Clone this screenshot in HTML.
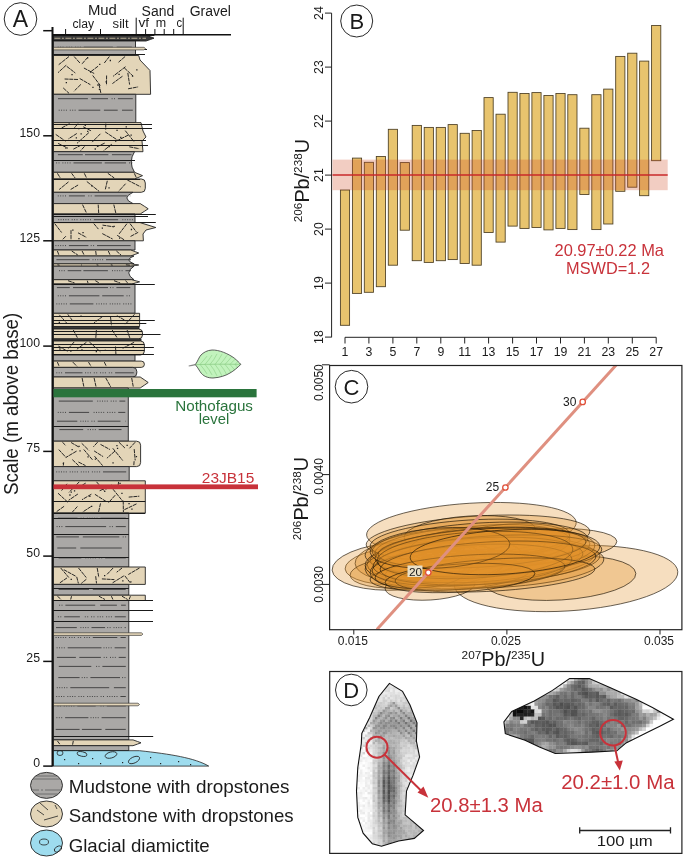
<!DOCTYPE html>
<html><head><meta charset="utf-8"><style>
html,body{margin:0;padding:0;background:#fff;}
svg{display:block;will-change:transform;}
text{font-family:"Liberation Sans",sans-serif;}
</style></head><body>
<svg width="685" height="859" viewBox="0 0 685 859">
<rect width="685" height="859" fill="#fff"/>
<g id="column">
<path d="M53.4,35 L135.5,35 L135.5,55.5 L53.4,55.5 Z" fill="#aaa8a6" stroke="#222" stroke-width="0.9"/>
<path d="M56.0,39.0h14.2 M73.8,39.0h1 M76.2,39.0h1 M80.1,39.0h18.4 M100.8,39.0h1 M103.2,39.0h1 M105.6,39.0h1 M109.5,39.0h1 M111.9,39.0h1 M114.3,39.0h1 M116.7,39.0h1 M119.1,39.0h1 M123.0,39.0h1 M125.4,39.0h1 M129.3,39.0h3.2" stroke="#3a3a3a" stroke-width="1" opacity="0.9"/>
<path d="M57.7,47.2h1 M60.1,47.2h1 M62.5,47.2h1 M66.4,47.2h1 M68.8,47.2h1 M71.2,47.2h1 M75.1,47.2h1 M77.5,47.2h1 M79.9,47.2h1 M83.8,47.2h29.1 M116.7,47.2h15.1" stroke="#3a3a3a" stroke-width="1" opacity="0.9"/>
<path d="M53.4,35.3 L146,35.3 Q151,37.01 154,38.15 Q151,39.29 146,41 L53.4,41 Z" fill="#3a3a3a" stroke="#222" stroke-width="0.9"/>
<path d="M53.4,55.5 L138.7,55.5 L140,60 L150,70.5 L150.6,94.3 L53.4,94.3 Z" fill="#e3d5b8" stroke="#222" stroke-width="0.9"/>
<path d="M69.0,56.5L58.7,64.7 M74.1,56.5L80.0,63.1 M87.8,57.2L81.6,64.4 M109.4,56.5L104.3,63.0 M125.1,56.5L118.0,62.7 M66.2,65.2L58.0,72.7 M66.7,66.3L75.3,73.0 M83.9,68.0L94.2,73.5 M98.1,66.2L90.1,72.2 M125.5,66.7L113.1,76.3 M124.2,67.8L133.1,76.1 M64.6,79.0L78.0,79.5 M79.7,78.5L90.4,84.7 M92.7,75.5L100.3,85.5 M106.6,75.5L106.5,85.1 M122.5,76.2L112.4,83.6 M127.8,72.9L129.6,84.6 M63.2,87.9L69.0,93.3 M80.9,84.4L74.0,91.2 M99.0,84.4L100.9,93.3 M128.1,88.8L138.1,86.9" stroke="#1e1e1e" stroke-width="0.95" stroke-dasharray="4 0.7" fill="none"/>
<path d="M71.4,74.7h1.3 M90.1,72.2h1.3 M97.3,85.0h1.3 M105.5,81.8h1.3 M136.2,69.9h1.3 M87.0,57.9h1.3 M92.3,87.4h1.3 M118.4,74.3h1.3 M131.9,76.2h1.3 M98.8,89.3h1.3 M65.7,82.7h1.3 M99.1,64.4h1.3 M109.7,60.5h1.3" stroke="#222" stroke-width="1.3"/>
<path d="M53.4,94.3 L135.8,94.3 L135.8,122.6 L53.4,122.6 Z" fill="#aaa8a6" stroke="#222" stroke-width="0.9"/>
<path d="M58.0,98.7h29.9 M91.3,98.7h16.7 M111.6,98.7h1 M114.0,98.7h1 M117.9,98.7h14.9" stroke="#3a3a3a" stroke-width="1" opacity="0.9"/>
<path d="M58.7,110.2h1 M61.1,110.2h1 M63.5,110.2h1 M65.9,110.2h1 M69.8,110.2h1 M72.2,110.2h1 M74.6,110.2h1 M78.5,110.2h21.8 M103.9,110.2h13.8 M122.0,110.2h10.8" stroke="#3a3a3a" stroke-width="1" opacity="0.9"/>
<path d="M53.4,122.6 L141,122.6 L143,131 L146,137 L142,141 L143,151.7 L53.4,151.7 Z" fill="#e3d5b8" stroke="#222" stroke-width="0.9"/>
<path d="M69.6,123.6L60.8,128.4 M77.9,123.6L73.8,128.6 M83.2,126.8L91.6,131.1 M105.8,123.6L105.7,129.6 M55.7,134.4L65.6,141.2 M76.8,133.5L68.4,138.9 M88.9,132.6L77.0,143.3 M100.4,133.8L92.2,142.1 M105.2,131.9L117.8,140.3 M128.4,135.0L115.0,141.8 M125.2,130.6L134.3,142.0 M58.1,143.4L67.9,148.2 M81.1,145.2L72.9,149.4 M84.5,146.4L80.6,150.7 M104.7,143.1L96.5,147.0 M111.8,144.2L103.6,150.7 M129.3,146.8L139.1,148.7" stroke="#1e1e1e" stroke-width="0.95" stroke-dasharray="4 0.7" fill="none"/>
<path d="M75.7,137.9h1.3 M84.6,125.3h1.3 M94.6,149.0h1.3 M108.4,146.6h1.3 M130.5,135.1h1.3 M65.3,148.2h1.3 M78.1,128.7h1.3 M80.5,133.8h1.3 M120.1,137.5h1.3 M125.6,126.8h1.3 M87.1,131.4h1.3 M116.4,130.4h1.3" stroke="#222" stroke-width="1.3"/>
<path d="M53.4,151.7 L134.5,151.7 Q128,162.0 134.5,172.3 L53.4,172.3 Z" fill="#aaa8a6" stroke="#222" stroke-width="0.9"/>
<path d="M57.9,154.7h24.9 M85.0,154.7h23.4 M111.9,154.7h19.6" stroke="#3a3a3a" stroke-width="1" opacity="0.9"/>
<path d="M56.1,162.9h1 M58.5,162.9h1 M62.4,162.9h1 M64.8,162.9h1 M67.2,162.9h1 M69.6,162.9h1 M73.5,162.9h28.4 M104.7,162.9h21.3 M129.0,162.9h1 M131.4,162.9h1" stroke="#3a3a3a" stroke-width="1" opacity="0.9"/>
<path d="M53.4,172.3 L134.5,172.3 Q139.5,174.31 142.5,175.65 Q139.5,176.99 134.5,179 L53.4,179 Z" fill="#e3d5b8" stroke="#222" stroke-width="0.9"/>
<path d="M57.4,173.3L60.3,178.0 M71.6,173.3L75.1,178.0 M84.3,173.3L86.6,178.0 M107.8,173.3L114.3,178.0 M134.3,173.3L136.5,178.0" stroke="#1e1e1e" stroke-width="0.95" stroke-dasharray="4 0.7" fill="none"/>
<path d="M53.4,179 L141.3,179 Q145.3,179 145.3,183 L145.3,188.3 Q145.3,192.3 141.3,192.3 L53.4,192.3 Z" fill="#e3d5b8" stroke="#222" stroke-width="0.9"/>
<path d="M68.5,181.9L59.2,189.5 M78.1,185.0L70.3,189.7 M86.8,181.5L99.1,191.3 M107.3,180.8L105.2,190.0 M125.6,183.7L118.6,191.3 M127.3,180.0L140.6,186.8" stroke="#1e1e1e" stroke-width="0.95" stroke-dasharray="4 0.7" fill="none"/>
<path d="M91.1,185.9h1.3 M108.4,187.9h1.3" stroke="#222" stroke-width="1.3"/>
<path d="M53.4,192.3 L133,192.3 Q120.7,197.95 133,203.6 L53.4,203.6 Z" fill="#aaa8a6" stroke="#222" stroke-width="0.9"/>
<path d="M57.8,195.9h1 M60.2,195.9h1 M62.6,195.9h1 M65.0,195.9h1 M68.9,195.9h16.0 M88.3,195.9h1 M90.7,195.9h1 M94.6,195.9h32.3 M129.8,195.9h0.5" stroke="#3a3a3a" stroke-width="1" opacity="0.9"/>
<path d="M53.4,203.6 L140.2,203.6 Q145.2,206.72 148.2,208.8 Q145.2,210.88 140.2,214 L53.4,214 Z" fill="#e3d5b8" stroke="#222" stroke-width="0.9"/>
<path d="M82.5,204.6L86.5,213.0 M98.2,204.6L98.7,213.0 M113.8,204.6L115.8,213.0" stroke="#1e1e1e" stroke-width="0.95" stroke-dasharray="4 0.7" fill="none"/>
<path d="M53.4,214 L135,214 L135,222.6 L53.4,222.6 Z" fill="#aaa8a6" stroke="#222" stroke-width="0.9"/>
<path d="M58.2,219.7h1 M60.6,219.7h1 M63.0,219.7h1 M65.4,219.7h1 M67.8,219.7h1 M71.7,219.7h1 M74.1,219.7h1 M76.5,219.7h1 M80.4,219.7h1 M82.8,219.7h1 M85.2,219.7h1 M87.6,219.7h1 M90.0,219.7h1 M93.9,219.7h24.2 M122.3,219.7h1 M124.7,219.7h1 M127.1,219.7h1 M129.5,219.7h1 M131.9,219.7h1" stroke="#3a3a3a" stroke-width="1" opacity="0.9"/>
<path d="M53.4,222.6 L140,222.6 L155.8,227.5 L146,230 L143,234 L143.4,240.8 L53.4,240.8 Z" fill="#e3d5b8" stroke="#222" stroke-width="0.9"/>
<path d="M54.7,223.6L61.6,232.5 M93.8,223.6L98.4,229.1 M102.5,225.1L114.0,226.9 M126.9,223.7L119.1,233.9 M130.0,223.6L136.3,231.8 M65.9,236.2L62.3,239.8 M71.0,230.2L71.0,239.8 M78.0,232.8L86.5,237.4 M102.3,233.6L112.6,239.0 M117.2,235.3L124.1,239.8 M138.2,232.3L130.1,236.7" stroke="#1e1e1e" stroke-width="0.95" stroke-dasharray="4 0.7" fill="none"/>
<path d="M72.2,230.2h1.3 M101.7,228.1h1.3 M130.8,229.5h1.3 M78.3,238.7h1.3 M82.4,232.7h1.3 M113.5,226.4h1.3 M119.0,238.1h1.3" stroke="#222" stroke-width="1.3"/>
<path d="M53.4,240.8 L135,240.8 L135,250 L53.4,250 Z" fill="#aaa8a6" stroke="#222" stroke-width="0.9"/>
<path d="M55.4,245.6h1 M57.8,245.6h1 M60.2,245.6h1 M62.6,245.6h1 M65.0,245.6h1 M68.9,245.6h19.5 M90.7,245.6h1 M93.1,245.6h1 M97.0,245.6h33.7" stroke="#3a3a3a" stroke-width="1" opacity="0.9"/>
<path d="M53.4,250 L130.7,250 Q135.7,251.8 138.7,253.0 Q135.7,254.2 130.7,256 L53.4,256 Z" fill="#e3d5b8" stroke="#222" stroke-width="0.9"/>
<path d="M57.4,251.0L58.9,255.0 M71.7,251.0L77.8,255.0 M82.1,251.0L84.1,255.0 M95.7,251.0L96.2,255.0 M108.3,251.0L110.1,255.0 M116.4,251.0L121.0,255.0" stroke="#1e1e1e" stroke-width="0.95" stroke-dasharray="4 0.7" fill="none"/>
<path d="M53.4,256 L134,256 Q123.5,259.9 134,263.8 L53.4,263.8 Z" fill="#aaa8a6" stroke="#222" stroke-width="0.9"/>
<path d="M56.4,259.7h33.1 M92.5,259.7h1 M94.9,259.7h1 M97.3,259.7h1 M99.7,259.7h1 M102.1,259.7h1 M106.0,259.7h25.0" stroke="#3a3a3a" stroke-width="1" opacity="0.9"/>
<path d="M53.4,263.8 L130.7,263.8 Q135.7,264.52 138.7,265.0 Q135.7,265.48 130.7,266.2 L53.4,266.2 Z" fill="#e3d5b8" stroke="#222" stroke-width="0.9"/>
<path d="M57.4,264.8L59.6,265.2 M81.9,264.8L81.1,265.2 M96.6,264.8L98.4,265.2 M110.8,264.8L112.6,265.2 M125.9,264.8L130.0,265.2" stroke="#1e1e1e" stroke-width="0.95" stroke-dasharray="4 0.7" fill="none"/>
<path d="M53.4,266.2 L134,266.2 Q123.5,272.95 134,279.7 L53.4,279.7 Z" fill="#aaa8a6" stroke="#222" stroke-width="0.9"/>
<path d="M59.0,270.7h1 M61.4,270.7h1 M63.8,270.7h1 M67.7,270.7h13.6 M83.4,270.7h24.5 M112.0,270.7h1 M114.4,270.7h1 M116.8,270.7h1 M119.2,270.7h1 M121.6,270.7h1 M125.5,270.7h5.5" stroke="#3a3a3a" stroke-width="1" opacity="0.9"/>
<path d="M53.4,279.7 L131.6,279.7 Q136.6,280.99 139.6,281.85 Q136.6,282.71 131.6,284 L53.4,284 Z" fill="#e3d5b8" stroke="#222" stroke-width="0.9"/>
<path d="M68.0,280.7L74.6,283.0 M87.3,280.7L88.0,283.0 M95.3,280.7L99.3,283.0 M114.0,280.7L120.2,283.0 M125.4,280.7L127.8,283.0" stroke="#1e1e1e" stroke-width="0.95" stroke-dasharray="4 0.7" fill="none"/>
<path d="M53.4,284 L135,284 L135,313.3 L53.4,313.3 Z" fill="#aaa8a6" stroke="#222" stroke-width="0.9"/>
<path d="M56.9,287.6h12.9 M73.0,287.6h35.0 M110.1,287.6h1 M112.5,287.6h1 M116.4,287.6h13.9" stroke="#3a3a3a" stroke-width="1" opacity="0.9"/>
<path d="M57.8,295.8h1 M60.2,295.8h1 M62.6,295.8h1 M65.0,295.8h1 M68.9,295.8h30.5 M102.2,295.8h21.5 M126.5,295.8h1 M128.9,295.8h1" stroke="#3a3a3a" stroke-width="1" opacity="0.9"/>
<path d="M56.3,303.9h1 M58.7,303.9h1 M61.1,303.9h1 M63.5,303.9h1 M65.9,303.9h1 M69.8,303.9h23.6 M96.2,303.9h1 M98.6,303.9h1 M101.0,303.9h1 M103.4,303.9h1 M105.8,303.9h1 M109.7,303.9h1 M112.1,303.9h1 M114.5,303.9h1 M116.9,303.9h1 M119.3,303.9h1 M123.2,303.9h1 M125.6,303.9h1 M128.0,303.9h1 M130.4,303.9h1" stroke="#3a3a3a" stroke-width="1" opacity="0.9"/>
<path d="M53.4,313.3 L139.6,313.3 L139.6,326.6 L53.4,326.6 Z" fill="#e3d5b8" stroke="#222" stroke-width="0.9"/>
<path d="M59.3,314.8L66.8,323.2 M67.8,314.3L72.5,320.6 M102.6,316.5L94.0,322.8 M110.4,316.0L111.5,325.6 M116.9,315.7L126.2,321.0 M134.5,314.3L125.1,324.5" stroke="#1e1e1e" stroke-width="0.95" stroke-dasharray="4 0.7" fill="none"/>
<path d="M58.7,322.3h1.3 M80.4,316.2h1.3" stroke="#222" stroke-width="1.3"/>
<path d="M53.4,326.6 L139,326.6 L139,329 L53.4,329 Z" fill="#3a3a3a" stroke="#222" stroke-width="0.9"/>
<path d="M53.4,329 L138.5,329 Q142.5,329 142.5,333 L142.5,334.9 Q142.5,338.9 138.5,338.9 L53.4,338.9 Z" fill="#e3d5b8" stroke="#222" stroke-width="0.9"/>
<path d="M73.3,330.0L77.5,337.9 M96.4,330.0L95.8,337.9 M112.2,330.0L117.2,337.9 M127.1,330.0L129.8,337.9" stroke="#1e1e1e" stroke-width="0.95" stroke-dasharray="4 0.7" fill="none"/>
<path d="M53.4,338.9 L141,338.9 L141,341 L53.4,341 Z" fill="#3a3a3a" stroke="#222" stroke-width="0.9"/>
<path d="M53.4,341 L140.4,341 Q144.4,341 144.4,345 L144.4,351 Q144.4,355 140.4,355 L53.4,355 Z" fill="#e3d5b8" stroke="#222" stroke-width="0.9"/>
<path d="M58.4,346.1L67.5,351.3 M74.1,342.0L68.4,348.5 M86.4,342.3L76.9,349.2 M89.4,342.0L100.4,351.8 M115.5,346.5L115.9,354.0 M134.1,342.3L122.7,348.3" stroke="#1e1e1e" stroke-width="0.95" stroke-dasharray="4 0.7" fill="none"/>
<path d="M59.3,349.0h1.3 M70.2,351.0h1.3 M81.3,350.0h1.3 M95.7,351.6h1.3 M104.7,350.3h1.3 M132.6,346.7h1.3" stroke="#222" stroke-width="1.3"/>
<path d="M53.4,355 L135,355 L135,361.1 L53.4,361.1 Z" fill="#aaa8a6" stroke="#222" stroke-width="0.9"/>
<path d="M53.4,361.1 L141.25000000000003,361.1 Q144.4,361.1 144.4,364.25 L144.4,364.25 Q144.4,367.4 141.25000000000003,367.4 L53.4,367.4 Z" fill="#e3d5b8" stroke="#222" stroke-width="0.9"/>
<path d="M57.4,362.1L59.2,366.4 M72.8,362.1L77.0,366.4 M88.5,362.1L91.1,366.4 M104.3,362.1L106.4,366.4" stroke="#1e1e1e" stroke-width="0.95" stroke-dasharray="4 0.7" fill="none"/>
<path d="M53.4,367.4 L132.8,367.4 Q136.8,367.4 136.8,371.4 L136.8,373 Q136.8,377 132.8,377 L53.4,377 Z" fill="#aaa8a6" stroke="#222" stroke-width="0.9"/>
<path d="M56.3,372.8h1 M58.7,372.8h1 M61.1,372.8h1 M65.0,372.8h17.5 M85.1,372.8h1 M87.5,372.8h1 M89.9,372.8h1 M93.8,372.8h1 M96.2,372.8h1 M100.1,372.8h1 M102.5,372.8h1 M104.9,372.8h1 M108.8,372.8h1 M111.2,372.8h1 M115.1,372.8h18.7" stroke="#3a3a3a" stroke-width="1" opacity="0.9"/>
<path d="M53.4,377 L140.2,377 Q145.2,380.3 148.2,382.5 Q145.2,384.7 140.2,388 L53.4,388 Z" fill="#e3d5b8" stroke="#222" stroke-width="0.9"/>
<path d="M82.1,378.0L83.9,387.0 M94.1,378.0L96.1,387.0 M105.8,378.0L110.8,387.0 M131.7,378.0L133.3,387.0" stroke="#1e1e1e" stroke-width="0.95" stroke-dasharray="4 0.7" fill="none"/>
<path d="M53.4,388 L128.3,388 L128.3,441.2 L53.4,441.2 Z" fill="#aaa8a6" stroke="#222" stroke-width="0.9"/>
<path d="M58.0,392.5h1 M60.4,392.5h1 M62.8,392.5h1 M66.7,392.5h1 M69.1,392.5h1 M71.5,392.5h1 M73.9,392.5h1 M77.8,392.5h27.3 M107.3,392.5h18.0" stroke="#3a3a3a" stroke-width="1" opacity="0.9"/>
<path d="M58.8,401.1h34.0 M97.2,401.1h1 M99.6,401.1h1 M102.0,401.1h1 M104.4,401.1h1 M106.8,401.1h1 M110.7,401.1h1 M113.1,401.1h1 M115.5,401.1h1 M119.4,401.1h5.9" stroke="#3a3a3a" stroke-width="1" opacity="0.9"/>
<path d="M57.8,412.4h1 M60.2,412.4h1 M62.6,412.4h1 M65.0,412.4h1 M68.9,412.4h20.2 M93.6,412.4h1 M96.0,412.4h1 M98.4,412.4h1 M100.8,412.4h1 M103.2,412.4h1 M107.1,412.4h1 M109.5,412.4h1 M111.9,412.4h1 M114.3,412.4h1 M118.2,412.4h7.1" stroke="#3a3a3a" stroke-width="1" opacity="0.9"/>
<path d="M57.0,421.2h20.3 M80.3,421.2h1 M82.7,421.2h1 M85.1,421.2h1 M87.5,421.2h1 M91.4,421.2h1 M93.8,421.2h1 M97.7,421.2h22.8 M125.2,421.2h0.5" stroke="#3a3a3a" stroke-width="1" opacity="0.9"/>
<path d="M59.4,429.6h23.8 M87.6,429.6h1 M90.0,429.6h1 M92.4,429.6h1 M94.8,429.6h1 M98.7,429.6h22.8" stroke="#3a3a3a" stroke-width="1" opacity="0.9"/>
<path d="M53.4,441.2 L136.6,441.2 Q140.6,441.2 140.6,445.2 L140.6,462.6 Q140.6,466.6 136.6,466.6 L53.4,466.6 Z" fill="#e3d5b8" stroke="#222" stroke-width="0.9"/>
<path d="M62.4,442.2L65.9,445.6 M71.1,442.5L78.9,447.1 M81.7,443.3L88.8,450.3 M97.6,442.2L93.4,446.8 M100.5,444.4L109.9,449.5 M118.9,442.2L124.9,448.0 M135.2,442.2L129.5,448.3 M58.8,449.6L66.0,457.5 M76.6,451.1L65.8,457.5 M83.8,449.5L92.8,460.2 M94.1,450.9L103.1,456.6 M115.0,451.0L106.9,458.2 M112.8,448.3L122.7,460.5 M134.2,449.1L135.2,460.4 M63.7,462.4L63.3,465.6 M72.3,459.6L78.6,465.6 M78.4,462.0L85.5,465.6 M94.5,456.2L102.6,465.6 M134.1,461.2L133.8,465.6" stroke="#1e1e1e" stroke-width="0.95" stroke-dasharray="4 0.7" fill="none"/>
<path d="M79.4,450.8h1.3 M62.7,463.3h1.3 M71.5,449.6h1.3 M94.8,459.2h1.3 M116.9,448.3h1.3 M135.8,456.7h1.3 M78.4,446.3h1.3 M87.4,456.8h1.3 M112.4,462.8h1.3 M116.3,445.6h1.3 M126.5,445.3h1.3" stroke="#222" stroke-width="1.3"/>
<path d="M53.4,466.6 L129.2,466.6 L129.2,480.8 L53.4,480.8 Z" fill="#aaa8a6" stroke="#222" stroke-width="0.9"/>
<path d="M56.2,471.9h1 M58.6,471.9h1 M61.0,471.9h1 M63.4,471.9h1 M65.8,471.9h1 M69.7,471.9h1 M72.1,471.9h1 M74.5,471.9h1 M76.9,471.9h1 M80.8,471.9h1 M83.2,471.9h1 M85.6,471.9h1 M88.0,471.9h1 M91.9,471.9h1 M94.3,471.9h1 M96.7,471.9h1 M99.1,471.9h1 M103.0,471.9h23.2" stroke="#3a3a3a" stroke-width="1" opacity="0.9"/>
<path d="M53.4,480.8 L145.3,480.8 L145.3,513 L53.4,513 Z" fill="#e3d5b8" stroke="#222" stroke-width="0.9"/>
<path d="M67.0,483.8L61.2,491.0 M79.3,481.8L69.0,492.4 M85.7,483.1L77.4,488.0 M96.5,481.8L104.2,490.7 M111.9,485.0L99.0,491.1 M118.6,481.8L117.9,487.1 M125.5,486.1L135.7,486.6 M58.0,493.2L67.8,502.2 M77.9,494.0L68.6,500.3 M91.4,494.2L82.0,499.7 M94.9,494.3L106.0,501.4 M115.2,495.2L108.4,502.8 M113.0,489.2L122.7,501.2 M128.7,497.1L139.3,496.2 M64.1,506.3L56.1,512.0 M77.4,506.5L72.4,512.0 M90.8,506.7L82.7,512.0 M100.5,503.4L98.6,512.0 M123.2,500.7L123.4,512.0 M136.5,503.9L123.7,510.0" stroke="#1e1e1e" stroke-width="0.95" stroke-dasharray="4 0.7" fill="none"/>
<path d="M73.9,490.9h1.3 M121.3,493.3h1.3 M70.6,492.2h1.3 M104.1,491.3h1.3 M128.4,503.6h1.3 M69.3,495.0h1.3 M89.2,496.4h1.3 M91.0,506.3h1.3 M105.3,488.9h1.3 M119.4,483.3h1.3 M131.3,509.1h1.3" stroke="#222" stroke-width="1.3"/>
<path d="M53.4,513 L128.8,513 L128.8,567 L53.4,567 Z" fill="#aaa8a6" stroke="#222" stroke-width="0.9"/>
<path d="M57.9,518.2h19.6 M80.6,518.2h1 M83.0,518.2h1 M86.9,518.2h1 M89.3,518.2h1 M91.7,518.2h1 M94.1,518.2h1 M96.5,518.2h1 M100.4,518.2h25.4" stroke="#3a3a3a" stroke-width="1" opacity="0.9"/>
<path d="M56.6,526.6h1 M59.0,526.6h1 M61.4,526.6h1 M65.3,526.6h40.8 M109.5,526.6h1 M111.9,526.6h1 M115.8,526.6h10.0" stroke="#3a3a3a" stroke-width="1" opacity="0.9"/>
<path d="M56.3,536.9h22.6 M82.8,536.9h36.5 M122.7,536.9h1 M125.1,536.9h1" stroke="#3a3a3a" stroke-width="1" opacity="0.9"/>
<path d="M57.3,548.0h18.9 M80.3,548.0h41.5" stroke="#3a3a3a" stroke-width="1" opacity="0.9"/>
<path d="M58.6,557.9h22.7 M85.3,557.9h1 M87.7,557.9h1 M90.1,557.9h1 M92.5,557.9h1 M94.9,557.9h1 M98.8,557.9h1 M101.2,557.9h1 M105.1,557.9h20.7" stroke="#3a3a3a" stroke-width="1" opacity="0.9"/>
<path d="M53.4,567 L145.3,567 L145.3,584.4 L53.4,584.4 Z" fill="#e3d5b8" stroke="#222" stroke-width="0.9"/>
<path d="M60.7,568.0L68.8,577.5 M63.8,569.7L75.7,576.2 M78.5,568.0L86.2,577.5 M97.2,568.0L98.8,577.4 M113.1,568.0L107.1,574.3 M122.0,568.0L116.7,572.2 M139.5,568.0L128.3,574.5 M67.0,577.9L59.5,583.1 M76.7,576.8L78.4,583.4 M86.4,579.2L81.3,583.4 M95.7,576.2L96.5,583.4 M101.9,578.9L114.4,579.6 M123.8,575.9L112.6,582.8 M124.8,575.8L130.3,582.9" stroke="#1e1e1e" stroke-width="0.95" stroke-dasharray="4 0.7" fill="none"/>
<path d="M70.6,579.4h1.3 M104.0,575.6h1.3 M130.2,581.9h1.3 M122.2,580.9h1.3" stroke="#222" stroke-width="1.3"/>
<path d="M53.4,584.4 L128.8,584.4 L128.8,595.2 L53.4,595.2 Z" fill="#aaa8a6" stroke="#222" stroke-width="0.9"/>
<path d="M58.6,589.4h30.4 M92.8,589.4h32.9" stroke="#3a3a3a" stroke-width="1" opacity="0.9"/>
<path d="M53.4,595.2 L145.3,595.2 L145.3,600.5 L53.4,600.5 Z" fill="#e3d5b8" stroke="#222" stroke-width="0.9"/>
<path d="M57.4,596.2L61.2,599.5 M71.5,596.2L70.7,599.5 M98.9,596.2L105.0,599.5 M111.4,596.2L112.9,599.5 M122.0,596.2L127.6,599.5 M130.4,596.2L129.1,599.5" stroke="#1e1e1e" stroke-width="0.95" stroke-dasharray="4 0.7" fill="none"/>
<path d="M53.4,600.5 L128.8,600.5 L128.8,739.9 L53.4,739.9 Z" fill="#aaa8a6" stroke="#222" stroke-width="0.9"/>
<path d="M59.1,605.2h1 M61.5,605.2h1 M65.4,605.2h29.8 M100.2,605.2h16.7 M121.1,605.2h4.7" stroke="#3a3a3a" stroke-width="1" opacity="0.9"/>
<path d="M57.9,616.8h1 M60.3,616.8h1 M64.2,616.8h15.7 M84.8,616.8h1 M87.2,616.8h1 M91.1,616.8h1 M93.5,616.8h1 M97.4,616.8h1 M99.8,616.8h1 M102.2,616.8h1 M106.1,616.8h1 M108.5,616.8h1 M110.9,616.8h1 M114.8,616.8h11.0" stroke="#3a3a3a" stroke-width="1" opacity="0.9"/>
<path d="M56.0,627.6h20.8 M80.4,627.6h1 M82.8,627.6h1 M85.2,627.6h1 M87.6,627.6h1 M91.5,627.6h13.6 M107.2,627.6h1 M109.6,627.6h1 M113.5,627.6h1 M115.9,627.6h1 M118.3,627.6h1 M120.7,627.6h1 M124.6,627.6h1.2" stroke="#3a3a3a" stroke-width="1" opacity="0.9"/>
<path d="M55.6,637.5h1 M58.0,637.5h1 M60.4,637.5h1 M62.8,637.5h1 M65.2,637.5h1 M69.1,637.5h1 M71.5,637.5h1 M73.9,637.5h1 M77.8,637.5h1 M80.2,637.5h1 M84.1,637.5h1 M86.5,637.5h1 M88.9,637.5h1 M92.8,637.5h24.5 M120.5,637.5h5.3" stroke="#3a3a3a" stroke-width="1" opacity="0.9"/>
<path d="M56.6,647.8h1 M59.0,647.8h1 M61.4,647.8h1 M63.8,647.8h1 M67.7,647.8h33.8 M103.5,647.8h1 M105.9,647.8h1 M108.3,647.8h1 M110.7,647.8h1 M114.6,647.8h11.2" stroke="#3a3a3a" stroke-width="1" opacity="0.9"/>
<path d="M56.9,657.4h19.0 M79.3,657.4h21.6 M103.7,657.4h1 M106.1,657.4h1 M110.0,657.4h1 M112.4,657.4h1 M114.8,657.4h1 M118.7,657.4h7.1" stroke="#3a3a3a" stroke-width="1" opacity="0.9"/>
<path d="M58.8,666.4h32.5 M96.1,666.4h1 M98.5,666.4h1 M102.4,666.4h23.4" stroke="#3a3a3a" stroke-width="1" opacity="0.9"/>
<path d="M58.3,677.6h21.3 M81.7,677.6h1 M84.1,677.6h1 M86.5,677.6h1 M90.4,677.6h29.6 M122.1,677.6h1 M124.5,677.6h1" stroke="#3a3a3a" stroke-width="1" opacity="0.9"/>
<path d="M56.8,687.7h1 M59.2,687.7h1 M61.6,687.7h1 M64.0,687.7h1 M66.4,687.7h1 M70.3,687.7h38.9 M113.9,687.7h11.9" stroke="#3a3a3a" stroke-width="1" opacity="0.9"/>
<path d="M56.2,696.5h1 M58.6,696.5h1 M61.0,696.5h1 M63.4,696.5h1 M67.3,696.5h1 M69.7,696.5h1 M72.1,696.5h1 M74.5,696.5h1 M78.4,696.5h1 M80.8,696.5h1 M83.2,696.5h1 M87.1,696.5h1 M89.5,696.5h1 M91.9,696.5h1 M94.3,696.5h1 M96.7,696.5h1 M100.6,696.5h1 M103.0,696.5h1 M106.9,696.5h1 M109.3,696.5h1 M111.7,696.5h1 M114.1,696.5h1 M116.5,696.5h1 M120.4,696.5h5.4" stroke="#3a3a3a" stroke-width="1" opacity="0.9"/>
<path d="M57.5,705.9h1 M59.9,705.9h1 M63.8,705.9h1 M66.2,705.9h1 M68.6,705.9h1 M71.0,705.9h1 M73.4,705.9h1 M77.3,705.9h18.4 M100.5,705.9h1 M102.9,705.9h1 M106.8,705.9h19.0" stroke="#3a3a3a" stroke-width="1" opacity="0.9"/>
<path d="M56.4,717.7h1 M58.8,717.7h1 M61.2,717.7h1 M65.1,717.7h23.3 M90.5,717.7h1 M92.9,717.7h1 M95.3,717.7h1 M97.7,717.7h1 M101.6,717.7h24.2" stroke="#3a3a3a" stroke-width="1" opacity="0.9"/>
<path d="M55.7,729.4h23.9 M81.9,729.4h19.7 M105.3,729.4h20.5" stroke="#3a3a3a" stroke-width="1" opacity="0.9"/>
<path d="M53.4,739.9 L133,739.9 Q138,741.64 141,742.8 Q138,743.96 133,745.7 L53.4,745.7 Z" fill="#e3d5b8" stroke="#222" stroke-width="0.9"/>
<path d="M57.4,740.9L60.2,744.7 M73.3,740.9L72.6,744.7" stroke="#1e1e1e" stroke-width="0.95" stroke-dasharray="4 0.7" fill="none"/>
<path d="M53.4,745.7 L128.8,745.7 L128.8,750.7 L53.4,750.7 Z" fill="#aaa8a6" stroke="#222" stroke-width="0.9"/>
</g>
<line x1="53.4" y1="316.5" x2="139.6" y2="316.5" stroke="#1a1a1a" stroke-width="1"/>
<line x1="53.4" y1="331.5" x2="142.5" y2="331.5" stroke="#1a1a1a" stroke-width="1"/>
<line x1="53.4" y1="344.5" x2="144.4" y2="344.5" stroke="#1a1a1a" stroke-width="1"/>
<line x1="53.4" y1="350.5" x2="144.4" y2="350.5" stroke="#1a1a1a" stroke-width="1"/>
<line x1="53.4" y1="35.5" x2="154.4" y2="35.5" stroke="#1a1a1a" stroke-width="1"/>
<line x1="53.4" y1="40.5" x2="140" y2="40.5" stroke="#1a1a1a" stroke-width="1"/>
<line x1="53.4" y1="49.5" x2="147" y2="49.5" stroke="#1a1a1a" stroke-width="1"/>
<line x1="53.4" y1="54.5" x2="145" y2="54.5" stroke="#1a1a1a" stroke-width="1"/>
<line x1="53.4" y1="124.5" x2="152" y2="124.5" stroke="#1a1a1a" stroke-width="1"/>
<line x1="53.4" y1="128.5" x2="152" y2="128.5" stroke="#1a1a1a" stroke-width="1"/>
<line x1="53.4" y1="140.5" x2="146" y2="140.5" stroke="#1a1a1a" stroke-width="1"/>
<line x1="53.4" y1="145.5" x2="148" y2="145.5" stroke="#1a1a1a" stroke-width="1"/>
<line x1="53.4" y1="160.5" x2="135" y2="160.5" stroke="#1a1a1a" stroke-width="1"/>
<line x1="53.4" y1="179.5" x2="140" y2="179.5" stroke="#1a1a1a" stroke-width="1"/>
<line x1="53.4" y1="214.5" x2="155.8" y2="214.5" stroke="#1a1a1a" stroke-width="1"/>
<line x1="53.4" y1="216.5" x2="148" y2="216.5" stroke="#1a1a1a" stroke-width="1"/>
<line x1="53.4" y1="222.5" x2="155.8" y2="222.5" stroke="#1a1a1a" stroke-width="1"/>
<line x1="53.4" y1="284.5" x2="154.8" y2="284.5" stroke="#1a1a1a" stroke-width="1"/>
<line x1="53.4" y1="320.5" x2="154.8" y2="320.5" stroke="#1a1a1a" stroke-width="1"/>
<line x1="53.4" y1="323.5" x2="146.3" y2="323.5" stroke="#1a1a1a" stroke-width="1"/>
<line x1="53.4" y1="334.5" x2="160.5" y2="334.5" stroke="#1a1a1a" stroke-width="1"/>
<line x1="53.4" y1="347.5" x2="153.9" y2="347.5" stroke="#1a1a1a" stroke-width="1"/>
<line x1="53.4" y1="354.5" x2="153.9" y2="354.5" stroke="#1a1a1a" stroke-width="1"/>
<line x1="53.4" y1="426.5" x2="128.3" y2="426.5" stroke="#1a1a1a" stroke-width="1"/>
<line x1="53.4" y1="501.5" x2="145.3" y2="501.5" stroke="#1a1a1a" stroke-width="1"/>
<line x1="53.4" y1="513.5" x2="145.3" y2="513.5" stroke="#1a1a1a" stroke-width="1"/>
<line x1="53.4" y1="518.5" x2="128.8" y2="518.5" stroke="#1a1a1a" stroke-width="1"/>
<line x1="53.4" y1="534.5" x2="128.8" y2="534.5" stroke="#1a1a1a" stroke-width="1"/>
<line x1="53.4" y1="557.5" x2="128.8" y2="557.5" stroke="#1a1a1a" stroke-width="1"/>
<line x1="53.4" y1="588.5" x2="128.8" y2="588.5" stroke="#1a1a1a" stroke-width="1"/>
<line x1="53.4" y1="600.5" x2="153" y2="600.5" stroke="#1a1a1a" stroke-width="1"/>
<line x1="53.4" y1="610.5" x2="153" y2="610.5" stroke="#1a1a1a" stroke-width="1"/>
<line x1="53.4" y1="621.5" x2="153" y2="621.5" stroke="#1a1a1a" stroke-width="1"/>
<line x1="53.4" y1="736.5" x2="153.2" y2="736.5" stroke="#1a1a1a" stroke-width="1"/>
<line x1="53.4" y1="750.5" x2="128.8" y2="750.5" stroke="#1a1a1a" stroke-width="1"/>
<path d="M53.4,47.300000000000004 L144,47.300000000000004 Q147,48.6 144,49.9 L53.4,49.9 Z" fill="#e3d5b8" stroke="#222" stroke-width="0.6"/>
<path d="M53.4,632.8000000000001 L141.4,632.8000000000001 Q144.4,634.1 141.4,635.4 L53.4,635.4 Z" fill="#e3d5b8" stroke="#222" stroke-width="0.6"/>
<path d="M53.4,703.2 L138,703.2 Q141,704.5 138,705.8 L53.4,705.8 Z" fill="#e3d5b8" stroke="#222" stroke-width="0.6"/>
<line x1="54.4" y1="38.2" x2="146" y2="38.2" stroke="#b8ad94" stroke-width="1.1" stroke-dasharray="6 1.5 2 1.5"/>
<path d="M53.4,750.7 L139.5,750.7 C170,754 195,758 208.7,766.1 L53.4,766.1 Z" fill="#9edcee" stroke="#222" stroke-width="0.8"/>
<ellipse cx="60" cy="753" rx="3" ry="2.5" transform="rotate(0 60 753)" fill="none" stroke="#222" stroke-width="0.8"/>
<ellipse cx="82" cy="754" rx="5" ry="2.3" transform="rotate(10 82 754)" fill="none" stroke="#222" stroke-width="0.8"/>
<ellipse cx="111" cy="755" rx="6" ry="3" transform="rotate(-15 111 755)" fill="none" stroke="#222" stroke-width="0.8"/>
<ellipse cx="134" cy="760" rx="6" ry="3" transform="rotate(-25 134 760)" fill="none" stroke="#222" stroke-width="0.8"/>
<rect x="64" y="759" width="1.2" height="1.2" fill="#222"/>
<rect x="78" y="763" width="1.2" height="1.2" fill="#222"/>
<rect x="92" y="758" width="1.2" height="1.2" fill="#222"/>
<rect x="100" y="763" width="1.2" height="1.2" fill="#222"/>
<rect x="122" y="762" width="1.2" height="1.2" fill="#222"/>
<rect x="150" y="757" width="1.2" height="1.2" fill="#222"/>
<rect x="160" y="763" width="1.2" height="1.2" fill="#222"/>
<rect x="178" y="761" width="1.2" height="1.2" fill="#222"/>
<rect x="190" y="764" width="1.2" height="1.2" fill="#222"/>
<line x1="52.5" y1="27" x2="52.5" y2="766.5" stroke="#111" stroke-width="2"/>
<line x1="43.2" y1="30.7" x2="52.5" y2="30.7" stroke="#111" stroke-width="1.5"/>
<line x1="43.2" y1="135.8" x2="52.5" y2="135.8" stroke="#111" stroke-width="1.5"/>
<text x="40.0" y="136.7" font-size="12.3" fill="#1a1a1a" text-anchor="end" >150</text>
<line x1="43.2" y1="240.8" x2="52.5" y2="240.8" stroke="#111" stroke-width="1.5"/>
<text x="40.0" y="241.7" font-size="12.3" fill="#1a1a1a" text-anchor="end" >125</text>
<line x1="43.2" y1="346.1" x2="52.5" y2="346.1" stroke="#111" stroke-width="1.5"/>
<text x="40.0" y="347.0" font-size="12.3" fill="#1a1a1a" text-anchor="end" >100</text>
<line x1="43.2" y1="451.4" x2="52.5" y2="451.4" stroke="#111" stroke-width="1.5"/>
<text x="40.0" y="452.3" font-size="12.3" fill="#1a1a1a" text-anchor="end" >75</text>
<line x1="43.2" y1="556.1" x2="52.5" y2="556.1" stroke="#111" stroke-width="1.5"/>
<text x="40.0" y="557.0" font-size="12.3" fill="#1a1a1a" text-anchor="end" >50</text>
<line x1="43.2" y1="661.4" x2="52.5" y2="661.4" stroke="#111" stroke-width="1.5"/>
<text x="40.0" y="662.3" font-size="12.3" fill="#1a1a1a" text-anchor="end" >25</text>
<line x1="43.2" y1="766.1" x2="52.5" y2="766.1" stroke="#111" stroke-width="1.5"/>
<text x="40.0" y="767.0" font-size="12.3" fill="#1a1a1a" text-anchor="end" >0</text>
<line x1="52.5" y1="34.8" x2="231" y2="34.8" stroke="#111" stroke-width="1.6"/>
<line x1="65.6" y1="29" x2="65.6" y2="34.8" stroke="#111" stroke-width="1"/>
<line x1="100.5" y1="29" x2="100.5" y2="34.8" stroke="#111" stroke-width="1"/>
<line x1="145.6" y1="29" x2="145.6" y2="34.8" stroke="#111" stroke-width="1"/>
<line x1="154.9" y1="29" x2="154.9" y2="34.8" stroke="#111" stroke-width="1"/>
<line x1="164.2" y1="29" x2="164.2" y2="34.8" stroke="#111" stroke-width="1"/>
<line x1="173.7" y1="29" x2="173.7" y2="34.8" stroke="#111" stroke-width="1"/>
<line x1="136.2" y1="17.7" x2="136.2" y2="34.8" stroke="#111" stroke-width="1"/>
<line x1="183.2" y1="17.7" x2="183.2" y2="34.8" stroke="#111" stroke-width="1"/>
<text x="87.9" y="15.4" font-size="14" fill="#1a1a1a" text-anchor="start" textLength="29.0" lengthAdjust="spacingAndGlyphs" >Mud</text>
<text x="141.6" y="15.5" font-size="14" fill="#1a1a1a" text-anchor="start" textLength="32.6" lengthAdjust="spacingAndGlyphs" >Sand</text>
<text x="189.7" y="15.5" font-size="14" fill="#1a1a1a" text-anchor="start" textLength="41.2" lengthAdjust="spacingAndGlyphs" >Gravel</text>
<text x="72.4" y="27.5" font-size="12" fill="#1a1a1a" text-anchor="start" textLength="21.6" lengthAdjust="spacingAndGlyphs" >clay</text>
<text x="112.6" y="27.5" font-size="12" fill="#1a1a1a" text-anchor="start" textLength="16.0" lengthAdjust="spacingAndGlyphs" >silt</text>
<text x="138.4" y="27.3" font-size="12" fill="#1a1a1a" text-anchor="start" textLength="10.6" lengthAdjust="spacingAndGlyphs" >vf</text>
<text x="155.7" y="27.3" font-size="12" fill="#1a1a1a" text-anchor="start" textLength="10.4" lengthAdjust="spacingAndGlyphs" >m</text>
<text x="176.6" y="27.3" font-size="12" fill="#1a1a1a" text-anchor="start" textLength="5.6" lengthAdjust="spacingAndGlyphs" >c</text>
<circle cx="20.5" cy="19" r="16.3" fill="none" stroke="#111" stroke-width="0.9"/>
<text x="20.5" y="27.3" font-size="23" fill="#1a1a1a" text-anchor="middle" >A</text>
<text x="18.0" y="495.1" font-size="21" fill="#1a1a1a" text-anchor="start" textLength="182.3" lengthAdjust="spacingAndGlyphs" transform="rotate(-90 18.0 495.1)" >Scale (m above base)</text>
<rect x="53.5" y="389" width="203.1" height="8.3" fill="#2a743c"/>
<text x="175.2" y="410.8" font-size="14.5" fill="#2a743c" text-anchor="start" textLength="77.8" lengthAdjust="spacingAndGlyphs" >Nothofagus</text>
<text x="198.8" y="423.8" font-size="14.5" fill="#2a743c" text-anchor="start" textLength="30.4" lengthAdjust="spacingAndGlyphs" >level</text>
<rect x="53.5" y="484.4" width="204.5" height="4.8" fill="#c8323a"/>
<text x="201.8" y="483.1" font-size="15.5" fill="#c8323a" text-anchor="start" textLength="52.5" lengthAdjust="spacingAndGlyphs" >23JB15</text>
<path d="M188.7,366 Q192,365.5 195.3,364.6" stroke="#888" stroke-width="1.1" fill="none"/>
<defs><clipPath id="leafc"><path d="M195.3,364.6 C198,361 199,357 201,355 C203.5,352.5 207,350.3 212,350 C219,349.8 228,353.5 234.5,358.3 C237,360.5 239.3,362.5 240.8,364.4 C237.5,367.5 234,370.8 230,373 C226,375.5 220,377.6 213,378 C208,378 203,376.5 200,371.5 C198.5,369 197,366.5 195.3,364.6 Z"/></clipPath></defs><path d="M195.3,364.6 C198,361 199,357 201,355 C203.5,352.5 207,350.3 212,350 C219,349.8 228,353.5 234.5,358.3 C237,360.5 239.3,362.5 240.8,364.4 C237.5,367.5 234,370.8 230,373 C226,375.5 220,377.6 213,378 C208,378 203,376.5 200,371.5 C198.5,369 197,366.5 195.3,364.6 Z" fill="#c2f3bd"/>
<path d="M195.5,364.6 C210,364.2 225,364 240.5,364.4" stroke="#86c980" stroke-width="0.7" fill="none"/>
<path clip-path="url(#leafc)" d="M200,364.4 Q204,360 207,356.14 M200,364.4 Q204,369 207,373.9 M205,364.4 Q209,360 212,355.04 M205,364.4 Q209,369 212,374.9 M210,364.4 Q214,360 217,353.94 M210,364.4 Q214,369 217,375.9 M215,364.4 Q219,360 222,354.16 M215,364.4 Q219,369 222,376.1 M220,364.4 Q224,360 227,355.26 M220,364.4 Q224,369 227,375.1 M225,364.4 Q229,360 232,356.36 M225,364.4 Q229,369 232,374.1 M230,364.4 Q234,360 237,357.46 M230,364.4 Q234,369 237,373.1 M235,364.4 Q239,360 242,358.56 M235,364.4 Q239,369 242,372.1" stroke="#86c980" stroke-width="0.55" fill="none"/>
<path d="M195.3,364.6 C198,361 199,357 201,355 C203.5,352.5 207,350.3 212,350 C219,349.8 228,353.5 234.5,358.3 C237,360.5 239.3,362.5 240.8,364.4 C237.5,367.5 234,370.8 230,373 C226,375.5 220,377.6 213,378 C208,378 203,376.5 200,371.5 C198.5,369 197,366.5 195.3,364.6 Z" fill="none" stroke="#3a3a3a" stroke-width="0.8"/>
<ellipse cx="46.5" cy="785.4" rx="16" ry="13" fill="#aaa8a6" stroke="#222" stroke-width="0.9"/>
<ellipse cx="46.5" cy="814" rx="16" ry="13" fill="#e3d5b8" stroke="#222" stroke-width="0.9"/>
<ellipse cx="46.5" cy="843" rx="16" ry="13" fill="#9edcee" stroke="#222" stroke-width="0.9"/>
<defs><clipPath id="lgm"><ellipse cx="46.5" cy="785.4" rx="15.5" ry="12.5"/></clipPath></defs>
<path clip-path="url(#lgm)" d="M30,776 h33 M30,779 h33 M31,790 h8 M41,790 h2 M45,790 h18 M30,794 h33" stroke="#666" stroke-width="0.9"/>
<path d="M40,803 L48,810 M37,810 L44,815 M44,820 L58,816 M55,805 L57,809" stroke="#222" stroke-width="0.8"/>
<ellipse cx="44" cy="842" rx="4.5" ry="3" fill="none" stroke="#222" stroke-width="0.8"/><ellipse cx="58" cy="849" rx="4" ry="2.5" transform="rotate(-30 58 849)" fill="none" stroke="#222" stroke-width="0.8"/>
<text x="68.7" y="793.0" font-size="18.5" fill="#1a1a1a" text-anchor="start" textLength="220.8" lengthAdjust="spacingAndGlyphs" >Mudstone with dropstones</text>
<text x="68.7" y="821.9" font-size="18.5" fill="#1a1a1a" text-anchor="start" textLength="225.0" lengthAdjust="spacingAndGlyphs" >Sandstone with dropstones</text>
<text x="68.7" y="851.7" font-size="18.5" fill="#1a1a1a" text-anchor="start" textLength="141.0" lengthAdjust="spacingAndGlyphs" >Glacial diamictite</text>
<line x1="331.6" y1="13.1" x2="331.6" y2="337.3" stroke="#222" stroke-width="1"/>
<line x1="325" y1="337.1" x2="331.6" y2="337.1" stroke="#222" stroke-width="1"/>
<text x="323.5" y="337.1" font-size="12.3" fill="#1a1a1a" text-anchor="middle" transform="rotate(-90 323.5 337.1)" >18</text>
<line x1="325" y1="283.1" x2="331.6" y2="283.1" stroke="#222" stroke-width="1"/>
<text x="323.5" y="283.1" font-size="12.3" fill="#1a1a1a" text-anchor="middle" transform="rotate(-90 323.5 283.1)" >19</text>
<line x1="325" y1="229.1" x2="331.6" y2="229.1" stroke="#222" stroke-width="1"/>
<text x="323.5" y="229.1" font-size="12.3" fill="#1a1a1a" text-anchor="middle" transform="rotate(-90 323.5 229.1)" >20</text>
<line x1="325" y1="175.1" x2="331.6" y2="175.1" stroke="#222" stroke-width="1"/>
<text x="323.5" y="175.1" font-size="12.3" fill="#1a1a1a" text-anchor="middle" transform="rotate(-90 323.5 175.1)" >21</text>
<line x1="325" y1="121.1" x2="331.6" y2="121.1" stroke="#222" stroke-width="1"/>
<text x="323.5" y="121.1" font-size="12.3" fill="#1a1a1a" text-anchor="middle" transform="rotate(-90 323.5 121.1)" >22</text>
<line x1="325" y1="67.1" x2="331.6" y2="67.1" stroke="#222" stroke-width="1"/>
<text x="323.5" y="67.1" font-size="12.3" fill="#1a1a1a" text-anchor="middle" transform="rotate(-90 323.5 67.1)" >23</text>
<line x1="325" y1="13.1" x2="331.6" y2="13.1" stroke="#222" stroke-width="1"/>
<text x="323.5" y="13.1" font-size="12.3" fill="#1a1a1a" text-anchor="middle" transform="rotate(-90 323.5 13.1)" >24</text>
<line x1="345" y1="337.3" x2="656.2" y2="337.3" stroke="#222" stroke-width="1"/>
<line x1="345.0" y1="337.3" x2="345.0" y2="343.5" stroke="#222" stroke-width="1"/>
<text x="345.0" y="356.0" font-size="12.3" fill="#1a1a1a" text-anchor="middle" >1</text>
<line x1="368.9" y1="337.3" x2="368.9" y2="343.5" stroke="#222" stroke-width="1"/>
<text x="368.9" y="356.0" font-size="12.3" fill="#1a1a1a" text-anchor="middle" >3</text>
<line x1="392.9" y1="337.3" x2="392.9" y2="343.5" stroke="#222" stroke-width="1"/>
<text x="392.9" y="356.0" font-size="12.3" fill="#1a1a1a" text-anchor="middle" >5</text>
<line x1="416.8" y1="337.3" x2="416.8" y2="343.5" stroke="#222" stroke-width="1"/>
<text x="416.8" y="356.0" font-size="12.3" fill="#1a1a1a" text-anchor="middle" >7</text>
<line x1="440.8" y1="337.3" x2="440.8" y2="343.5" stroke="#222" stroke-width="1"/>
<text x="440.8" y="356.0" font-size="12.3" fill="#1a1a1a" text-anchor="middle" >9</text>
<line x1="464.7" y1="337.3" x2="464.7" y2="343.5" stroke="#222" stroke-width="1"/>
<text x="464.7" y="356.0" font-size="12.3" fill="#1a1a1a" text-anchor="middle" >11</text>
<line x1="488.6" y1="337.3" x2="488.6" y2="343.5" stroke="#222" stroke-width="1"/>
<text x="488.6" y="356.0" font-size="12.3" fill="#1a1a1a" text-anchor="middle" >13</text>
<line x1="512.6" y1="337.3" x2="512.6" y2="343.5" stroke="#222" stroke-width="1"/>
<text x="512.6" y="356.0" font-size="12.3" fill="#1a1a1a" text-anchor="middle" >15</text>
<line x1="536.5" y1="337.3" x2="536.5" y2="343.5" stroke="#222" stroke-width="1"/>
<text x="536.5" y="356.0" font-size="12.3" fill="#1a1a1a" text-anchor="middle" >17</text>
<line x1="560.5" y1="337.3" x2="560.5" y2="343.5" stroke="#222" stroke-width="1"/>
<text x="560.5" y="356.0" font-size="12.3" fill="#1a1a1a" text-anchor="middle" >19</text>
<line x1="584.4" y1="337.3" x2="584.4" y2="343.5" stroke="#222" stroke-width="1"/>
<text x="584.4" y="356.0" font-size="12.3" fill="#1a1a1a" text-anchor="middle" >21</text>
<line x1="608.3" y1="337.3" x2="608.3" y2="343.5" stroke="#222" stroke-width="1"/>
<text x="608.3" y="356.0" font-size="12.3" fill="#1a1a1a" text-anchor="middle" >23</text>
<line x1="632.3" y1="337.3" x2="632.3" y2="343.5" stroke="#222" stroke-width="1"/>
<text x="632.3" y="356.0" font-size="12.3" fill="#1a1a1a" text-anchor="middle" >25</text>
<line x1="656.2" y1="337.3" x2="656.2" y2="343.5" stroke="#222" stroke-width="1"/>
<text x="656.2" y="356.0" font-size="12.3" fill="#1a1a1a" text-anchor="middle" >27</text>
<rect x="340.4" y="190" width="9.2" height="135.3" fill="#e8c46e" stroke="#4a3d22" stroke-width="0.85"/>
<rect x="352.4" y="158.1" width="9.2" height="135.3" fill="#e8c46e" stroke="#4a3d22" stroke-width="0.85"/>
<rect x="364.3" y="162.3" width="9.2" height="130.0" fill="#e8c46e" stroke="#4a3d22" stroke-width="0.85"/>
<rect x="376.3" y="156.5" width="9.2" height="130.2" fill="#e8c46e" stroke="#4a3d22" stroke-width="0.85"/>
<rect x="388.3" y="129.3" width="9.2" height="135.9" fill="#e8c46e" stroke="#4a3d22" stroke-width="0.85"/>
<rect x="400.2" y="162.6" width="9.2" height="67.6" fill="#e8c46e" stroke="#4a3d22" stroke-width="0.85"/>
<rect x="412.2" y="125.4" width="9.2" height="135.3" fill="#e8c46e" stroke="#4a3d22" stroke-width="0.85"/>
<rect x="424.2" y="127.4" width="9.2" height="135.0" fill="#e8c46e" stroke="#4a3d22" stroke-width="0.85"/>
<rect x="436.2" y="127.4" width="9.2" height="133.3" fill="#e8c46e" stroke="#4a3d22" stroke-width="0.85"/>
<rect x="448.1" y="124.6" width="9.2" height="135.0" fill="#e8c46e" stroke="#4a3d22" stroke-width="0.85"/>
<rect x="460.1" y="133.3" width="9.2" height="130.2" fill="#e8c46e" stroke="#4a3d22" stroke-width="0.85"/>
<rect x="472.1" y="130.5" width="9.2" height="134.7" fill="#e8c46e" stroke="#4a3d22" stroke-width="0.85"/>
<rect x="484.0" y="97.6" width="9.2" height="134.9" fill="#e8c46e" stroke="#4a3d22" stroke-width="0.85"/>
<rect x="496.0" y="114.2" width="9.2" height="127.9" fill="#e8c46e" stroke="#4a3d22" stroke-width="0.85"/>
<rect x="508.0" y="92.3" width="9.2" height="133.8" fill="#e8c46e" stroke="#4a3d22" stroke-width="0.85"/>
<rect x="519.9" y="93.5" width="9.2" height="134.9" fill="#e8c46e" stroke="#4a3d22" stroke-width="0.85"/>
<rect x="531.9" y="92.6" width="9.2" height="134.9" fill="#e8c46e" stroke="#4a3d22" stroke-width="0.85"/>
<rect x="543.9" y="95.5" width="9.2" height="134.4" fill="#e8c46e" stroke="#4a3d22" stroke-width="0.85"/>
<rect x="555.9" y="93.5" width="9.2" height="134.9" fill="#e8c46e" stroke="#4a3d22" stroke-width="0.85"/>
<rect x="567.8" y="94.7" width="9.2" height="134.9" fill="#e8c46e" stroke="#4a3d22" stroke-width="0.85"/>
<rect x="579.8" y="128.2" width="9.2" height="66.3" fill="#e8c46e" stroke="#4a3d22" stroke-width="0.85"/>
<rect x="591.8" y="94.7" width="9.2" height="134.9" fill="#e8c46e" stroke="#4a3d22" stroke-width="0.85"/>
<rect x="603.7" y="89.1" width="9.2" height="134.9" fill="#e8c46e" stroke="#4a3d22" stroke-width="0.85"/>
<rect x="615.7" y="56.4" width="9.2" height="134.9" fill="#e8c46e" stroke="#4a3d22" stroke-width="0.85"/>
<rect x="627.7" y="53.2" width="9.2" height="134.0" fill="#e8c46e" stroke="#4a3d22" stroke-width="0.85"/>
<rect x="639.6" y="61.1" width="9.2" height="134.6" fill="#e8c46e" stroke="#4a3d22" stroke-width="0.85"/>
<rect x="651.6" y="25.5" width="9.2" height="135.2" fill="#e8c46e" stroke="#4a3d22" stroke-width="0.85"/>
<rect x="332.5" y="159.6" width="335.2" height="30.6" fill="#d24a24" fill-opacity="0.28"/>
<line x1="332.5" y1="175" x2="667.7" y2="175" stroke="#c8282a" stroke-width="1.6"/>
<text x="309.0" y="180.6" font-size="19.8" fill="#1a1a1a" text-anchor="middle" transform="rotate(-90 309.0 180.6)" ><tspan font-size="11.8" dy="-6.8">206</tspan><tspan dy="6.8">Pb/</tspan><tspan font-size="11.8" dy="-6.8">238</tspan><tspan dy="6.8">U</tspan></text>
<circle cx="356.7" cy="21" r="16" fill="#fff" stroke="#111" stroke-width="0.9"/>
<text x="356.9" y="29.0" font-size="22" fill="#1a1a1a" text-anchor="middle" >B</text>
<text x="554.5" y="255.6" font-size="16.5" fill="#c8323a" text-anchor="start" textLength="109.5" lengthAdjust="spacingAndGlyphs" >20.97±0.22 Ma</text>
<text x="566.1" y="274.4" font-size="16.5" fill="#c8323a" text-anchor="start" textLength="83.9" lengthAdjust="spacingAndGlyphs" >MSWD=1.2</text>
<defs><clipPath id="cclip"><rect x="330" y="366" width="351.5" height="263.5"/></clipPath></defs>
<g clip-path="url(#cclip)">
<ellipse cx="471.4" cy="528.7" rx="105" ry="25.5" transform="rotate(-3.5 471.4 528.7)" fill="#e2922a" fill-opacity="0.3" stroke="#1e1508" stroke-width="0.65"/>
<ellipse cx="410" cy="565" rx="65" ry="20" transform="rotate(-3.5 410 565)" fill="#e2922a" fill-opacity="0.3" stroke="#1e1508" stroke-width="0.65"/>
<ellipse cx="415" cy="560" rx="60" ry="22" transform="rotate(-3.5 415 560)" fill="#e2922a" fill-opacity="0.3" stroke="#1e1508" stroke-width="0.65"/>
<ellipse cx="405" cy="572" rx="55" ry="16" transform="rotate(-3.5 405 572)" fill="#e2922a" fill-opacity="0.3" stroke="#1e1508" stroke-width="0.65"/>
<ellipse cx="566" cy="578.5" rx="112" ry="32.5" transform="rotate(-3.5 566 578.5)" fill="#e2922a" fill-opacity="0.3" stroke="#1e1508" stroke-width="0.65"/>
<ellipse cx="400" cy="566" rx="68" ry="24" transform="rotate(-3.5 400 566)" fill="#e2922a" fill-opacity="0.3" stroke="#1e1508" stroke-width="0.65"/>
<ellipse cx="430" cy="586" rx="45" ry="14" transform="rotate(-3.5 430 586)" fill="#e2922a" fill-opacity="0.3" stroke="#1e1508" stroke-width="0.65"/>
<ellipse cx="560" cy="578" rx="76" ry="22" transform="rotate(-3.5 560 578)" fill="#e2922a" fill-opacity="0.3" stroke="#1e1508" stroke-width="0.65"/>
<ellipse cx="540" cy="546" rx="77" ry="17" transform="rotate(-3.5 540 546)" fill="#e2922a" fill-opacity="0.3" stroke="#1e1508" stroke-width="0.65"/>
<ellipse cx="478" cy="538" rx="112" ry="22" transform="rotate(-3.5 478 538)" fill="#e2922a" fill-opacity="0.3" stroke="#1e1508" stroke-width="0.65"/>
<ellipse cx="470" cy="533.5" rx="66" ry="17.5" transform="rotate(-3.5 470 533.5)" fill="#e2922a" fill-opacity="0.3" stroke="#1e1508" stroke-width="0.65"/>
<ellipse cx="455" cy="550" rx="90" ry="22" transform="rotate(-3.5 455 550)" fill="#e2922a" fill-opacity="0.3" stroke="#1e1508" stroke-width="0.65"/>
<ellipse cx="465" cy="555" rx="95" ry="20" transform="rotate(-3.5 465 555)" fill="#e2922a" fill-opacity="0.3" stroke="#1e1508" stroke-width="0.65"/>
<ellipse cx="480" cy="558" rx="100" ry="22" transform="rotate(-3.5 480 558)" fill="#e2922a" fill-opacity="0.3" stroke="#1e1508" stroke-width="0.65"/>
<ellipse cx="490" cy="560" rx="105" ry="22" transform="rotate(-3.5 490 560)" fill="#e2922a" fill-opacity="0.3" stroke="#1e1508" stroke-width="0.65"/>
<ellipse cx="500" cy="562" rx="100" ry="20" transform="rotate(-3.5 500 562)" fill="#e2922a" fill-opacity="0.3" stroke="#1e1508" stroke-width="0.65"/>
<ellipse cx="505" cy="565" rx="99" ry="22" transform="rotate(-3.5 505 565)" fill="#e2922a" fill-opacity="0.3" stroke="#1e1508" stroke-width="0.65"/>
<ellipse cx="445" cy="560" rx="78" ry="22" transform="rotate(-3.5 445 560)" fill="#e2922a" fill-opacity="0.3" stroke="#1e1508" stroke-width="0.65"/>
<ellipse cx="435" cy="565" rx="70" ry="22" transform="rotate(-3.5 435 565)" fill="#e2922a" fill-opacity="0.3" stroke="#1e1508" stroke-width="0.65"/>
<ellipse cx="425" cy="562" rx="60" ry="20" transform="rotate(-3.5 425 562)" fill="#e2922a" fill-opacity="0.3" stroke="#1e1508" stroke-width="0.65"/>
<ellipse cx="460" cy="548" rx="85" ry="20" transform="rotate(-3.5 460 548)" fill="#e2922a" fill-opacity="0.3" stroke="#1e1508" stroke-width="0.65"/>
<ellipse cx="520" cy="548" rx="70" ry="18" transform="rotate(-3.5 520 548)" fill="#e2922a" fill-opacity="0.3" stroke="#1e1508" stroke-width="0.65"/>
<ellipse cx="490" cy="545" rx="80" ry="20" transform="rotate(-3.5 490 545)" fill="#e2922a" fill-opacity="0.3" stroke="#1e1508" stroke-width="0.65"/>
<ellipse cx="475" cy="570" rx="90" ry="18" transform="rotate(-3.5 475 570)" fill="#e2922a" fill-opacity="0.3" stroke="#1e1508" stroke-width="0.65"/>
<ellipse cx="450" cy="575" rx="80" ry="15" transform="rotate(-3.5 450 575)" fill="#e2922a" fill-opacity="0.3" stroke="#1e1508" stroke-width="0.65"/>
<ellipse cx="420" cy="570" rx="50" ry="18" transform="rotate(-3.5 420 570)" fill="#e2922a" fill-opacity="0.3" stroke="#1e1508" stroke-width="0.65"/>
<ellipse cx="510" cy="540" rx="60" ry="16" transform="rotate(-3.5 510 540)" fill="#e2922a" fill-opacity="0.3" stroke="#1e1508" stroke-width="0.65"/>
<ellipse cx="470" cy="540" rx="100" ry="20" transform="rotate(-3.5 470 540)" fill="#e2922a" fill-opacity="0.3" stroke="#1e1508" stroke-width="0.65"/>
<ellipse cx="480" cy="545" rx="108" ry="22" transform="rotate(-3.5 480 545)" fill="#e2922a" fill-opacity="0.3" stroke="#1e1508" stroke-width="0.65"/>
<ellipse cx="485" cy="552" rx="110" ry="24" transform="rotate(-3.5 485 552)" fill="#e2922a" fill-opacity="0.3" stroke="#1e1508" stroke-width="0.65"/>
<ellipse cx="478" cy="560" rx="105" ry="22" transform="rotate(-3.5 478 560)" fill="#e2922a" fill-opacity="0.3" stroke="#1e1508" stroke-width="0.65"/>
<ellipse cx="490" cy="556" rx="112" ry="20" transform="rotate(-3.5 490 556)" fill="#e2922a" fill-opacity="0.3" stroke="#1e1508" stroke-width="0.65"/>
<ellipse cx="472" cy="565" rx="100" ry="20" transform="rotate(-3.5 472 565)" fill="#e2922a" fill-opacity="0.3" stroke="#1e1508" stroke-width="0.65"/>
<ellipse cx="482" cy="548" rx="104" ry="19" transform="rotate(-3.5 482 548)" fill="#e2922a" fill-opacity="0.3" stroke="#1e1508" stroke-width="0.65"/>
<ellipse cx="475" cy="555" rx="98" ry="23" transform="rotate(-3.5 475 555)" fill="#e2922a" fill-opacity="0.3" stroke="#1e1508" stroke-width="0.65"/>
<ellipse cx="488" cy="563" rx="108" ry="21" transform="rotate(-3.5 488 563)" fill="#e2922a" fill-opacity="0.3" stroke="#1e1508" stroke-width="0.65"/>
<ellipse cx="470" cy="572" rx="95" ry="17" transform="rotate(-3.5 470 572)" fill="#e2922a" fill-opacity="0.3" stroke="#1e1508" stroke-width="0.65"/>
<ellipse cx="495" cy="575" rx="100" ry="16" transform="rotate(-3.5 495 575)" fill="#e2922a" fill-opacity="0.3" stroke="#1e1508" stroke-width="0.65"/>
<ellipse cx="460" cy="578" rx="75" ry="14" transform="rotate(-3.5 460 578)" fill="#e2922a" fill-opacity="0.3" stroke="#1e1508" stroke-width="0.65"/>
<ellipse cx="440" cy="548" rx="70" ry="20" transform="rotate(-3.5 440 548)" fill="#e2922a" fill-opacity="0.3" stroke="#1e1508" stroke-width="0.65"/>
<ellipse cx="505" cy="552" rx="95" ry="22" transform="rotate(-3.5 505 552)" fill="#e2922a" fill-opacity="0.3" stroke="#1e1508" stroke-width="0.65"/>
<line x1="376.9" y1="629.5" x2="616.2" y2="365" stroke="#df9080" stroke-width="3"/>
</g>
<rect x="407.5" y="565.5" width="15" height="11.5" fill="#e9dfc6"/>
<text x="422.0" y="575.8" font-size="11.8" fill="#1a1a1a" text-anchor="end" >20</text>
<circle cx="428.3" cy="572.6" r="2.7" fill="#fff" stroke="#e0503a" stroke-width="1.3"/>
<text x="499.1" y="491.2" font-size="12" fill="#1a1a1a" text-anchor="end" >25</text>
<circle cx="505.4" cy="487.5" r="2.7" fill="#fff" stroke="#e0503a" stroke-width="1.3"/>
<text x="576.4" y="405.6" font-size="12" fill="#1a1a1a" text-anchor="end" >30</text>
<circle cx="582.7" cy="401.9" r="2.7" fill="#fff" stroke="#e0503a" stroke-width="1.3"/>
<rect x="329.6" y="365.5" width="352.3" height="264.2" fill="none" stroke="#222" stroke-width="1.2"/>
<line x1="322" y1="584.4" x2="329.6" y2="584.4" stroke="#222" stroke-width="1"/>
<line x1="322" y1="474.6" x2="329.6" y2="474.6" stroke="#222" stroke-width="1"/>
<line x1="322" y1="364.8" x2="329.6" y2="364.8" stroke="#222" stroke-width="1"/>
<text x="323.0" y="382.6" font-size="12" fill="#1a1a1a" text-anchor="middle" transform="rotate(-90 323.0 382.6)" >0.0050</text>
<text x="323.0" y="476.5" font-size="12" fill="#1a1a1a" text-anchor="middle" transform="rotate(-90 323.0 476.5)" >0.0040</text>
<text x="323.0" y="584.4" font-size="12" fill="#1a1a1a" text-anchor="middle" transform="rotate(-90 323.0 584.4)" >0.0030</text>
<line x1="353.8" y1="629.7" x2="353.8" y2="634.5" stroke="#222" stroke-width="1"/>
<text x="352.8" y="645.4" font-size="12" fill="#1a1a1a" text-anchor="middle" >0.015</text>
<line x1="506.9" y1="629.7" x2="506.9" y2="634.5" stroke="#222" stroke-width="1"/>
<text x="505.9" y="645.4" font-size="12" fill="#1a1a1a" text-anchor="middle" >0.025</text>
<line x1="660.0" y1="629.7" x2="660.0" y2="634.5" stroke="#222" stroke-width="1"/>
<text x="659.0" y="645.4" font-size="12" fill="#1a1a1a" text-anchor="middle" >0.035</text>
<text x="308.3" y="498.6" font-size="19.8" fill="#1a1a1a" text-anchor="middle" transform="rotate(-90 308.3 498.6)" ><tspan font-size="11.8" dy="-6.8">206</tspan><tspan dy="6.8">Pb/</tspan><tspan font-size="11.8" dy="-6.8">238</tspan><tspan dy="6.8">U</tspan></text>
<text x="503.3" y="665.8" font-size="19.8" fill="#1a1a1a" text-anchor="middle" ><tspan font-size="11.8" dy="-6.8">207</tspan><tspan dy="6.8">Pb/</tspan><tspan font-size="11.8" dy="-6.8">235</tspan><tspan dy="6.8">U</tspan></text>
<circle cx="351.5" cy="386.7" r="16.3" fill="#fff" stroke="#111" stroke-width="0.9"/>
<text x="351.5" y="395.0" font-size="22" fill="#1a1a1a" text-anchor="middle" >C</text>
<rect x="329.7" y="671.5" width="352.2" height="181.9" fill="none" stroke="#222" stroke-width="1.2"/>
<circle cx="351.3" cy="690" r="15.8" fill="#fff" stroke="#111" stroke-width="0.9"/>
<text x="351.3" y="698.2" font-size="22" fill="#1a1a1a" text-anchor="middle" >D</text>
<defs><clipPath id="lgc"><polygon points="389.4,683.4 402.5,691.3 410,705 417,722.8 416.4,741.2 419.6,757 413,775.4 406.5,791.1 405.1,814.8 414.3,822.6 423.5,830.5 414.3,838.4 398.6,841 381.5,846.3 372.3,843.7 363.1,833.2 357.8,817.4 356.5,791.1 357.8,767.5 361.3,743.8 361.8,733.3 369.7,717.5 378.9,696.5"/></clipPath></defs>
<g clip-path="url(#lgc)"><rect x="387.5" y="682.0" width="2.8" height="2.8" fill="#dedede"/><rect x="390.0" y="682.0" width="2.8" height="2.8" fill="#ededed"/><rect x="392.5" y="682.0" width="2.8" height="2.8" fill="#f1f1f1"/><rect x="385.0" y="684.5" width="2.8" height="2.8" fill="#eaeaea"/><rect x="387.5" y="684.5" width="2.8" height="2.8" fill="#e1e1e1"/><rect x="390.0" y="684.5" width="2.8" height="2.8" fill="#e8e8e8"/><rect x="392.5" y="684.5" width="2.8" height="2.8" fill="#ececec"/><rect x="395.0" y="684.5" width="2.8" height="2.8" fill="#dcdcdc"/><rect x="382.5" y="687.0" width="2.8" height="2.8" fill="#e1e1e1"/><rect x="385.0" y="687.0" width="2.8" height="2.8" fill="#dfdfdf"/><rect x="387.5" y="687.0" width="2.8" height="2.8" fill="#dcdcdc"/><rect x="390.0" y="687.0" width="2.8" height="2.8" fill="#e4e4e4"/><rect x="392.5" y="687.0" width="2.8" height="2.8" fill="#dddddd"/><rect x="395.0" y="687.0" width="2.8" height="2.8" fill="#dfdfdf"/><rect x="397.5" y="687.0" width="2.8" height="2.8" fill="#dcdcdc"/><rect x="400.0" y="687.0" width="2.8" height="2.8" fill="#e9e9e9"/><rect x="380.0" y="689.5" width="2.8" height="2.8" fill="#d8d8d8"/><rect x="382.5" y="689.5" width="2.8" height="2.8" fill="#e9e9e9"/><rect x="385.0" y="689.5" width="2.8" height="2.8" fill="#dcdcdc"/><rect x="387.5" y="689.5" width="2.8" height="2.8" fill="#d8d8d8"/><rect x="390.0" y="689.5" width="2.8" height="2.8" fill="#eeeeee"/><rect x="392.5" y="689.5" width="2.8" height="2.8" fill="#dddddd"/><rect x="395.0" y="689.5" width="2.8" height="2.8" fill="#eeeeee"/><rect x="397.5" y="689.5" width="2.8" height="2.8" fill="#ececec"/><rect x="400.0" y="689.5" width="2.8" height="2.8" fill="#ededed"/><rect x="402.5" y="689.5" width="2.8" height="2.8" fill="#dbdbdb"/><rect x="377.5" y="692.0" width="2.8" height="2.8" fill="#e0e0e0"/><rect x="380.0" y="692.0" width="2.8" height="2.8" fill="#d8d8d8"/><rect x="382.5" y="692.0" width="2.8" height="2.8" fill="#ececec"/><rect x="385.0" y="692.0" width="2.8" height="2.8" fill="#eaeaea"/><rect x="387.5" y="692.0" width="2.8" height="2.8" fill="#e4e4e4"/><rect x="390.0" y="692.0" width="2.8" height="2.8" fill="#e0e0e0"/><rect x="392.5" y="692.0" width="2.8" height="2.8" fill="#dedede"/><rect x="395.0" y="692.0" width="2.8" height="2.8" fill="#e9e9e9"/><rect x="397.5" y="692.0" width="2.8" height="2.8" fill="#e1e1e1"/><rect x="400.0" y="692.0" width="2.8" height="2.8" fill="#e4e4e4"/><rect x="402.5" y="692.0" width="2.8" height="2.8" fill="#d9d9d9"/><rect x="405.0" y="692.0" width="2.8" height="2.8" fill="#dbdbdb"/><rect x="377.5" y="694.5" width="2.8" height="2.8" fill="#d5d5d5"/><rect x="380.0" y="694.5" width="2.8" height="2.8" fill="#e4e4e4"/><rect x="382.5" y="694.5" width="2.8" height="2.8" fill="#e0e0e0"/><rect x="385.0" y="694.5" width="2.8" height="2.8" fill="#d6d6d6"/><rect x="387.5" y="694.5" width="2.8" height="2.8" fill="#e7e7e7"/><rect x="390.0" y="694.5" width="2.8" height="2.8" fill="#d9d9d9"/><rect x="392.5" y="694.5" width="2.8" height="2.8" fill="#dcdcdc"/><rect x="395.0" y="694.5" width="2.8" height="2.8" fill="#d6d6d6"/><rect x="397.5" y="694.5" width="2.8" height="2.8" fill="#d9d9d9"/><rect x="400.0" y="694.5" width="2.8" height="2.8" fill="#e7e7e7"/><rect x="402.5" y="694.5" width="2.8" height="2.8" fill="#dbdbdb"/><rect x="405.0" y="694.5" width="2.8" height="2.8" fill="#d7d7d7"/><rect x="375.0" y="697.0" width="2.8" height="2.8" fill="#dddddd"/><rect x="377.5" y="697.0" width="2.8" height="2.8" fill="#d7d7d7"/><rect x="380.0" y="697.0" width="2.8" height="2.8" fill="#e5e5e5"/><rect x="382.5" y="697.0" width="2.8" height="2.8" fill="#d2d2d2"/><rect x="385.0" y="697.0" width="2.8" height="2.8" fill="#e7e7e7"/><rect x="387.5" y="697.0" width="2.8" height="2.8" fill="#d0d0d0"/><rect x="390.0" y="697.0" width="2.8" height="2.8" fill="#e5e5e5"/><rect x="392.5" y="697.0" width="2.8" height="2.8" fill="#dfdfdf"/><rect x="395.0" y="697.0" width="2.8" height="2.8" fill="#d4d4d4"/><rect x="397.5" y="697.0" width="2.8" height="2.8" fill="#dbdbdb"/><rect x="400.0" y="697.0" width="2.8" height="2.8" fill="#d6d6d6"/><rect x="402.5" y="697.0" width="2.8" height="2.8" fill="#d5d5d5"/><rect x="405.0" y="697.0" width="2.8" height="2.8" fill="#d4d4d4"/><rect x="407.5" y="697.0" width="2.8" height="2.8" fill="#d8d8d8"/><rect x="375.0" y="699.5" width="2.8" height="2.8" fill="#e5e5e5"/><rect x="377.5" y="699.5" width="2.8" height="2.8" fill="#e4e4e4"/><rect x="380.0" y="699.5" width="2.8" height="2.8" fill="#e1e1e1"/><rect x="382.5" y="699.5" width="2.8" height="2.8" fill="#cdcdcd"/><rect x="385.0" y="699.5" width="2.8" height="2.8" fill="#d2d2d2"/><rect x="387.5" y="699.5" width="2.8" height="2.8" fill="#e0e0e0"/><rect x="390.0" y="699.5" width="2.8" height="2.8" fill="#cccccc"/><rect x="392.5" y="699.5" width="2.8" height="2.8" fill="#dadada"/><rect x="395.0" y="699.5" width="2.8" height="2.8" fill="#d2d2d2"/><rect x="397.5" y="699.5" width="2.8" height="2.8" fill="#e2e2e2"/><rect x="400.0" y="699.5" width="2.8" height="2.8" fill="#cbcbcb"/><rect x="402.5" y="699.5" width="2.8" height="2.8" fill="#dedede"/><rect x="405.0" y="699.5" width="2.8" height="2.8" fill="#d3d3d3"/><rect x="407.5" y="699.5" width="2.8" height="2.8" fill="#cecece"/><rect x="372.5" y="702.0" width="2.8" height="2.8" fill="#cdcdcd"/><rect x="375.0" y="702.0" width="2.8" height="2.8" fill="#dddddd"/><rect x="377.5" y="702.0" width="2.8" height="2.8" fill="#d3d3d3"/><rect x="380.0" y="702.0" width="2.8" height="2.8" fill="#cacaca"/><rect x="382.5" y="702.0" width="2.8" height="2.8" fill="#d0d0d0"/><rect x="385.0" y="702.0" width="2.8" height="2.8" fill="#dbdbdb"/><rect x="387.5" y="702.0" width="2.8" height="2.8" fill="#cacaca"/><rect x="390.0" y="702.0" width="2.8" height="2.8" fill="#bababa"/><rect x="392.5" y="702.0" width="2.8" height="2.8" fill="#969696"/><rect x="395.0" y="702.0" width="2.8" height="2.8" fill="#c7c7c7"/><rect x="397.5" y="702.0" width="2.8" height="2.8" fill="#d8d8d8"/><rect x="400.0" y="702.0" width="2.8" height="2.8" fill="#d6d6d6"/><rect x="402.5" y="702.0" width="2.8" height="2.8" fill="#cacaca"/><rect x="405.0" y="702.0" width="2.8" height="2.8" fill="#c7c7c7"/><rect x="407.5" y="702.0" width="2.8" height="2.8" fill="#c7c7c7"/><rect x="410.0" y="702.0" width="2.8" height="2.8" fill="#d4d4d4"/><rect x="372.5" y="704.5" width="2.8" height="2.8" fill="#d4d4d4"/><rect x="375.0" y="704.5" width="2.8" height="2.8" fill="#cacaca"/><rect x="377.5" y="704.5" width="2.8" height="2.8" fill="#c6c6c6"/><rect x="380.0" y="704.5" width="2.8" height="2.8" fill="#cecece"/><rect x="382.5" y="704.5" width="2.8" height="2.8" fill="#d0d0d0"/><rect x="385.0" y="704.5" width="2.8" height="2.8" fill="#d2d2d2"/><rect x="387.5" y="704.5" width="2.8" height="2.8" fill="#b0b0b0"/><rect x="390.0" y="704.5" width="2.8" height="2.8" fill="#a1a1a1"/><rect x="392.5" y="704.5" width="2.8" height="2.8" fill="#b6b6b6"/><rect x="395.0" y="704.5" width="2.8" height="2.8" fill="#9c9c9c"/><rect x="397.5" y="704.5" width="2.8" height="2.8" fill="#c6c6c6"/><rect x="400.0" y="704.5" width="2.8" height="2.8" fill="#d0d0d0"/><rect x="402.5" y="704.5" width="2.8" height="2.8" fill="#c1c1c1"/><rect x="405.0" y="704.5" width="2.8" height="2.8" fill="#d3d3d3"/><rect x="407.5" y="704.5" width="2.8" height="2.8" fill="#c7c7c7"/><rect x="410.0" y="704.5" width="2.8" height="2.8" fill="#d3d3d3"/><rect x="370.0" y="707.0" width="2.8" height="2.8" fill="#f0f0f0"/><rect x="372.5" y="707.0" width="2.8" height="2.8" fill="#d0d0d0"/><rect x="375.0" y="707.0" width="2.8" height="2.8" fill="#bebebe"/><rect x="377.5" y="707.0" width="2.8" height="2.8" fill="#d0d0d0"/><rect x="380.0" y="707.0" width="2.8" height="2.8" fill="#c5c5c5"/><rect x="382.5" y="707.0" width="2.8" height="2.8" fill="#cdcdcd"/><rect x="385.0" y="707.0" width="2.8" height="2.8" fill="#9e9e9e"/><rect x="387.5" y="707.0" width="2.8" height="2.8" fill="#9e9e9e"/><rect x="390.0" y="707.0" width="2.8" height="2.8" fill="#cccccc"/><rect x="392.5" y="707.0" width="2.8" height="2.8" fill="#c1c1c1"/><rect x="395.0" y="707.0" width="2.8" height="2.8" fill="#b3b3b3"/><rect x="397.5" y="707.0" width="2.8" height="2.8" fill="#8b8b8b"/><rect x="400.0" y="707.0" width="2.8" height="2.8" fill="#c3c3c3"/><rect x="402.5" y="707.0" width="2.8" height="2.8" fill="#b9b9b9"/><rect x="405.0" y="707.0" width="2.8" height="2.8" fill="#c5c5c5"/><rect x="407.5" y="707.0" width="2.8" height="2.8" fill="#c3c3c3"/><rect x="410.0" y="707.0" width="2.8" height="2.8" fill="#c5c5c5"/><rect x="412.5" y="707.0" width="2.8" height="2.8" fill="#bbbbbb"/><rect x="370.0" y="709.5" width="2.8" height="2.8" fill="#eaeaea"/><rect x="372.5" y="709.5" width="2.8" height="2.8" fill="#d3d3d3"/><rect x="375.0" y="709.5" width="2.8" height="2.8" fill="#cdcdcd"/><rect x="377.5" y="709.5" width="2.8" height="2.8" fill="#bcbcbc"/><rect x="380.0" y="709.5" width="2.8" height="2.8" fill="#c3c3c3"/><rect x="382.5" y="709.5" width="2.8" height="2.8" fill="#969696"/><rect x="385.0" y="709.5" width="2.8" height="2.8" fill="#a8a8a8"/><rect x="387.5" y="709.5" width="2.8" height="2.8" fill="#b2b2b2"/><rect x="390.0" y="709.5" width="2.8" height="2.8" fill="#bbbbbb"/><rect x="392.5" y="709.5" width="2.8" height="2.8" fill="#a7a7a7"/><rect x="395.0" y="709.5" width="2.8" height="2.8" fill="#bcbcbc"/><rect x="397.5" y="709.5" width="2.8" height="2.8" fill="#b7b7b7"/><rect x="400.0" y="709.5" width="2.8" height="2.8" fill="#878787"/><rect x="402.5" y="709.5" width="2.8" height="2.8" fill="#b9b9b9"/><rect x="405.0" y="709.5" width="2.8" height="2.8" fill="#b2b2b2"/><rect x="407.5" y="709.5" width="2.8" height="2.8" fill="#c9c9c9"/><rect x="410.0" y="709.5" width="2.8" height="2.8" fill="#b7b7b7"/><rect x="412.5" y="709.5" width="2.8" height="2.8" fill="#b6b6b6"/><rect x="370.0" y="712.0" width="2.8" height="2.8" fill="#d8d8d8"/><rect x="372.5" y="712.0" width="2.8" height="2.8" fill="#c1c1c1"/><rect x="375.0" y="712.0" width="2.8" height="2.8" fill="#c6c6c6"/><rect x="377.5" y="712.0" width="2.8" height="2.8" fill="#adadad"/><rect x="380.0" y="712.0" width="2.8" height="2.8" fill="#868686"/><rect x="382.5" y="712.0" width="2.8" height="2.8" fill="#a3a3a3"/><rect x="385.0" y="712.0" width="2.8" height="2.8" fill="#afafaf"/><rect x="387.5" y="712.0" width="2.8" height="2.8" fill="#9d9d9d"/><rect x="390.0" y="712.0" width="2.8" height="2.8" fill="#8f8f8f"/><rect x="392.5" y="712.0" width="2.8" height="2.8" fill="#a5a5a5"/><rect x="395.0" y="712.0" width="2.8" height="2.8" fill="#939393"/><rect x="397.5" y="712.0" width="2.8" height="2.8" fill="#bababa"/><rect x="400.0" y="712.0" width="2.8" height="2.8" fill="#a7a7a7"/><rect x="402.5" y="712.0" width="2.8" height="2.8" fill="#898989"/><rect x="405.0" y="712.0" width="2.8" height="2.8" fill="#b5b5b5"/><rect x="407.5" y="712.0" width="2.8" height="2.8" fill="#acacac"/><rect x="410.0" y="712.0" width="2.8" height="2.8" fill="#aeaeae"/><rect x="412.5" y="712.0" width="2.8" height="2.8" fill="#b7b7b7"/><rect x="367.5" y="714.5" width="2.8" height="2.8" fill="#ebebeb"/><rect x="370.0" y="714.5" width="2.8" height="2.8" fill="#dadada"/><rect x="372.5" y="714.5" width="2.8" height="2.8" fill="#bababa"/><rect x="375.0" y="714.5" width="2.8" height="2.8" fill="#b6b6b6"/><rect x="377.5" y="714.5" width="2.8" height="2.8" fill="#808080"/><rect x="380.0" y="714.5" width="2.8" height="2.8" fill="#9f9f9f"/><rect x="382.5" y="714.5" width="2.8" height="2.8" fill="#b9b9b9"/><rect x="385.0" y="714.5" width="2.8" height="2.8" fill="#989898"/><rect x="387.5" y="714.5" width="2.8" height="2.8" fill="#8b8b8b"/><rect x="390.0" y="714.5" width="2.8" height="2.8" fill="#b4b4b4"/><rect x="392.5" y="714.5" width="2.8" height="2.8" fill="#a6a6a6"/><rect x="395.0" y="714.5" width="2.8" height="2.8" fill="#a8a8a8"/><rect x="397.5" y="714.5" width="2.8" height="2.8" fill="#949494"/><rect x="400.0" y="714.5" width="2.8" height="2.8" fill="#adadad"/><rect x="402.5" y="714.5" width="2.8" height="2.8" fill="#aaaaaa"/><rect x="405.0" y="714.5" width="2.8" height="2.8" fill="#828282"/><rect x="407.5" y="714.5" width="2.8" height="2.8" fill="#a9a9a9"/><rect x="410.0" y="714.5" width="2.8" height="2.8" fill="#aeaeae"/><rect x="412.5" y="714.5" width="2.8" height="2.8" fill="#bbbbbb"/><rect x="415.0" y="714.5" width="2.8" height="2.8" fill="#b7b7b7"/><rect x="367.5" y="717.0" width="2.8" height="2.8" fill="#e6e6e6"/><rect x="370.0" y="717.0" width="2.8" height="2.8" fill="#d7d7d7"/><rect x="372.5" y="717.0" width="2.8" height="2.8" fill="#bababa"/><rect x="375.0" y="717.0" width="2.8" height="2.8" fill="#858585"/><rect x="377.5" y="717.0" width="2.8" height="2.8" fill="#a9a9a9"/><rect x="380.0" y="717.0" width="2.8" height="2.8" fill="#b4b4b4"/><rect x="382.5" y="717.0" width="2.8" height="2.8" fill="#a2a2a2"/><rect x="385.0" y="717.0" width="2.8" height="2.8" fill="#8f8f8f"/><rect x="387.5" y="717.0" width="2.8" height="2.8" fill="#b1b1b1"/><rect x="390.0" y="717.0" width="2.8" height="2.8" fill="#8e8e8e"/><rect x="392.5" y="717.0" width="2.8" height="2.8" fill="#878787"/><rect x="395.0" y="717.0" width="2.8" height="2.8" fill="#b4b4b4"/><rect x="397.5" y="717.0" width="2.8" height="2.8" fill="#a8a8a8"/><rect x="400.0" y="717.0" width="2.8" height="2.8" fill="#7c7c7c"/><rect x="402.5" y="717.0" width="2.8" height="2.8" fill="#a8a8a8"/><rect x="405.0" y="717.0" width="2.8" height="2.8" fill="#ababab"/><rect x="407.5" y="717.0" width="2.8" height="2.8" fill="#737373"/><rect x="410.0" y="717.0" width="2.8" height="2.8" fill="#a2a2a2"/><rect x="412.5" y="717.0" width="2.8" height="2.8" fill="#a1a1a1"/><rect x="415.0" y="717.0" width="2.8" height="2.8" fill="#aaaaaa"/><rect x="365.0" y="719.5" width="2.8" height="2.8" fill="#f1f1f1"/><rect x="367.5" y="719.5" width="2.8" height="2.8" fill="#dddddd"/><rect x="370.0" y="719.5" width="2.8" height="2.8" fill="#d1d1d1"/><rect x="372.5" y="719.5" width="2.8" height="2.8" fill="#979797"/><rect x="375.0" y="719.5" width="2.8" height="2.8" fill="#aaaaaa"/><rect x="377.5" y="719.5" width="2.8" height="2.8" fill="#b5b5b5"/><rect x="380.0" y="719.5" width="2.8" height="2.8" fill="#969696"/><rect x="382.5" y="719.5" width="2.8" height="2.8" fill="#8d8d8d"/><rect x="385.0" y="719.5" width="2.8" height="2.8" fill="#afafaf"/><rect x="387.5" y="719.5" width="2.8" height="2.8" fill="#9b9b9b"/><rect x="390.0" y="719.5" width="2.8" height="2.8" fill="#838383"/><rect x="392.5" y="719.5" width="2.8" height="2.8" fill="#a2a2a2"/><rect x="395.0" y="719.5" width="2.8" height="2.8" fill="#7c7c7c"/><rect x="397.5" y="719.5" width="2.8" height="2.8" fill="#a9a9a9"/><rect x="400.0" y="719.5" width="2.8" height="2.8" fill="#979797"/><rect x="402.5" y="719.5" width="2.8" height="2.8" fill="#7e7e7e"/><rect x="405.0" y="719.5" width="2.8" height="2.8" fill="#b0b0b0"/><rect x="407.5" y="719.5" width="2.8" height="2.8" fill="#a8a8a8"/><rect x="410.0" y="719.5" width="2.8" height="2.8" fill="#6f6f6f"/><rect x="412.5" y="719.5" width="2.8" height="2.8" fill="#9c9c9c"/><rect x="415.0" y="719.5" width="2.8" height="2.8" fill="#a7a7a7"/><rect x="417.5" y="719.5" width="2.8" height="2.8" fill="#b3b3b3"/><rect x="365.0" y="722.0" width="2.8" height="2.8" fill="#ebebeb"/><rect x="367.5" y="722.0" width="2.8" height="2.8" fill="#e1e1e1"/><rect x="370.0" y="722.0" width="2.8" height="2.8" fill="#ababab"/><rect x="372.5" y="722.0" width="2.8" height="2.8" fill="#a6a6a6"/><rect x="375.0" y="722.0" width="2.8" height="2.8" fill="#b2b2b2"/><rect x="377.5" y="722.0" width="2.8" height="2.8" fill="#9b9b9b"/><rect x="380.0" y="722.0" width="2.8" height="2.8" fill="#8a8a8a"/><rect x="382.5" y="722.0" width="2.8" height="2.8" fill="#9e9e9e"/><rect x="385.0" y="722.0" width="2.8" height="2.8" fill="#8d8d8d"/><rect x="387.5" y="722.0" width="2.8" height="2.8" fill="#8e8e8e"/><rect x="390.0" y="722.0" width="2.8" height="2.8" fill="#9b9b9b"/><rect x="392.5" y="722.0" width="2.8" height="2.8" fill="#989898"/><rect x="395.0" y="722.0" width="2.8" height="2.8" fill="#969696"/><rect x="397.5" y="722.0" width="2.8" height="2.8" fill="#7a7a7a"/><rect x="400.0" y="722.0" width="2.8" height="2.8" fill="#a1a1a1"/><rect x="402.5" y="722.0" width="2.8" height="2.8" fill="#989898"/><rect x="405.0" y="722.0" width="2.8" height="2.8" fill="#737373"/><rect x="407.5" y="722.0" width="2.8" height="2.8" fill="#9a9a9a"/><rect x="410.0" y="722.0" width="2.8" height="2.8" fill="#a6a6a6"/><rect x="412.5" y="722.0" width="2.8" height="2.8" fill="#7e7e7e"/><rect x="415.0" y="722.0" width="2.8" height="2.8" fill="#9b9b9b"/><rect x="417.5" y="722.0" width="2.8" height="2.8" fill="#a8a8a8"/><rect x="362.5" y="724.5" width="2.8" height="2.8" fill="#f8f8f8"/><rect x="365.0" y="724.5" width="2.8" height="2.8" fill="#e6e6e6"/><rect x="367.5" y="724.5" width="2.8" height="2.8" fill="#b8b8b8"/><rect x="370.0" y="724.5" width="2.8" height="2.8" fill="#d0d0d0"/><rect x="372.5" y="724.5" width="2.8" height="2.8" fill="#bcbcbc"/><rect x="375.0" y="724.5" width="2.8" height="2.8" fill="#979797"/><rect x="377.5" y="724.5" width="2.8" height="2.8" fill="#8e8e8e"/><rect x="380.0" y="724.5" width="2.8" height="2.8" fill="#a2a2a2"/><rect x="382.5" y="724.5" width="2.8" height="2.8" fill="#848484"/><rect x="385.0" y="724.5" width="2.8" height="2.8" fill="#8a8a8a"/><rect x="387.5" y="724.5" width="2.8" height="2.8" fill="#a2a2a2"/><rect x="390.0" y="724.5" width="2.8" height="2.8" fill="#8b8b8b"/><rect x="392.5" y="724.5" width="2.8" height="2.8" fill="#878787"/><rect x="395.0" y="724.5" width="2.8" height="2.8" fill="#959595"/><rect x="397.5" y="724.5" width="2.8" height="2.8" fill="#9d9d9d"/><rect x="400.0" y="724.5" width="2.8" height="2.8" fill="#888888"/><rect x="402.5" y="724.5" width="2.8" height="2.8" fill="#9c9c9c"/><rect x="405.0" y="724.5" width="2.8" height="2.8" fill="#a0a0a0"/><rect x="407.5" y="724.5" width="2.8" height="2.8" fill="#787878"/><rect x="410.0" y="724.5" width="2.8" height="2.8" fill="#9e9e9e"/><rect x="412.5" y="724.5" width="2.8" height="2.8" fill="#b1b1b1"/><rect x="415.0" y="724.5" width="2.8" height="2.8" fill="#747474"/><rect x="417.5" y="724.5" width="2.8" height="2.8" fill="#9c9c9c"/><rect x="362.5" y="727.0" width="2.8" height="2.8" fill="#e8e8e8"/><rect x="365.0" y="727.0" width="2.8" height="2.8" fill="#b0b0b0"/><rect x="367.5" y="727.0" width="2.8" height="2.8" fill="#eaeaea"/><rect x="370.0" y="727.0" width="2.8" height="2.8" fill="#dadada"/><rect x="372.5" y="727.0" width="2.8" height="2.8" fill="#949494"/><rect x="375.0" y="727.0" width="2.8" height="2.8" fill="#989898"/><rect x="377.5" y="727.0" width="2.8" height="2.8" fill="#a8a8a8"/><rect x="380.0" y="727.0" width="2.8" height="2.8" fill="#929292"/><rect x="382.5" y="727.0" width="2.8" height="2.8" fill="#8b8b8b"/><rect x="385.0" y="727.0" width="2.8" height="2.8" fill="#9f9f9f"/><rect x="387.5" y="727.0" width="2.8" height="2.8" fill="#969696"/><rect x="390.0" y="727.0" width="2.8" height="2.8" fill="#9f9f9f"/><rect x="392.5" y="727.0" width="2.8" height="2.8" fill="#9a9a9a"/><rect x="395.0" y="727.0" width="2.8" height="2.8" fill="#848484"/><rect x="397.5" y="727.0" width="2.8" height="2.8" fill="#9f9f9f"/><rect x="400.0" y="727.0" width="2.8" height="2.8" fill="#a8a8a8"/><rect x="402.5" y="727.0" width="2.8" height="2.8" fill="#848484"/><rect x="405.0" y="727.0" width="2.8" height="2.8" fill="#adadad"/><rect x="407.5" y="727.0" width="2.8" height="2.8" fill="#ababab"/><rect x="410.0" y="727.0" width="2.8" height="2.8" fill="#7b7b7b"/><rect x="412.5" y="727.0" width="2.8" height="2.8" fill="#ababab"/><rect x="415.0" y="727.0" width="2.8" height="2.8" fill="#aeaeae"/><rect x="417.5" y="727.0" width="2.8" height="2.8" fill="#848484"/><rect x="360.0" y="729.5" width="2.8" height="2.8" fill="#efefef"/><rect x="362.5" y="729.5" width="2.8" height="2.8" fill="#c4c4c4"/><rect x="365.0" y="729.5" width="2.8" height="2.8" fill="#f0f0f0"/><rect x="367.5" y="729.5" width="2.8" height="2.8" fill="#f3f3f3"/><rect x="370.0" y="729.5" width="2.8" height="2.8" fill="#b3b3b3"/><rect x="372.5" y="729.5" width="2.8" height="2.8" fill="#b4b4b4"/><rect x="375.0" y="729.5" width="2.8" height="2.8" fill="#a8a8a8"/><rect x="377.5" y="729.5" width="2.8" height="2.8" fill="#959595"/><rect x="380.0" y="729.5" width="2.8" height="2.8" fill="#9f9f9f"/><rect x="382.5" y="729.5" width="2.8" height="2.8" fill="#a6a6a6"/><rect x="385.0" y="729.5" width="2.8" height="2.8" fill="#9a9a9a"/><rect x="387.5" y="729.5" width="2.8" height="2.8" fill="#9d9d9d"/><rect x="390.0" y="729.5" width="2.8" height="2.8" fill="#a6a6a6"/><rect x="392.5" y="729.5" width="2.8" height="2.8" fill="#aeaeae"/><rect x="395.0" y="729.5" width="2.8" height="2.8" fill="#b0b0b0"/><rect x="397.5" y="729.5" width="2.8" height="2.8" fill="#8f8f8f"/><rect x="400.0" y="729.5" width="2.8" height="2.8" fill="#a3a3a3"/><rect x="402.5" y="729.5" width="2.8" height="2.8" fill="#a8a8a8"/><rect x="405.0" y="729.5" width="2.8" height="2.8" fill="#858585"/><rect x="407.5" y="729.5" width="2.8" height="2.8" fill="#adadad"/><rect x="410.0" y="729.5" width="2.8" height="2.8" fill="#a4a4a4"/><rect x="412.5" y="729.5" width="2.8" height="2.8" fill="#7c7c7c"/><rect x="415.0" y="729.5" width="2.8" height="2.8" fill="#a9a9a9"/><rect x="417.5" y="729.5" width="2.8" height="2.8" fill="#aaaaaa"/><rect x="360.0" y="732.0" width="2.8" height="2.8" fill="#bbbbbb"/><rect x="362.5" y="732.0" width="2.8" height="2.8" fill="#f6f6f6"/><rect x="365.0" y="732.0" width="2.8" height="2.8" fill="#f9f9f9"/><rect x="367.5" y="732.0" width="2.8" height="2.8" fill="#c6c6c6"/><rect x="370.0" y="732.0" width="2.8" height="2.8" fill="#cdcdcd"/><rect x="372.5" y="732.0" width="2.8" height="2.8" fill="#bababa"/><rect x="375.0" y="732.0" width="2.8" height="2.8" fill="#949494"/><rect x="377.5" y="732.0" width="2.8" height="2.8" fill="#9c9c9c"/><rect x="380.0" y="732.0" width="2.8" height="2.8" fill="#b1b1b1"/><rect x="382.5" y="732.0" width="2.8" height="2.8" fill="#909090"/><rect x="385.0" y="732.0" width="2.8" height="2.8" fill="#9a9a9a"/><rect x="387.5" y="732.0" width="2.8" height="2.8" fill="#b2b2b2"/><rect x="390.0" y="732.0" width="2.8" height="2.8" fill="#a7a7a7"/><rect x="392.5" y="732.0" width="2.8" height="2.8" fill="#b3b3b3"/><rect x="395.0" y="732.0" width="2.8" height="2.8" fill="#b5b5b5"/><rect x="397.5" y="732.0" width="2.8" height="2.8" fill="#b8b8b8"/><rect x="400.0" y="732.0" width="2.8" height="2.8" fill="#8c8c8c"/><rect x="402.5" y="732.0" width="2.8" height="2.8" fill="#a9a9a9"/><rect x="405.0" y="732.0" width="2.8" height="2.8" fill="#bababa"/><rect x="407.5" y="732.0" width="2.8" height="2.8" fill="#818181"/><rect x="410.0" y="732.0" width="2.8" height="2.8" fill="#a1a1a1"/><rect x="412.5" y="732.0" width="2.8" height="2.8" fill="#b1b1b1"/><rect x="415.0" y="732.0" width="2.8" height="2.8" fill="#848484"/><rect x="417.5" y="732.0" width="2.8" height="2.8" fill="#b6b6b6"/><rect x="360.0" y="734.5" width="2.8" height="2.8" fill="#f8f8f8"/><rect x="362.5" y="734.5" width="2.8" height="2.8" fill="#f4f4f4"/><rect x="365.0" y="734.5" width="2.8" height="2.8" fill="#d7d7d7"/><rect x="367.5" y="734.5" width="2.8" height="2.8" fill="#dedede"/><rect x="370.0" y="734.5" width="2.8" height="2.8" fill="#e1e1e1"/><rect x="372.5" y="734.5" width="2.8" height="2.8" fill="#a8a8a8"/><rect x="375.0" y="734.5" width="2.8" height="2.8" fill="#b1b1b1"/><rect x="377.5" y="734.5" width="2.8" height="2.8" fill="#b0b0b0"/><rect x="380.0" y="734.5" width="2.8" height="2.8" fill="#9a9a9a"/><rect x="382.5" y="734.5" width="2.8" height="2.8" fill="#a3a3a3"/><rect x="385.0" y="734.5" width="2.8" height="2.8" fill="#bbbbbb"/><rect x="387.5" y="734.5" width="2.8" height="2.8" fill="#afafaf"/><rect x="390.0" y="734.5" width="2.8" height="2.8" fill="#b0b0b0"/><rect x="392.5" y="734.5" width="2.8" height="2.8" fill="#a4a4a4"/><rect x="395.0" y="734.5" width="2.8" height="2.8" fill="#afafaf"/><rect x="397.5" y="734.5" width="2.8" height="2.8" fill="#b1b1b1"/><rect x="400.0" y="734.5" width="2.8" height="2.8" fill="#b6b6b6"/><rect x="402.5" y="734.5" width="2.8" height="2.8" fill="#9e9e9e"/><rect x="405.0" y="734.5" width="2.8" height="2.8" fill="#b9b9b9"/><rect x="407.5" y="734.5" width="2.8" height="2.8" fill="#c2c2c2"/><rect x="410.0" y="734.5" width="2.8" height="2.8" fill="#949494"/><rect x="412.5" y="734.5" width="2.8" height="2.8" fill="#afafaf"/><rect x="415.0" y="734.5" width="2.8" height="2.8" fill="#b9b9b9"/><rect x="417.5" y="734.5" width="2.8" height="2.8" fill="#989898"/><rect x="360.0" y="737.0" width="2.8" height="2.8" fill="#f0f0f0"/><rect x="362.5" y="737.0" width="2.8" height="2.8" fill="#cccccc"/><rect x="365.0" y="737.0" width="2.8" height="2.8" fill="#eeeeee"/><rect x="367.5" y="737.0" width="2.8" height="2.8" fill="#e3e3e3"/><rect x="370.0" y="737.0" width="2.8" height="2.8" fill="#bcbcbc"/><rect x="372.5" y="737.0" width="2.8" height="2.8" fill="#cdcdcd"/><rect x="375.0" y="737.0" width="2.8" height="2.8" fill="#c9c9c9"/><rect x="377.5" y="737.0" width="2.8" height="2.8" fill="#9b9b9b"/><rect x="380.0" y="737.0" width="2.8" height="2.8" fill="#ababab"/><rect x="382.5" y="737.0" width="2.8" height="2.8" fill="#b9b9b9"/><rect x="385.0" y="737.0" width="2.8" height="2.8" fill="#b8b8b8"/><rect x="387.5" y="737.0" width="2.8" height="2.8" fill="#b4b4b4"/><rect x="390.0" y="737.0" width="2.8" height="2.8" fill="#bebebe"/><rect x="392.5" y="737.0" width="2.8" height="2.8" fill="#bababa"/><rect x="395.0" y="737.0" width="2.8" height="2.8" fill="#b4b4b4"/><rect x="397.5" y="737.0" width="2.8" height="2.8" fill="#b0b0b0"/><rect x="400.0" y="737.0" width="2.8" height="2.8" fill="#b6b6b6"/><rect x="402.5" y="737.0" width="2.8" height="2.8" fill="#bdbdbd"/><rect x="405.0" y="737.0" width="2.8" height="2.8" fill="#a5a5a5"/><rect x="407.5" y="737.0" width="2.8" height="2.8" fill="#aeaeae"/><rect x="410.0" y="737.0" width="2.8" height="2.8" fill="#b7b7b7"/><rect x="412.5" y="737.0" width="2.8" height="2.8" fill="#a1a1a1"/><rect x="415.0" y="737.0" width="2.8" height="2.8" fill="#b8b8b8"/><rect x="417.5" y="737.0" width="2.8" height="2.8" fill="#bbbbbb"/><rect x="360.0" y="739.5" width="2.8" height="2.8" fill="#d6d6d6"/><rect x="362.5" y="739.5" width="2.8" height="2.8" fill="#eeeeee"/><rect x="365.0" y="739.5" width="2.8" height="2.8" fill="#e6e6e6"/><rect x="367.5" y="739.5" width="2.8" height="2.8" fill="#c7c7c7"/><rect x="370.0" y="739.5" width="2.8" height="2.8" fill="#e7e7e7"/><rect x="372.5" y="739.5" width="2.8" height="2.8" fill="#c6c6c6"/><rect x="375.0" y="739.5" width="2.8" height="2.8" fill="#aeaeae"/><rect x="377.5" y="739.5" width="2.8" height="2.8" fill="#ababab"/><rect x="380.0" y="739.5" width="2.8" height="2.8" fill="#b9b9b9"/><rect x="382.5" y="739.5" width="2.8" height="2.8" fill="#b8b8b8"/><rect x="385.0" y="739.5" width="2.8" height="2.8" fill="#b8b8b8"/><rect x="387.5" y="739.5" width="2.8" height="2.8" fill="#afafaf"/><rect x="390.0" y="739.5" width="2.8" height="2.8" fill="#acacac"/><rect x="392.5" y="739.5" width="2.8" height="2.8" fill="#b1b1b1"/><rect x="395.0" y="739.5" width="2.8" height="2.8" fill="#bababa"/><rect x="397.5" y="739.5" width="2.8" height="2.8" fill="#b7b7b7"/><rect x="400.0" y="739.5" width="2.8" height="2.8" fill="#c3c3c3"/><rect x="402.5" y="739.5" width="2.8" height="2.8" fill="#c4c4c4"/><rect x="405.0" y="739.5" width="2.8" height="2.8" fill="#d0d0d0"/><rect x="407.5" y="739.5" width="2.8" height="2.8" fill="#b0b0b0"/><rect x="410.0" y="739.5" width="2.8" height="2.8" fill="#b9b9b9"/><rect x="412.5" y="739.5" width="2.8" height="2.8" fill="#bdbdbd"/><rect x="415.0" y="739.5" width="2.8" height="2.8" fill="#9e9e9e"/><rect x="417.5" y="739.5" width="2.8" height="2.8" fill="#c1c1c1"/><rect x="360.0" y="742.0" width="2.8" height="2.8" fill="#e4e4e4"/><rect x="362.5" y="742.0" width="2.8" height="2.8" fill="#e9e9e9"/><rect x="365.0" y="742.0" width="2.8" height="2.8" fill="#c5c5c5"/><rect x="367.5" y="742.0" width="2.8" height="2.8" fill="#eaeaea"/><rect x="370.0" y="742.0" width="2.8" height="2.8" fill="#efefef"/><rect x="372.5" y="742.0" width="2.8" height="2.8" fill="#b3b3b3"/><rect x="375.0" y="742.0" width="2.8" height="2.8" fill="#d0d0d0"/><rect x="377.5" y="742.0" width="2.8" height="2.8" fill="#b3b3b3"/><rect x="380.0" y="742.0" width="2.8" height="2.8" fill="#b5b5b5"/><rect x="382.5" y="742.0" width="2.8" height="2.8" fill="#b4b4b4"/><rect x="385.0" y="742.0" width="2.8" height="2.8" fill="#b2b2b2"/><rect x="387.5" y="742.0" width="2.8" height="2.8" fill="#adadad"/><rect x="390.0" y="742.0" width="2.8" height="2.8" fill="#afafaf"/><rect x="392.5" y="742.0" width="2.8" height="2.8" fill="#a9a9a9"/><rect x="395.0" y="742.0" width="2.8" height="2.8" fill="#b4b4b4"/><rect x="397.5" y="742.0" width="2.8" height="2.8" fill="#b5b5b5"/><rect x="400.0" y="742.0" width="2.8" height="2.8" fill="#cecece"/><rect x="402.5" y="742.0" width="2.8" height="2.8" fill="#cbcbcb"/><rect x="405.0" y="742.0" width="2.8" height="2.8" fill="#c7c7c7"/><rect x="407.5" y="742.0" width="2.8" height="2.8" fill="#cbcbcb"/><rect x="410.0" y="742.0" width="2.8" height="2.8" fill="#b4b4b4"/><rect x="412.5" y="742.0" width="2.8" height="2.8" fill="#b5b5b5"/><rect x="415.0" y="742.0" width="2.8" height="2.8" fill="#d6d6d6"/><rect x="417.5" y="742.0" width="2.8" height="2.8" fill="#b1b1b1"/><rect x="357.5" y="744.5" width="2.8" height="2.8" fill="#fafafa"/><rect x="360.0" y="744.5" width="2.8" height="2.8" fill="#f1f1f1"/><rect x="362.5" y="744.5" width="2.8" height="2.8" fill="#d1d1d1"/><rect x="365.0" y="744.5" width="2.8" height="2.8" fill="#eaeaea"/><rect x="367.5" y="744.5" width="2.8" height="2.8" fill="#e1e1e1"/><rect x="370.0" y="744.5" width="2.8" height="2.8" fill="#d8d8d8"/><rect x="372.5" y="744.5" width="2.8" height="2.8" fill="#d7d7d7"/><rect x="375.0" y="744.5" width="2.8" height="2.8" fill="#cbcbcb"/><rect x="377.5" y="744.5" width="2.8" height="2.8" fill="#c7c7c7"/><rect x="380.0" y="744.5" width="2.8" height="2.8" fill="#cacaca"/><rect x="382.5" y="744.5" width="2.8" height="2.8" fill="#a5a5a5"/><rect x="385.0" y="744.5" width="2.8" height="2.8" fill="#b7b7b7"/><rect x="387.5" y="744.5" width="2.8" height="2.8" fill="#adadad"/><rect x="390.0" y="744.5" width="2.8" height="2.8" fill="#b1b1b1"/><rect x="392.5" y="744.5" width="2.8" height="2.8" fill="#b9b9b9"/><rect x="395.0" y="744.5" width="2.8" height="2.8" fill="#b3b3b3"/><rect x="397.5" y="744.5" width="2.8" height="2.8" fill="#bebebe"/><rect x="400.0" y="744.5" width="2.8" height="2.8" fill="#cccccc"/><rect x="402.5" y="744.5" width="2.8" height="2.8" fill="#c7c7c7"/><rect x="405.0" y="744.5" width="2.8" height="2.8" fill="#cbcbcb"/><rect x="407.5" y="744.5" width="2.8" height="2.8" fill="#dbdbdb"/><rect x="410.0" y="744.5" width="2.8" height="2.8" fill="#d2d2d2"/><rect x="412.5" y="744.5" width="2.8" height="2.8" fill="#c6c6c6"/><rect x="415.0" y="744.5" width="2.8" height="2.8" fill="#bebebe"/><rect x="417.5" y="744.5" width="2.8" height="2.8" fill="#cbcbcb"/><rect x="357.5" y="747.0" width="2.8" height="2.8" fill="#eeeeee"/><rect x="360.0" y="747.0" width="2.8" height="2.8" fill="#c8c8c8"/><rect x="362.5" y="747.0" width="2.8" height="2.8" fill="#fdfdfd"/><rect x="365.0" y="747.0" width="2.8" height="2.8" fill="#ebebeb"/><rect x="367.5" y="747.0" width="2.8" height="2.8" fill="#d4d4d4"/><rect x="370.0" y="747.0" width="2.8" height="2.8" fill="#e2e2e2"/><rect x="372.5" y="747.0" width="2.8" height="2.8" fill="#d4d4d4"/><rect x="375.0" y="747.0" width="2.8" height="2.8" fill="#cfcfcf"/><rect x="377.5" y="747.0" width="2.8" height="2.8" fill="#bababa"/><rect x="380.0" y="747.0" width="2.8" height="2.8" fill="#b8b8b8"/><rect x="382.5" y="747.0" width="2.8" height="2.8" fill="#9c9c9c"/><rect x="385.0" y="747.0" width="2.8" height="2.8" fill="#bababa"/><rect x="387.5" y="747.0" width="2.8" height="2.8" fill="#989898"/><rect x="390.0" y="747.0" width="2.8" height="2.8" fill="#a7a7a7"/><rect x="392.5" y="747.0" width="2.8" height="2.8" fill="#a3a3a3"/><rect x="395.0" y="747.0" width="2.8" height="2.8" fill="#b3b3b3"/><rect x="397.5" y="747.0" width="2.8" height="2.8" fill="#bbbbbb"/><rect x="400.0" y="747.0" width="2.8" height="2.8" fill="#bebebe"/><rect x="402.5" y="747.0" width="2.8" height="2.8" fill="#d5d5d5"/><rect x="405.0" y="747.0" width="2.8" height="2.8" fill="#d0d0d0"/><rect x="407.5" y="747.0" width="2.8" height="2.8" fill="#cfcfcf"/><rect x="410.0" y="747.0" width="2.8" height="2.8" fill="#dcdcdc"/><rect x="412.5" y="747.0" width="2.8" height="2.8" fill="#cecece"/><rect x="415.0" y="747.0" width="2.8" height="2.8" fill="#c1c1c1"/><rect x="417.5" y="747.0" width="2.8" height="2.8" fill="#cfcfcf"/><rect x="357.5" y="749.5" width="2.8" height="2.8" fill="#c7c7c7"/><rect x="360.0" y="749.5" width="2.8" height="2.8" fill="#f2f2f2"/><rect x="362.5" y="749.5" width="2.8" height="2.8" fill="#f8f8f8"/><rect x="365.0" y="749.5" width="2.8" height="2.8" fill="#dfdfdf"/><rect x="367.5" y="749.5" width="2.8" height="2.8" fill="#e7e7e7"/><rect x="370.0" y="749.5" width="2.8" height="2.8" fill="#ececec"/><rect x="372.5" y="749.5" width="2.8" height="2.8" fill="#d9d9d9"/><rect x="375.0" y="749.5" width="2.8" height="2.8" fill="#d1d1d1"/><rect x="377.5" y="749.5" width="2.8" height="2.8" fill="#c7c7c7"/><rect x="380.0" y="749.5" width="2.8" height="2.8" fill="#bcbcbc"/><rect x="382.5" y="749.5" width="2.8" height="2.8" fill="#ababab"/><rect x="385.0" y="749.5" width="2.8" height="2.8" fill="#b0b0b0"/><rect x="387.5" y="749.5" width="2.8" height="2.8" fill="#8f8f8f"/><rect x="390.0" y="749.5" width="2.8" height="2.8" fill="#a9a9a9"/><rect x="392.5" y="749.5" width="2.8" height="2.8" fill="#9d9d9d"/><rect x="395.0" y="749.5" width="2.8" height="2.8" fill="#bcbcbc"/><rect x="397.5" y="749.5" width="2.8" height="2.8" fill="#bbbbbb"/><rect x="400.0" y="749.5" width="2.8" height="2.8" fill="#d4d4d4"/><rect x="402.5" y="749.5" width="2.8" height="2.8" fill="#d6d6d6"/><rect x="405.0" y="749.5" width="2.8" height="2.8" fill="#d4d4d4"/><rect x="407.5" y="749.5" width="2.8" height="2.8" fill="#d5d5d5"/><rect x="410.0" y="749.5" width="2.8" height="2.8" fill="#dedede"/><rect x="412.5" y="749.5" width="2.8" height="2.8" fill="#d5d5d5"/><rect x="415.0" y="749.5" width="2.8" height="2.8" fill="#e5e5e5"/><rect x="417.5" y="749.5" width="2.8" height="2.8" fill="#c3c3c3"/><rect x="357.5" y="752.0" width="2.8" height="2.8" fill="#f4f4f4"/><rect x="360.0" y="752.0" width="2.8" height="2.8" fill="#f0f0f0"/><rect x="362.5" y="752.0" width="2.8" height="2.8" fill="#d4d4d4"/><rect x="365.0" y="752.0" width="2.8" height="2.8" fill="#fafafa"/><rect x="367.5" y="752.0" width="2.8" height="2.8" fill="#efefef"/><rect x="370.0" y="752.0" width="2.8" height="2.8" fill="#f4f4f4"/><rect x="372.5" y="752.0" width="2.8" height="2.8" fill="#d6d6d6"/><rect x="375.0" y="752.0" width="2.8" height="2.8" fill="#d1d1d1"/><rect x="377.5" y="752.0" width="2.8" height="2.8" fill="#b8b8b8"/><rect x="380.0" y="752.0" width="2.8" height="2.8" fill="#b8b8b8"/><rect x="382.5" y="752.0" width="2.8" height="2.8" fill="#949494"/><rect x="385.0" y="752.0" width="2.8" height="2.8" fill="#b6b6b6"/><rect x="387.5" y="752.0" width="2.8" height="2.8" fill="#8b8b8b"/><rect x="390.0" y="752.0" width="2.8" height="2.8" fill="#ababab"/><rect x="392.5" y="752.0" width="2.8" height="2.8" fill="#999999"/><rect x="395.0" y="752.0" width="2.8" height="2.8" fill="#b7b7b7"/><rect x="397.5" y="752.0" width="2.8" height="2.8" fill="#bdbdbd"/><rect x="400.0" y="752.0" width="2.8" height="2.8" fill="#cbcbcb"/><rect x="402.5" y="752.0" width="2.8" height="2.8" fill="#d1d1d1"/><rect x="405.0" y="752.0" width="2.8" height="2.8" fill="#cfcfcf"/><rect x="407.5" y="752.0" width="2.8" height="2.8" fill="#d9d9d9"/><rect x="410.0" y="752.0" width="2.8" height="2.8" fill="#d8d8d8"/><rect x="412.5" y="752.0" width="2.8" height="2.8" fill="#d7d7d7"/><rect x="415.0" y="752.0" width="2.8" height="2.8" fill="#e5e5e5"/><rect x="417.5" y="752.0" width="2.8" height="2.8" fill="#dadada"/><rect x="420.0" y="752.0" width="2.8" height="2.8" fill="#cfcfcf"/><rect x="357.5" y="754.5" width="2.8" height="2.8" fill="#f7f7f7"/><rect x="360.0" y="754.5" width="2.8" height="2.8" fill="#e2e2e2"/><rect x="362.5" y="754.5" width="2.8" height="2.8" fill="#fefefe"/><rect x="365.0" y="754.5" width="2.8" height="2.8" fill="#fefefe"/><rect x="367.5" y="754.5" width="2.8" height="2.8" fill="#e9e9e9"/><rect x="370.0" y="754.5" width="2.8" height="2.8" fill="#ececec"/><rect x="372.5" y="754.5" width="2.8" height="2.8" fill="#c9c9c9"/><rect x="375.0" y="754.5" width="2.8" height="2.8" fill="#dbdbdb"/><rect x="377.5" y="754.5" width="2.8" height="2.8" fill="#bcbcbc"/><rect x="380.0" y="754.5" width="2.8" height="2.8" fill="#bebebe"/><rect x="382.5" y="754.5" width="2.8" height="2.8" fill="#949494"/><rect x="385.0" y="754.5" width="2.8" height="2.8" fill="#aeaeae"/><rect x="387.5" y="754.5" width="2.8" height="2.8" fill="#8e8e8e"/><rect x="390.0" y="754.5" width="2.8" height="2.8" fill="#9d9d9d"/><rect x="392.5" y="754.5" width="2.8" height="2.8" fill="#a6a6a6"/><rect x="395.0" y="754.5" width="2.8" height="2.8" fill="#b0b0b0"/><rect x="397.5" y="754.5" width="2.8" height="2.8" fill="#c3c3c3"/><rect x="400.0" y="754.5" width="2.8" height="2.8" fill="#c4c4c4"/><rect x="402.5" y="754.5" width="2.8" height="2.8" fill="#cecece"/><rect x="405.0" y="754.5" width="2.8" height="2.8" fill="#e5e5e5"/><rect x="407.5" y="754.5" width="2.8" height="2.8" fill="#e5e5e5"/><rect x="410.0" y="754.5" width="2.8" height="2.8" fill="#e6e6e6"/><rect x="412.5" y="754.5" width="2.8" height="2.8" fill="#d7d7d7"/><rect x="415.0" y="754.5" width="2.8" height="2.8" fill="#d7d7d7"/><rect x="417.5" y="754.5" width="2.8" height="2.8" fill="#dadada"/><rect x="420.0" y="754.5" width="2.8" height="2.8" fill="#dbdbdb"/><rect x="357.5" y="757.0" width="2.8" height="2.8" fill="#d8d8d8"/><rect x="360.0" y="757.0" width="2.8" height="2.8" fill="#f3f3f3"/><rect x="362.5" y="757.0" width="2.8" height="2.8" fill="#ebebeb"/><rect x="365.0" y="757.0" width="2.8" height="2.8" fill="#f1f1f1"/><rect x="367.5" y="757.0" width="2.8" height="2.8" fill="#f5f5f5"/><rect x="370.0" y="757.0" width="2.8" height="2.8" fill="#eaeaea"/><rect x="372.5" y="757.0" width="2.8" height="2.8" fill="#dddddd"/><rect x="375.0" y="757.0" width="2.8" height="2.8" fill="#d8d8d8"/><rect x="377.5" y="757.0" width="2.8" height="2.8" fill="#bcbcbc"/><rect x="380.0" y="757.0" width="2.8" height="2.8" fill="#bbbbbb"/><rect x="382.5" y="757.0" width="2.8" height="2.8" fill="#909090"/><rect x="385.0" y="757.0" width="2.8" height="2.8" fill="#acacac"/><rect x="387.5" y="757.0" width="2.8" height="2.8" fill="#7f7f7f"/><rect x="390.0" y="757.0" width="2.8" height="2.8" fill="#939393"/><rect x="392.5" y="757.0" width="2.8" height="2.8" fill="#a1a1a1"/><rect x="395.0" y="757.0" width="2.8" height="2.8" fill="#b7b7b7"/><rect x="397.5" y="757.0" width="2.8" height="2.8" fill="#b9b9b9"/><rect x="400.0" y="757.0" width="2.8" height="2.8" fill="#c0c0c0"/><rect x="402.5" y="757.0" width="2.8" height="2.8" fill="#e0e0e0"/><rect x="405.0" y="757.0" width="2.8" height="2.8" fill="#dfdfdf"/><rect x="407.5" y="757.0" width="2.8" height="2.8" fill="#d6d6d6"/><rect x="410.0" y="757.0" width="2.8" height="2.8" fill="#dcdcdc"/><rect x="412.5" y="757.0" width="2.8" height="2.8" fill="#dadada"/><rect x="415.0" y="757.0" width="2.8" height="2.8" fill="#ebebeb"/><rect x="417.5" y="757.0" width="2.8" height="2.8" fill="#dddddd"/><rect x="420.0" y="757.0" width="2.8" height="2.8" fill="#eeeeee"/><rect x="357.5" y="759.5" width="2.8" height="2.8" fill="#fcfcfc"/><rect x="360.0" y="759.5" width="2.8" height="2.8" fill="#ececec"/><rect x="362.5" y="759.5" width="2.8" height="2.8" fill="#fafafa"/><rect x="365.0" y="759.5" width="2.8" height="2.8" fill="#f3f3f3"/><rect x="367.5" y="759.5" width="2.8" height="2.8" fill="#f8f8f8"/><rect x="370.0" y="759.5" width="2.8" height="2.8" fill="#f9f9f9"/><rect x="372.5" y="759.5" width="2.8" height="2.8" fill="#cfcfcf"/><rect x="375.0" y="759.5" width="2.8" height="2.8" fill="#cdcdcd"/><rect x="377.5" y="759.5" width="2.8" height="2.8" fill="#bfbfbf"/><rect x="380.0" y="759.5" width="2.8" height="2.8" fill="#bdbdbd"/><rect x="382.5" y="759.5" width="2.8" height="2.8" fill="#969696"/><rect x="385.0" y="759.5" width="2.8" height="2.8" fill="#a8a8a8"/><rect x="387.5" y="759.5" width="2.8" height="2.8" fill="#828282"/><rect x="390.0" y="759.5" width="2.8" height="2.8" fill="#a3a3a3"/><rect x="392.5" y="759.5" width="2.8" height="2.8" fill="#989898"/><rect x="395.0" y="759.5" width="2.8" height="2.8" fill="#adadad"/><rect x="397.5" y="759.5" width="2.8" height="2.8" fill="#b2b2b2"/><rect x="400.0" y="759.5" width="2.8" height="2.8" fill="#cfcfcf"/><rect x="402.5" y="759.5" width="2.8" height="2.8" fill="#d6d6d6"/><rect x="405.0" y="759.5" width="2.8" height="2.8" fill="#dddddd"/><rect x="407.5" y="759.5" width="2.8" height="2.8" fill="#ededed"/><rect x="410.0" y="759.5" width="2.8" height="2.8" fill="#dbdbdb"/><rect x="412.5" y="759.5" width="2.8" height="2.8" fill="#ebebeb"/><rect x="415.0" y="759.5" width="2.8" height="2.8" fill="#dadada"/><rect x="417.5" y="759.5" width="2.8" height="2.8" fill="#eaeaea"/><rect x="355.0" y="762.0" width="2.8" height="2.8" fill="#fdfdfd"/><rect x="357.5" y="762.0" width="2.8" height="2.8" fill="#f1f1f1"/><rect x="360.0" y="762.0" width="2.8" height="2.8" fill="#f8f8f8"/><rect x="362.5" y="762.0" width="2.8" height="2.8" fill="#ffffff"/><rect x="365.0" y="762.0" width="2.8" height="2.8" fill="#f9f9f9"/><rect x="367.5" y="762.0" width="2.8" height="2.8" fill="#f3f3f3"/><rect x="370.0" y="762.0" width="2.8" height="2.8" fill="#ececec"/><rect x="372.5" y="762.0" width="2.8" height="2.8" fill="#c9c9c9"/><rect x="375.0" y="762.0" width="2.8" height="2.8" fill="#d3d3d3"/><rect x="377.5" y="762.0" width="2.8" height="2.8" fill="#afafaf"/><rect x="380.0" y="762.0" width="2.8" height="2.8" fill="#b6b6b6"/><rect x="382.5" y="762.0" width="2.8" height="2.8" fill="#828282"/><rect x="385.0" y="762.0" width="2.8" height="2.8" fill="#979797"/><rect x="387.5" y="762.0" width="2.8" height="2.8" fill="#7b7b7b"/><rect x="390.0" y="762.0" width="2.8" height="2.8" fill="#9a9a9a"/><rect x="392.5" y="762.0" width="2.8" height="2.8" fill="#898989"/><rect x="395.0" y="762.0" width="2.8" height="2.8" fill="#a4a4a4"/><rect x="397.5" y="762.0" width="2.8" height="2.8" fill="#bbbbbb"/><rect x="400.0" y="762.0" width="2.8" height="2.8" fill="#c8c8c8"/><rect x="402.5" y="762.0" width="2.8" height="2.8" fill="#e2e2e2"/><rect x="405.0" y="762.0" width="2.8" height="2.8" fill="#d9d9d9"/><rect x="407.5" y="762.0" width="2.8" height="2.8" fill="#dedede"/><rect x="410.0" y="762.0" width="2.8" height="2.8" fill="#ededed"/><rect x="412.5" y="762.0" width="2.8" height="2.8" fill="#dddddd"/><rect x="415.0" y="762.0" width="2.8" height="2.8" fill="#e7e7e7"/><rect x="417.5" y="762.0" width="2.8" height="2.8" fill="#e2e2e2"/><rect x="355.0" y="764.5" width="2.8" height="2.8" fill="#fefefe"/><rect x="357.5" y="764.5" width="2.8" height="2.8" fill="#f8f8f8"/><rect x="360.0" y="764.5" width="2.8" height="2.8" fill="#fdfdfd"/><rect x="362.5" y="764.5" width="2.8" height="2.8" fill="#eeeeee"/><rect x="365.0" y="764.5" width="2.8" height="2.8" fill="#fafafa"/><rect x="367.5" y="764.5" width="2.8" height="2.8" fill="#f4f4f4"/><rect x="370.0" y="764.5" width="2.8" height="2.8" fill="#f1f1f1"/><rect x="372.5" y="764.5" width="2.8" height="2.8" fill="#d9d9d9"/><rect x="375.0" y="764.5" width="2.8" height="2.8" fill="#dddddd"/><rect x="377.5" y="764.5" width="2.8" height="2.8" fill="#a5a5a5"/><rect x="380.0" y="764.5" width="2.8" height="2.8" fill="#b6b6b6"/><rect x="382.5" y="764.5" width="2.8" height="2.8" fill="#7d7d7d"/><rect x="385.0" y="764.5" width="2.8" height="2.8" fill="#949494"/><rect x="387.5" y="764.5" width="2.8" height="2.8" fill="#646464"/><rect x="390.0" y="764.5" width="2.8" height="2.8" fill="#8c8c8c"/><rect x="392.5" y="764.5" width="2.8" height="2.8" fill="#838383"/><rect x="395.0" y="764.5" width="2.8" height="2.8" fill="#acacac"/><rect x="397.5" y="764.5" width="2.8" height="2.8" fill="#b7b7b7"/><rect x="400.0" y="764.5" width="2.8" height="2.8" fill="#bebebe"/><rect x="402.5" y="764.5" width="2.8" height="2.8" fill="#d3d3d3"/><rect x="405.0" y="764.5" width="2.8" height="2.8" fill="#dcdcdc"/><rect x="407.5" y="764.5" width="2.8" height="2.8" fill="#e0e0e0"/><rect x="410.0" y="764.5" width="2.8" height="2.8" fill="#dddddd"/><rect x="412.5" y="764.5" width="2.8" height="2.8" fill="#dcdcdc"/><rect x="415.0" y="764.5" width="2.8" height="2.8" fill="#dbdbdb"/><rect x="417.5" y="764.5" width="2.8" height="2.8" fill="#f2f2f2"/><rect x="355.0" y="767.0" width="2.8" height="2.8" fill="#fdfdfd"/><rect x="357.5" y="767.0" width="2.8" height="2.8" fill="#ececec"/><rect x="360.0" y="767.0" width="2.8" height="2.8" fill="#fcfcfc"/><rect x="362.5" y="767.0" width="2.8" height="2.8" fill="#ffffff"/><rect x="365.0" y="767.0" width="2.8" height="2.8" fill="#f7f7f7"/><rect x="367.5" y="767.0" width="2.8" height="2.8" fill="#e8e8e8"/><rect x="370.0" y="767.0" width="2.8" height="2.8" fill="#f1f1f1"/><rect x="372.5" y="767.0" width="2.8" height="2.8" fill="#d0d0d0"/><rect x="375.0" y="767.0" width="2.8" height="2.8" fill="#cdcdcd"/><rect x="377.5" y="767.0" width="2.8" height="2.8" fill="#acacac"/><rect x="380.0" y="767.0" width="2.8" height="2.8" fill="#acacac"/><rect x="382.5" y="767.0" width="2.8" height="2.8" fill="#858585"/><rect x="385.0" y="767.0" width="2.8" height="2.8" fill="#9b9b9b"/><rect x="387.5" y="767.0" width="2.8" height="2.8" fill="#6b6b6b"/><rect x="390.0" y="767.0" width="2.8" height="2.8" fill="#979797"/><rect x="392.5" y="767.0" width="2.8" height="2.8" fill="#898989"/><rect x="395.0" y="767.0" width="2.8" height="2.8" fill="#9e9e9e"/><rect x="397.5" y="767.0" width="2.8" height="2.8" fill="#b0b0b0"/><rect x="400.0" y="767.0" width="2.8" height="2.8" fill="#bdbdbd"/><rect x="402.5" y="767.0" width="2.8" height="2.8" fill="#cbcbcb"/><rect x="405.0" y="767.0" width="2.8" height="2.8" fill="#e3e3e3"/><rect x="407.5" y="767.0" width="2.8" height="2.8" fill="#ececec"/><rect x="410.0" y="767.0" width="2.8" height="2.8" fill="#e0e0e0"/><rect x="412.5" y="767.0" width="2.8" height="2.8" fill="#dfdfdf"/><rect x="415.0" y="767.0" width="2.8" height="2.8" fill="#eaeaea"/><rect x="355.0" y="769.5" width="2.8" height="2.8" fill="#ffffff"/><rect x="357.5" y="769.5" width="2.8" height="2.8" fill="#ffffff"/><rect x="360.0" y="769.5" width="2.8" height="2.8" fill="#eeeeee"/><rect x="362.5" y="769.5" width="2.8" height="2.8" fill="#fcfcfc"/><rect x="365.0" y="769.5" width="2.8" height="2.8" fill="#fdfdfd"/><rect x="367.5" y="769.5" width="2.8" height="2.8" fill="#f7f7f7"/><rect x="370.0" y="769.5" width="2.8" height="2.8" fill="#ededed"/><rect x="372.5" y="769.5" width="2.8" height="2.8" fill="#c9c9c9"/><rect x="375.0" y="769.5" width="2.8" height="2.8" fill="#dcdcdc"/><rect x="377.5" y="769.5" width="2.8" height="2.8" fill="#a4a4a4"/><rect x="380.0" y="769.5" width="2.8" height="2.8" fill="#b3b3b3"/><rect x="382.5" y="769.5" width="2.8" height="2.8" fill="#767676"/><rect x="385.0" y="769.5" width="2.8" height="2.8" fill="#909090"/><rect x="387.5" y="769.5" width="2.8" height="2.8" fill="#696969"/><rect x="390.0" y="769.5" width="2.8" height="2.8" fill="#828282"/><rect x="392.5" y="769.5" width="2.8" height="2.8" fill="#757575"/><rect x="395.0" y="769.5" width="2.8" height="2.8" fill="#a2a2a2"/><rect x="397.5" y="769.5" width="2.8" height="2.8" fill="#b7b7b7"/><rect x="400.0" y="769.5" width="2.8" height="2.8" fill="#cccccc"/><rect x="402.5" y="769.5" width="2.8" height="2.8" fill="#dbdbdb"/><rect x="405.0" y="769.5" width="2.8" height="2.8" fill="#e6e6e6"/><rect x="407.5" y="769.5" width="2.8" height="2.8" fill="#eeeeee"/><rect x="410.0" y="769.5" width="2.8" height="2.8" fill="#e5e5e5"/><rect x="412.5" y="769.5" width="2.8" height="2.8" fill="#e7e7e7"/><rect x="415.0" y="769.5" width="2.8" height="2.8" fill="#dfdfdf"/><rect x="355.0" y="772.0" width="2.8" height="2.8" fill="#f2f2f2"/><rect x="357.5" y="772.0" width="2.8" height="2.8" fill="#f8f8f8"/><rect x="360.0" y="772.0" width="2.8" height="2.8" fill="#ececec"/><rect x="362.5" y="772.0" width="2.8" height="2.8" fill="#fafafa"/><rect x="365.0" y="772.0" width="2.8" height="2.8" fill="#ededed"/><rect x="367.5" y="772.0" width="2.8" height="2.8" fill="#efefef"/><rect x="370.0" y="772.0" width="2.8" height="2.8" fill="#fcfcfc"/><rect x="372.5" y="772.0" width="2.8" height="2.8" fill="#c5c5c5"/><rect x="375.0" y="772.0" width="2.8" height="2.8" fill="#c8c8c8"/><rect x="377.5" y="772.0" width="2.8" height="2.8" fill="#a3a3a3"/><rect x="380.0" y="772.0" width="2.8" height="2.8" fill="#acacac"/><rect x="382.5" y="772.0" width="2.8" height="2.8" fill="#757575"/><rect x="385.0" y="772.0" width="2.8" height="2.8" fill="#838383"/><rect x="387.5" y="772.0" width="2.8" height="2.8" fill="#636363"/><rect x="390.0" y="772.0" width="2.8" height="2.8" fill="#8c8c8c"/><rect x="392.5" y="772.0" width="2.8" height="2.8" fill="#828282"/><rect x="395.0" y="772.0" width="2.8" height="2.8" fill="#9b9b9b"/><rect x="397.5" y="772.0" width="2.8" height="2.8" fill="#acacac"/><rect x="400.0" y="772.0" width="2.8" height="2.8" fill="#c7c7c7"/><rect x="402.5" y="772.0" width="2.8" height="2.8" fill="#d6d6d6"/><rect x="405.0" y="772.0" width="2.8" height="2.8" fill="#dadada"/><rect x="407.5" y="772.0" width="2.8" height="2.8" fill="#e0e0e0"/><rect x="410.0" y="772.0" width="2.8" height="2.8" fill="#e3e3e3"/><rect x="412.5" y="772.0" width="2.8" height="2.8" fill="#ebebeb"/><rect x="415.0" y="772.0" width="2.8" height="2.8" fill="#efefef"/><rect x="355.0" y="774.5" width="2.8" height="2.8" fill="#ffffff"/><rect x="357.5" y="774.5" width="2.8" height="2.8" fill="#eeeeee"/><rect x="360.0" y="774.5" width="2.8" height="2.8" fill="#f1f1f1"/><rect x="362.5" y="774.5" width="2.8" height="2.8" fill="#f4f4f4"/><rect x="365.0" y="774.5" width="2.8" height="2.8" fill="#f7f7f7"/><rect x="367.5" y="774.5" width="2.8" height="2.8" fill="#ededed"/><rect x="370.0" y="774.5" width="2.8" height="2.8" fill="#eaeaea"/><rect x="372.5" y="774.5" width="2.8" height="2.8" fill="#c4c4c4"/><rect x="375.0" y="774.5" width="2.8" height="2.8" fill="#cecece"/><rect x="377.5" y="774.5" width="2.8" height="2.8" fill="#a1a1a1"/><rect x="380.0" y="774.5" width="2.8" height="2.8" fill="#bdbdbd"/><rect x="382.5" y="774.5" width="2.8" height="2.8" fill="#757575"/><rect x="385.0" y="774.5" width="2.8" height="2.8" fill="#959595"/><rect x="387.5" y="774.5" width="2.8" height="2.8" fill="#606060"/><rect x="390.0" y="774.5" width="2.8" height="2.8" fill="#8b8b8b"/><rect x="392.5" y="774.5" width="2.8" height="2.8" fill="#7a7a7a"/><rect x="395.0" y="774.5" width="2.8" height="2.8" fill="#a2a2a2"/><rect x="397.5" y="774.5" width="2.8" height="2.8" fill="#a4a4a4"/><rect x="400.0" y="774.5" width="2.8" height="2.8" fill="#c6c6c6"/><rect x="402.5" y="774.5" width="2.8" height="2.8" fill="#d7d7d7"/><rect x="405.0" y="774.5" width="2.8" height="2.8" fill="#d6d6d6"/><rect x="407.5" y="774.5" width="2.8" height="2.8" fill="#e5e5e5"/><rect x="410.0" y="774.5" width="2.8" height="2.8" fill="#f0f0f0"/><rect x="412.5" y="774.5" width="2.8" height="2.8" fill="#e6e6e6"/><rect x="355.0" y="777.0" width="2.8" height="2.8" fill="#fafafa"/><rect x="357.5" y="777.0" width="2.8" height="2.8" fill="#f2f2f2"/><rect x="360.0" y="777.0" width="2.8" height="2.8" fill="#f3f3f3"/><rect x="362.5" y="777.0" width="2.8" height="2.8" fill="#ffffff"/><rect x="365.0" y="777.0" width="2.8" height="2.8" fill="#eaeaea"/><rect x="367.5" y="777.0" width="2.8" height="2.8" fill="#e9e9e9"/><rect x="370.0" y="777.0" width="2.8" height="2.8" fill="#f5f5f5"/><rect x="372.5" y="777.0" width="2.8" height="2.8" fill="#cccccc"/><rect x="375.0" y="777.0" width="2.8" height="2.8" fill="#c8c8c8"/><rect x="377.5" y="777.0" width="2.8" height="2.8" fill="#a4a4a4"/><rect x="380.0" y="777.0" width="2.8" height="2.8" fill="#adadad"/><rect x="382.5" y="777.0" width="2.8" height="2.8" fill="#696969"/><rect x="385.0" y="777.0" width="2.8" height="2.8" fill="#878787"/><rect x="387.5" y="777.0" width="2.8" height="2.8" fill="#515151"/><rect x="390.0" y="777.0" width="2.8" height="2.8" fill="#7e7e7e"/><rect x="392.5" y="777.0" width="2.8" height="2.8" fill="#717171"/><rect x="395.0" y="777.0" width="2.8" height="2.8" fill="#8e8e8e"/><rect x="397.5" y="777.0" width="2.8" height="2.8" fill="#a5a5a5"/><rect x="400.0" y="777.0" width="2.8" height="2.8" fill="#cacaca"/><rect x="402.5" y="777.0" width="2.8" height="2.8" fill="#d5d5d5"/><rect x="405.0" y="777.0" width="2.8" height="2.8" fill="#d2d2d2"/><rect x="407.5" y="777.0" width="2.8" height="2.8" fill="#ececec"/><rect x="410.0" y="777.0" width="2.8" height="2.8" fill="#dfdfdf"/><rect x="412.5" y="777.0" width="2.8" height="2.8" fill="#dddddd"/><rect x="355.0" y="779.5" width="2.8" height="2.8" fill="#f7f7f7"/><rect x="357.5" y="779.5" width="2.8" height="2.8" fill="#f0f0f0"/><rect x="360.0" y="779.5" width="2.8" height="2.8" fill="#f6f6f6"/><rect x="362.5" y="779.5" width="2.8" height="2.8" fill="#f7f7f7"/><rect x="365.0" y="779.5" width="2.8" height="2.8" fill="#efefef"/><rect x="367.5" y="779.5" width="2.8" height="2.8" fill="#f2f2f2"/><rect x="370.0" y="779.5" width="2.8" height="2.8" fill="#e7e7e7"/><rect x="372.5" y="779.5" width="2.8" height="2.8" fill="#cdcdcd"/><rect x="375.0" y="779.5" width="2.8" height="2.8" fill="#d3d3d3"/><rect x="377.5" y="779.5" width="2.8" height="2.8" fill="#949494"/><rect x="380.0" y="779.5" width="2.8" height="2.8" fill="#acacac"/><rect x="382.5" y="779.5" width="2.8" height="2.8" fill="#595959"/><rect x="385.0" y="779.5" width="2.8" height="2.8" fill="#858585"/><rect x="387.5" y="779.5" width="2.8" height="2.8" fill="#555555"/><rect x="390.0" y="779.5" width="2.8" height="2.8" fill="#7b7b7b"/><rect x="392.5" y="779.5" width="2.8" height="2.8" fill="#757575"/><rect x="395.0" y="779.5" width="2.8" height="2.8" fill="#9c9c9c"/><rect x="397.5" y="779.5" width="2.8" height="2.8" fill="#a2a2a2"/><rect x="400.0" y="779.5" width="2.8" height="2.8" fill="#cbcbcb"/><rect x="402.5" y="779.5" width="2.8" height="2.8" fill="#d9d9d9"/><rect x="405.0" y="779.5" width="2.8" height="2.8" fill="#d1d1d1"/><rect x="407.5" y="779.5" width="2.8" height="2.8" fill="#ebebeb"/><rect x="410.0" y="779.5" width="2.8" height="2.8" fill="#e2e2e2"/><rect x="355.0" y="782.0" width="2.8" height="2.8" fill="#efefef"/><rect x="357.5" y="782.0" width="2.8" height="2.8" fill="#ffffff"/><rect x="360.0" y="782.0" width="2.8" height="2.8" fill="#f8f8f8"/><rect x="362.5" y="782.0" width="2.8" height="2.8" fill="#fcfcfc"/><rect x="365.0" y="782.0" width="2.8" height="2.8" fill="#ededed"/><rect x="367.5" y="782.0" width="2.8" height="2.8" fill="#f7f7f7"/><rect x="370.0" y="782.0" width="2.8" height="2.8" fill="#e6e6e6"/><rect x="372.5" y="782.0" width="2.8" height="2.8" fill="#c6c6c6"/><rect x="375.0" y="782.0" width="2.8" height="2.8" fill="#cecece"/><rect x="377.5" y="782.0" width="2.8" height="2.8" fill="#919191"/><rect x="380.0" y="782.0" width="2.8" height="2.8" fill="#b0b0b0"/><rect x="382.5" y="782.0" width="2.8" height="2.8" fill="#5a5a5a"/><rect x="385.0" y="782.0" width="2.8" height="2.8" fill="#808080"/><rect x="387.5" y="782.0" width="2.8" height="2.8" fill="#4e4e4e"/><rect x="390.0" y="782.0" width="2.8" height="2.8" fill="#767676"/><rect x="392.5" y="782.0" width="2.8" height="2.8" fill="#777777"/><rect x="395.0" y="782.0" width="2.8" height="2.8" fill="#979797"/><rect x="397.5" y="782.0" width="2.8" height="2.8" fill="#b3b3b3"/><rect x="400.0" y="782.0" width="2.8" height="2.8" fill="#c0c0c0"/><rect x="402.5" y="782.0" width="2.8" height="2.8" fill="#dddddd"/><rect x="405.0" y="782.0" width="2.8" height="2.8" fill="#e3e3e3"/><rect x="407.5" y="782.0" width="2.8" height="2.8" fill="#dbdbdb"/><rect x="410.0" y="782.0" width="2.8" height="2.8" fill="#ebebeb"/><rect x="355.0" y="784.5" width="2.8" height="2.8" fill="#f3f3f3"/><rect x="357.5" y="784.5" width="2.8" height="2.8" fill="#fdfdfd"/><rect x="360.0" y="784.5" width="2.8" height="2.8" fill="#fbfbfb"/><rect x="362.5" y="784.5" width="2.8" height="2.8" fill="#fdfdfd"/><rect x="365.0" y="784.5" width="2.8" height="2.8" fill="#ececec"/><rect x="367.5" y="784.5" width="2.8" height="2.8" fill="#ededed"/><rect x="370.0" y="784.5" width="2.8" height="2.8" fill="#f6f6f6"/><rect x="372.5" y="784.5" width="2.8" height="2.8" fill="#d7d7d7"/><rect x="375.0" y="784.5" width="2.8" height="2.8" fill="#d6d6d6"/><rect x="377.5" y="784.5" width="2.8" height="2.8" fill="#919191"/><rect x="380.0" y="784.5" width="2.8" height="2.8" fill="#afafaf"/><rect x="382.5" y="784.5" width="2.8" height="2.8" fill="#565656"/><rect x="385.0" y="784.5" width="2.8" height="2.8" fill="#858585"/><rect x="387.5" y="784.5" width="2.8" height="2.8" fill="#4f4f4f"/><rect x="390.0" y="784.5" width="2.8" height="2.8" fill="#6d6d6d"/><rect x="392.5" y="784.5" width="2.8" height="2.8" fill="#777777"/><rect x="395.0" y="784.5" width="2.8" height="2.8" fill="#979797"/><rect x="397.5" y="784.5" width="2.8" height="2.8" fill="#a4a4a4"/><rect x="400.0" y="784.5" width="2.8" height="2.8" fill="#b7b7b7"/><rect x="402.5" y="784.5" width="2.8" height="2.8" fill="#d2d2d2"/><rect x="405.0" y="784.5" width="2.8" height="2.8" fill="#e2e2e2"/><rect x="407.5" y="784.5" width="2.8" height="2.8" fill="#e5e5e5"/><rect x="410.0" y="784.5" width="2.8" height="2.8" fill="#dbdbdb"/><rect x="355.0" y="787.0" width="2.8" height="2.8" fill="#ebebeb"/><rect x="357.5" y="787.0" width="2.8" height="2.8" fill="#ededed"/><rect x="360.0" y="787.0" width="2.8" height="2.8" fill="#fefefe"/><rect x="362.5" y="787.0" width="2.8" height="2.8" fill="#eeeeee"/><rect x="365.0" y="787.0" width="2.8" height="2.8" fill="#f7f7f7"/><rect x="367.5" y="787.0" width="2.8" height="2.8" fill="#ebebeb"/><rect x="370.0" y="787.0" width="2.8" height="2.8" fill="#f5f5f5"/><rect x="372.5" y="787.0" width="2.8" height="2.8" fill="#c9c9c9"/><rect x="375.0" y="787.0" width="2.8" height="2.8" fill="#c8c8c8"/><rect x="377.5" y="787.0" width="2.8" height="2.8" fill="#a5a5a5"/><rect x="380.0" y="787.0" width="2.8" height="2.8" fill="#aeaeae"/><rect x="382.5" y="787.0" width="2.8" height="2.8" fill="#646464"/><rect x="385.0" y="787.0" width="2.8" height="2.8" fill="#8a8a8a"/><rect x="387.5" y="787.0" width="2.8" height="2.8" fill="#525252"/><rect x="390.0" y="787.0" width="2.8" height="2.8" fill="#6a6a6a"/><rect x="392.5" y="787.0" width="2.8" height="2.8" fill="#696969"/><rect x="395.0" y="787.0" width="2.8" height="2.8" fill="#8a8a8a"/><rect x="397.5" y="787.0" width="2.8" height="2.8" fill="#aaaaaa"/><rect x="400.0" y="787.0" width="2.8" height="2.8" fill="#c7c7c7"/><rect x="402.5" y="787.0" width="2.8" height="2.8" fill="#dadada"/><rect x="405.0" y="787.0" width="2.8" height="2.8" fill="#cfcfcf"/><rect x="407.5" y="787.0" width="2.8" height="2.8" fill="#dbdbdb"/><rect x="355.0" y="789.5" width="2.8" height="2.8" fill="#fefefe"/><rect x="357.5" y="789.5" width="2.8" height="2.8" fill="#fbfbfb"/><rect x="360.0" y="789.5" width="2.8" height="2.8" fill="#f4f4f4"/><rect x="362.5" y="789.5" width="2.8" height="2.8" fill="#f5f5f5"/><rect x="365.0" y="789.5" width="2.8" height="2.8" fill="#ededed"/><rect x="367.5" y="789.5" width="2.8" height="2.8" fill="#f8f8f8"/><rect x="370.0" y="789.5" width="2.8" height="2.8" fill="#eeeeee"/><rect x="372.5" y="789.5" width="2.8" height="2.8" fill="#d5d5d5"/><rect x="375.0" y="789.5" width="2.8" height="2.8" fill="#d3d3d3"/><rect x="377.5" y="789.5" width="2.8" height="2.8" fill="#929292"/><rect x="380.0" y="789.5" width="2.8" height="2.8" fill="#a9a9a9"/><rect x="382.5" y="789.5" width="2.8" height="2.8" fill="#595959"/><rect x="385.0" y="789.5" width="2.8" height="2.8" fill="#8d8d8d"/><rect x="387.5" y="789.5" width="2.8" height="2.8" fill="#4a4a4a"/><rect x="390.0" y="789.5" width="2.8" height="2.8" fill="#6b6b6b"/><rect x="392.5" y="789.5" width="2.8" height="2.8" fill="#656565"/><rect x="395.0" y="789.5" width="2.8" height="2.8" fill="#909090"/><rect x="397.5" y="789.5" width="2.8" height="2.8" fill="#a9a9a9"/><rect x="400.0" y="789.5" width="2.8" height="2.8" fill="#c0c0c0"/><rect x="402.5" y="789.5" width="2.8" height="2.8" fill="#d0d0d0"/><rect x="405.0" y="789.5" width="2.8" height="2.8" fill="#d7d7d7"/><rect x="407.5" y="789.5" width="2.8" height="2.8" fill="#d7d7d7"/><rect x="355.0" y="792.0" width="2.8" height="2.8" fill="#f8f8f8"/><rect x="357.5" y="792.0" width="2.8" height="2.8" fill="#f2f2f2"/><rect x="360.0" y="792.0" width="2.8" height="2.8" fill="#ebebeb"/><rect x="362.5" y="792.0" width="2.8" height="2.8" fill="#f5f5f5"/><rect x="365.0" y="792.0" width="2.8" height="2.8" fill="#ffffff"/><rect x="367.5" y="792.0" width="2.8" height="2.8" fill="#e5e5e5"/><rect x="370.0" y="792.0" width="2.8" height="2.8" fill="#e8e8e8"/><rect x="372.5" y="792.0" width="2.8" height="2.8" fill="#d1d1d1"/><rect x="375.0" y="792.0" width="2.8" height="2.8" fill="#cbcbcb"/><rect x="377.5" y="792.0" width="2.8" height="2.8" fill="#989898"/><rect x="380.0" y="792.0" width="2.8" height="2.8" fill="#aeaeae"/><rect x="382.5" y="792.0" width="2.8" height="2.8" fill="#5c5c5c"/><rect x="385.0" y="792.0" width="2.8" height="2.8" fill="#868686"/><rect x="387.5" y="792.0" width="2.8" height="2.8" fill="#4a4a4a"/><rect x="390.0" y="792.0" width="2.8" height="2.8" fill="#838383"/><rect x="392.5" y="792.0" width="2.8" height="2.8" fill="#7a7a7a"/><rect x="395.0" y="792.0" width="2.8" height="2.8" fill="#898989"/><rect x="397.5" y="792.0" width="2.8" height="2.8" fill="#acacac"/><rect x="400.0" y="792.0" width="2.8" height="2.8" fill="#c5c5c5"/><rect x="402.5" y="792.0" width="2.8" height="2.8" fill="#dcdcdc"/><rect x="405.0" y="792.0" width="2.8" height="2.8" fill="#e1e1e1"/><rect x="407.5" y="792.0" width="2.8" height="2.8" fill="#e6e6e6"/><rect x="355.0" y="794.5" width="2.8" height="2.8" fill="#fafafa"/><rect x="357.5" y="794.5" width="2.8" height="2.8" fill="#f3f3f3"/><rect x="360.0" y="794.5" width="2.8" height="2.8" fill="#f1f1f1"/><rect x="362.5" y="794.5" width="2.8" height="2.8" fill="#fdfdfd"/><rect x="365.0" y="794.5" width="2.8" height="2.8" fill="#fefefe"/><rect x="367.5" y="794.5" width="2.8" height="2.8" fill="#fbfbfb"/><rect x="370.0" y="794.5" width="2.8" height="2.8" fill="#f5f5f5"/><rect x="372.5" y="794.5" width="2.8" height="2.8" fill="#c8c8c8"/><rect x="375.0" y="794.5" width="2.8" height="2.8" fill="#d8d8d8"/><rect x="377.5" y="794.5" width="2.8" height="2.8" fill="#a4a4a4"/><rect x="380.0" y="794.5" width="2.8" height="2.8" fill="#afafaf"/><rect x="382.5" y="794.5" width="2.8" height="2.8" fill="#676767"/><rect x="385.0" y="794.5" width="2.8" height="2.8" fill="#838383"/><rect x="387.5" y="794.5" width="2.8" height="2.8" fill="#4e4e4e"/><rect x="390.0" y="794.5" width="2.8" height="2.8" fill="#787878"/><rect x="392.5" y="794.5" width="2.8" height="2.8" fill="#666666"/><rect x="395.0" y="794.5" width="2.8" height="2.8" fill="#929292"/><rect x="397.5" y="794.5" width="2.8" height="2.8" fill="#a7a7a7"/><rect x="400.0" y="794.5" width="2.8" height="2.8" fill="#cbcbcb"/><rect x="402.5" y="794.5" width="2.8" height="2.8" fill="#d3d3d3"/><rect x="405.0" y="794.5" width="2.8" height="2.8" fill="#d7d7d7"/><rect x="355.0" y="797.0" width="2.8" height="2.8" fill="#f0f0f0"/><rect x="357.5" y="797.0" width="2.8" height="2.8" fill="#f0f0f0"/><rect x="360.0" y="797.0" width="2.8" height="2.8" fill="#f3f3f3"/><rect x="362.5" y="797.0" width="2.8" height="2.8" fill="#ededed"/><rect x="365.0" y="797.0" width="2.8" height="2.8" fill="#eaeaea"/><rect x="367.5" y="797.0" width="2.8" height="2.8" fill="#f9f9f9"/><rect x="370.0" y="797.0" width="2.8" height="2.8" fill="#f0f0f0"/><rect x="372.5" y="797.0" width="2.8" height="2.8" fill="#cccccc"/><rect x="375.0" y="797.0" width="2.8" height="2.8" fill="#d3d3d3"/><rect x="377.5" y="797.0" width="2.8" height="2.8" fill="#9c9c9c"/><rect x="380.0" y="797.0" width="2.8" height="2.8" fill="#a8a8a8"/><rect x="382.5" y="797.0" width="2.8" height="2.8" fill="#5d5d5d"/><rect x="385.0" y="797.0" width="2.8" height="2.8" fill="#848484"/><rect x="387.5" y="797.0" width="2.8" height="2.8" fill="#4c4c4c"/><rect x="390.0" y="797.0" width="2.8" height="2.8" fill="#828282"/><rect x="392.5" y="797.0" width="2.8" height="2.8" fill="#757575"/><rect x="395.0" y="797.0" width="2.8" height="2.8" fill="#a2a2a2"/><rect x="397.5" y="797.0" width="2.8" height="2.8" fill="#a9a9a9"/><rect x="400.0" y="797.0" width="2.8" height="2.8" fill="#cacaca"/><rect x="402.5" y="797.0" width="2.8" height="2.8" fill="#d6d6d6"/><rect x="405.0" y="797.0" width="2.8" height="2.8" fill="#d1d1d1"/><rect x="355.0" y="799.5" width="2.8" height="2.8" fill="#efefef"/><rect x="357.5" y="799.5" width="2.8" height="2.8" fill="#f8f8f8"/><rect x="360.0" y="799.5" width="2.8" height="2.8" fill="#ffffff"/><rect x="362.5" y="799.5" width="2.8" height="2.8" fill="#f2f2f2"/><rect x="365.0" y="799.5" width="2.8" height="2.8" fill="#fcfcfc"/><rect x="367.5" y="799.5" width="2.8" height="2.8" fill="#efefef"/><rect x="370.0" y="799.5" width="2.8" height="2.8" fill="#fafafa"/><rect x="372.5" y="799.5" width="2.8" height="2.8" fill="#c4c4c4"/><rect x="375.0" y="799.5" width="2.8" height="2.8" fill="#d2d2d2"/><rect x="377.5" y="799.5" width="2.8" height="2.8" fill="#acacac"/><rect x="380.0" y="799.5" width="2.8" height="2.8" fill="#adadad"/><rect x="382.5" y="799.5" width="2.8" height="2.8" fill="#666666"/><rect x="385.0" y="799.5" width="2.8" height="2.8" fill="#818181"/><rect x="387.5" y="799.5" width="2.8" height="2.8" fill="#4e4e4e"/><rect x="390.0" y="799.5" width="2.8" height="2.8" fill="#7b7b7b"/><rect x="392.5" y="799.5" width="2.8" height="2.8" fill="#7c7c7c"/><rect x="395.0" y="799.5" width="2.8" height="2.8" fill="#939393"/><rect x="397.5" y="799.5" width="2.8" height="2.8" fill="#acacac"/><rect x="400.0" y="799.5" width="2.8" height="2.8" fill="#bababa"/><rect x="402.5" y="799.5" width="2.8" height="2.8" fill="#d7d7d7"/><rect x="405.0" y="799.5" width="2.8" height="2.8" fill="#e4e4e4"/><rect x="355.0" y="802.0" width="2.8" height="2.8" fill="#fafafa"/><rect x="357.5" y="802.0" width="2.8" height="2.8" fill="#efefef"/><rect x="360.0" y="802.0" width="2.8" height="2.8" fill="#fcfcfc"/><rect x="362.5" y="802.0" width="2.8" height="2.8" fill="#ffffff"/><rect x="365.0" y="802.0" width="2.8" height="2.8" fill="#f8f8f8"/><rect x="367.5" y="802.0" width="2.8" height="2.8" fill="#e7e7e7"/><rect x="370.0" y="802.0" width="2.8" height="2.8" fill="#f9f9f9"/><rect x="372.5" y="802.0" width="2.8" height="2.8" fill="#d9d9d9"/><rect x="375.0" y="802.0" width="2.8" height="2.8" fill="#d0d0d0"/><rect x="377.5" y="802.0" width="2.8" height="2.8" fill="#9d9d9d"/><rect x="380.0" y="802.0" width="2.8" height="2.8" fill="#adadad"/><rect x="382.5" y="802.0" width="2.8" height="2.8" fill="#727272"/><rect x="385.0" y="802.0" width="2.8" height="2.8" fill="#999999"/><rect x="387.5" y="802.0" width="2.8" height="2.8" fill="#5f5f5f"/><rect x="390.0" y="802.0" width="2.8" height="2.8" fill="#8e8e8e"/><rect x="392.5" y="802.0" width="2.8" height="2.8" fill="#757575"/><rect x="395.0" y="802.0" width="2.8" height="2.8" fill="#999999"/><rect x="397.5" y="802.0" width="2.8" height="2.8" fill="#b7b7b7"/><rect x="400.0" y="802.0" width="2.8" height="2.8" fill="#c6c6c6"/><rect x="402.5" y="802.0" width="2.8" height="2.8" fill="#d2d2d2"/><rect x="405.0" y="802.0" width="2.8" height="2.8" fill="#dfdfdf"/><rect x="355.0" y="804.5" width="2.8" height="2.8" fill="#f3f3f3"/><rect x="357.5" y="804.5" width="2.8" height="2.8" fill="#ececec"/><rect x="360.0" y="804.5" width="2.8" height="2.8" fill="#f4f4f4"/><rect x="362.5" y="804.5" width="2.8" height="2.8" fill="#ebebeb"/><rect x="365.0" y="804.5" width="2.8" height="2.8" fill="#f9f9f9"/><rect x="367.5" y="804.5" width="2.8" height="2.8" fill="#ededed"/><rect x="370.0" y="804.5" width="2.8" height="2.8" fill="#f1f1f1"/><rect x="372.5" y="804.5" width="2.8" height="2.8" fill="#d3d3d3"/><rect x="375.0" y="804.5" width="2.8" height="2.8" fill="#cecece"/><rect x="377.5" y="804.5" width="2.8" height="2.8" fill="#a8a8a8"/><rect x="380.0" y="804.5" width="2.8" height="2.8" fill="#ababab"/><rect x="382.5" y="804.5" width="2.8" height="2.8" fill="#808080"/><rect x="385.0" y="804.5" width="2.8" height="2.8" fill="#959595"/><rect x="387.5" y="804.5" width="2.8" height="2.8" fill="#6d6d6d"/><rect x="390.0" y="804.5" width="2.8" height="2.8" fill="#7d7d7d"/><rect x="392.5" y="804.5" width="2.8" height="2.8" fill="#838383"/><rect x="395.0" y="804.5" width="2.8" height="2.8" fill="#a5a5a5"/><rect x="397.5" y="804.5" width="2.8" height="2.8" fill="#aeaeae"/><rect x="400.0" y="804.5" width="2.8" height="2.8" fill="#b9b9b9"/><rect x="402.5" y="804.5" width="2.8" height="2.8" fill="#cccccc"/><rect x="405.0" y="804.5" width="2.8" height="2.8" fill="#d2d2d2"/><rect x="355.0" y="807.0" width="2.8" height="2.8" fill="#fdfdfd"/><rect x="357.5" y="807.0" width="2.8" height="2.8" fill="#ededed"/><rect x="360.0" y="807.0" width="2.8" height="2.8" fill="#fefefe"/><rect x="362.5" y="807.0" width="2.8" height="2.8" fill="#f4f4f4"/><rect x="365.0" y="807.0" width="2.8" height="2.8" fill="#f7f7f7"/><rect x="367.5" y="807.0" width="2.8" height="2.8" fill="#f3f3f3"/><rect x="370.0" y="807.0" width="2.8" height="2.8" fill="#f3f3f3"/><rect x="372.5" y="807.0" width="2.8" height="2.8" fill="#d6d6d6"/><rect x="375.0" y="807.0" width="2.8" height="2.8" fill="#d8d8d8"/><rect x="377.5" y="807.0" width="2.8" height="2.8" fill="#a8a8a8"/><rect x="380.0" y="807.0" width="2.8" height="2.8" fill="#bfbfbf"/><rect x="382.5" y="807.0" width="2.8" height="2.8" fill="#767676"/><rect x="385.0" y="807.0" width="2.8" height="2.8" fill="#9d9d9d"/><rect x="387.5" y="807.0" width="2.8" height="2.8" fill="#6e6e6e"/><rect x="390.0" y="807.0" width="2.8" height="2.8" fill="#939393"/><rect x="392.5" y="807.0" width="2.8" height="2.8" fill="#7f7f7f"/><rect x="395.0" y="807.0" width="2.8" height="2.8" fill="#a8a8a8"/><rect x="397.5" y="807.0" width="2.8" height="2.8" fill="#bfbfbf"/><rect x="400.0" y="807.0" width="2.8" height="2.8" fill="#c2c2c2"/><rect x="402.5" y="807.0" width="2.8" height="2.8" fill="#cecece"/><rect x="405.0" y="807.0" width="2.8" height="2.8" fill="#dadada"/><rect x="355.0" y="809.5" width="2.8" height="2.8" fill="#ffffff"/><rect x="357.5" y="809.5" width="2.8" height="2.8" fill="#eeeeee"/><rect x="360.0" y="809.5" width="2.8" height="2.8" fill="#ebebeb"/><rect x="362.5" y="809.5" width="2.8" height="2.8" fill="#f5f5f5"/><rect x="365.0" y="809.5" width="2.8" height="2.8" fill="#f9f9f9"/><rect x="367.5" y="809.5" width="2.8" height="2.8" fill="#f8f8f8"/><rect x="370.0" y="809.5" width="2.8" height="2.8" fill="#efefef"/><rect x="372.5" y="809.5" width="2.8" height="2.8" fill="#dfdfdf"/><rect x="375.0" y="809.5" width="2.8" height="2.8" fill="#d0d0d0"/><rect x="377.5" y="809.5" width="2.8" height="2.8" fill="#b5b5b5"/><rect x="380.0" y="809.5" width="2.8" height="2.8" fill="#b1b1b1"/><rect x="382.5" y="809.5" width="2.8" height="2.8" fill="#767676"/><rect x="385.0" y="809.5" width="2.8" height="2.8" fill="#929292"/><rect x="387.5" y="809.5" width="2.8" height="2.8" fill="#636363"/><rect x="390.0" y="809.5" width="2.8" height="2.8" fill="#8f8f8f"/><rect x="392.5" y="809.5" width="2.8" height="2.8" fill="#898989"/><rect x="395.0" y="809.5" width="2.8" height="2.8" fill="#9b9b9b"/><rect x="397.5" y="809.5" width="2.8" height="2.8" fill="#bebebe"/><rect x="400.0" y="809.5" width="2.8" height="2.8" fill="#bfbfbf"/><rect x="402.5" y="809.5" width="2.8" height="2.8" fill="#c9c9c9"/><rect x="405.0" y="809.5" width="2.8" height="2.8" fill="#cfcfcf"/><rect x="355.0" y="812.0" width="2.8" height="2.8" fill="#fcfcfc"/><rect x="357.5" y="812.0" width="2.8" height="2.8" fill="#ffffff"/><rect x="360.0" y="812.0" width="2.8" height="2.8" fill="#eeeeee"/><rect x="362.5" y="812.0" width="2.8" height="2.8" fill="#eaeaea"/><rect x="365.0" y="812.0" width="2.8" height="2.8" fill="#fcfcfc"/><rect x="367.5" y="812.0" width="2.8" height="2.8" fill="#ececec"/><rect x="370.0" y="812.0" width="2.8" height="2.8" fill="#fefefe"/><rect x="372.5" y="812.0" width="2.8" height="2.8" fill="#d4d4d4"/><rect x="375.0" y="812.0" width="2.8" height="2.8" fill="#dadada"/><rect x="377.5" y="812.0" width="2.8" height="2.8" fill="#aeaeae"/><rect x="380.0" y="812.0" width="2.8" height="2.8" fill="#c5c5c5"/><rect x="382.5" y="812.0" width="2.8" height="2.8" fill="#868686"/><rect x="385.0" y="812.0" width="2.8" height="2.8" fill="#9a9a9a"/><rect x="387.5" y="812.0" width="2.8" height="2.8" fill="#7d7d7d"/><rect x="390.0" y="812.0" width="2.8" height="2.8" fill="#888888"/><rect x="392.5" y="812.0" width="2.8" height="2.8" fill="#8f8f8f"/><rect x="395.0" y="812.0" width="2.8" height="2.8" fill="#989898"/><rect x="397.5" y="812.0" width="2.8" height="2.8" fill="#b5b5b5"/><rect x="400.0" y="812.0" width="2.8" height="2.8" fill="#bdbdbd"/><rect x="402.5" y="812.0" width="2.8" height="2.8" fill="#d7d7d7"/><rect x="405.0" y="812.0" width="2.8" height="2.8" fill="#c8c8c8"/><rect x="355.0" y="814.5" width="2.8" height="2.8" fill="#f8f8f8"/><rect x="357.5" y="814.5" width="2.8" height="2.8" fill="#f4f4f4"/><rect x="360.0" y="814.5" width="2.8" height="2.8" fill="#ffffff"/><rect x="362.5" y="814.5" width="2.8" height="2.8" fill="#ffffff"/><rect x="365.0" y="814.5" width="2.8" height="2.8" fill="#f9f9f9"/><rect x="367.5" y="814.5" width="2.8" height="2.8" fill="#ececec"/><rect x="370.0" y="814.5" width="2.8" height="2.8" fill="#ececec"/><rect x="372.5" y="814.5" width="2.8" height="2.8" fill="#d0d0d0"/><rect x="375.0" y="814.5" width="2.8" height="2.8" fill="#d6d6d6"/><rect x="377.5" y="814.5" width="2.8" height="2.8" fill="#afafaf"/><rect x="380.0" y="814.5" width="2.8" height="2.8" fill="#b8b8b8"/><rect x="382.5" y="814.5" width="2.8" height="2.8" fill="#929292"/><rect x="385.0" y="814.5" width="2.8" height="2.8" fill="#a4a4a4"/><rect x="387.5" y="814.5" width="2.8" height="2.8" fill="#737373"/><rect x="390.0" y="814.5" width="2.8" height="2.8" fill="#9f9f9f"/><rect x="392.5" y="814.5" width="2.8" height="2.8" fill="#848484"/><rect x="395.0" y="814.5" width="2.8" height="2.8" fill="#a3a3a3"/><rect x="397.5" y="814.5" width="2.8" height="2.8" fill="#a7a7a7"/><rect x="400.0" y="814.5" width="2.8" height="2.8" fill="#c4c4c4"/><rect x="402.5" y="814.5" width="2.8" height="2.8" fill="#d1d1d1"/><rect x="405.0" y="814.5" width="2.8" height="2.8" fill="#c7c7c7"/><rect x="407.5" y="814.5" width="2.8" height="2.8" fill="#d9d9d9"/><rect x="355.0" y="817.0" width="2.8" height="2.8" fill="#fefefe"/><rect x="357.5" y="817.0" width="2.8" height="2.8" fill="#f1f1f1"/><rect x="360.0" y="817.0" width="2.8" height="2.8" fill="#f2f2f2"/><rect x="362.5" y="817.0" width="2.8" height="2.8" fill="#f6f6f6"/><rect x="365.0" y="817.0" width="2.8" height="2.8" fill="#ffffff"/><rect x="367.5" y="817.0" width="2.8" height="2.8" fill="#eaeaea"/><rect x="370.0" y="817.0" width="2.8" height="2.8" fill="#f7f7f7"/><rect x="372.5" y="817.0" width="2.8" height="2.8" fill="#d9d9d9"/><rect x="375.0" y="817.0" width="2.8" height="2.8" fill="#d8d8d8"/><rect x="377.5" y="817.0" width="2.8" height="2.8" fill="#bababa"/><rect x="380.0" y="817.0" width="2.8" height="2.8" fill="#cacaca"/><rect x="382.5" y="817.0" width="2.8" height="2.8" fill="#898989"/><rect x="385.0" y="817.0" width="2.8" height="2.8" fill="#acacac"/><rect x="387.5" y="817.0" width="2.8" height="2.8" fill="#787878"/><rect x="390.0" y="817.0" width="2.8" height="2.8" fill="#9a9a9a"/><rect x="392.5" y="817.0" width="2.8" height="2.8" fill="#939393"/><rect x="395.0" y="817.0" width="2.8" height="2.8" fill="#979797"/><rect x="397.5" y="817.0" width="2.8" height="2.8" fill="#b3b3b3"/><rect x="400.0" y="817.0" width="2.8" height="2.8" fill="#c2c2c2"/><rect x="402.5" y="817.0" width="2.8" height="2.8" fill="#bdbdbd"/><rect x="405.0" y="817.0" width="2.8" height="2.8" fill="#bbbbbb"/><rect x="407.5" y="817.0" width="2.8" height="2.8" fill="#c2c2c2"/><rect x="410.0" y="817.0" width="2.8" height="2.8" fill="#d8d8d8"/><rect x="357.5" y="819.5" width="2.8" height="2.8" fill="#ebebeb"/><rect x="360.0" y="819.5" width="2.8" height="2.8" fill="#ffffff"/><rect x="362.5" y="819.5" width="2.8" height="2.8" fill="#eeeeee"/><rect x="365.0" y="819.5" width="2.8" height="2.8" fill="#fbfbfb"/><rect x="367.5" y="819.5" width="2.8" height="2.8" fill="#e9e9e9"/><rect x="370.0" y="819.5" width="2.8" height="2.8" fill="#ebebeb"/><rect x="372.5" y="819.5" width="2.8" height="2.8" fill="#dcdcdc"/><rect x="375.0" y="819.5" width="2.8" height="2.8" fill="#d0d0d0"/><rect x="377.5" y="819.5" width="2.8" height="2.8" fill="#b7b7b7"/><rect x="380.0" y="819.5" width="2.8" height="2.8" fill="#cdcdcd"/><rect x="382.5" y="819.5" width="2.8" height="2.8" fill="#9a9a9a"/><rect x="385.0" y="819.5" width="2.8" height="2.8" fill="#aeaeae"/><rect x="387.5" y="819.5" width="2.8" height="2.8" fill="#8a8a8a"/><rect x="390.0" y="819.5" width="2.8" height="2.8" fill="#898989"/><rect x="392.5" y="819.5" width="2.8" height="2.8" fill="#848484"/><rect x="395.0" y="819.5" width="2.8" height="2.8" fill="#a3a3a3"/><rect x="397.5" y="819.5" width="2.8" height="2.8" fill="#ababab"/><rect x="400.0" y="819.5" width="2.8" height="2.8" fill="#a6a6a6"/><rect x="402.5" y="819.5" width="2.8" height="2.8" fill="#bcbcbc"/><rect x="405.0" y="819.5" width="2.8" height="2.8" fill="#b9b9b9"/><rect x="407.5" y="819.5" width="2.8" height="2.8" fill="#c2c2c2"/><rect x="410.0" y="819.5" width="2.8" height="2.8" fill="#bbbbbb"/><rect x="412.5" y="819.5" width="2.8" height="2.8" fill="#bababa"/><rect x="357.5" y="822.0" width="2.8" height="2.8" fill="#ffffff"/><rect x="360.0" y="822.0" width="2.8" height="2.8" fill="#f2f2f2"/><rect x="362.5" y="822.0" width="2.8" height="2.8" fill="#ffffff"/><rect x="365.0" y="822.0" width="2.8" height="2.8" fill="#ededed"/><rect x="367.5" y="822.0" width="2.8" height="2.8" fill="#f3f3f3"/><rect x="370.0" y="822.0" width="2.8" height="2.8" fill="#eaeaea"/><rect x="372.5" y="822.0" width="2.8" height="2.8" fill="#d7d7d7"/><rect x="375.0" y="822.0" width="2.8" height="2.8" fill="#d2d2d2"/><rect x="377.5" y="822.0" width="2.8" height="2.8" fill="#c2c2c2"/><rect x="380.0" y="822.0" width="2.8" height="2.8" fill="#bcbcbc"/><rect x="382.5" y="822.0" width="2.8" height="2.8" fill="#9e9e9e"/><rect x="385.0" y="822.0" width="2.8" height="2.8" fill="#a7a7a7"/><rect x="387.5" y="822.0" width="2.8" height="2.8" fill="#797979"/><rect x="390.0" y="822.0" width="2.8" height="2.8" fill="#919191"/><rect x="392.5" y="822.0" width="2.8" height="2.8" fill="#8a8a8a"/><rect x="395.0" y="822.0" width="2.8" height="2.8" fill="#a4a4a4"/><rect x="397.5" y="822.0" width="2.8" height="2.8" fill="#a0a0a0"/><rect x="400.0" y="822.0" width="2.8" height="2.8" fill="#a6a6a6"/><rect x="402.5" y="822.0" width="2.8" height="2.8" fill="#c2c2c2"/><rect x="405.0" y="822.0" width="2.8" height="2.8" fill="#c3c3c3"/><rect x="407.5" y="822.0" width="2.8" height="2.8" fill="#c4c4c4"/><rect x="410.0" y="822.0" width="2.8" height="2.8" fill="#b9b9b9"/><rect x="412.5" y="822.0" width="2.8" height="2.8" fill="#b8b8b8"/><rect x="415.0" y="822.0" width="2.8" height="2.8" fill="#bababa"/><rect x="417.5" y="822.0" width="2.8" height="2.8" fill="#b6b6b6"/><rect x="357.5" y="824.5" width="2.8" height="2.8" fill="#ebebeb"/><rect x="360.0" y="824.5" width="2.8" height="2.8" fill="#f7f7f7"/><rect x="362.5" y="824.5" width="2.8" height="2.8" fill="#f4f4f4"/><rect x="365.0" y="824.5" width="2.8" height="2.8" fill="#f7f7f7"/><rect x="367.5" y="824.5" width="2.8" height="2.8" fill="#f0f0f0"/><rect x="370.0" y="824.5" width="2.8" height="2.8" fill="#e7e7e7"/><rect x="372.5" y="824.5" width="2.8" height="2.8" fill="#dedede"/><rect x="375.0" y="824.5" width="2.8" height="2.8" fill="#dedede"/><rect x="377.5" y="824.5" width="2.8" height="2.8" fill="#c1c1c1"/><rect x="380.0" y="824.5" width="2.8" height="2.8" fill="#c7c7c7"/><rect x="382.5" y="824.5" width="2.8" height="2.8" fill="#a1a1a1"/><rect x="385.0" y="824.5" width="2.8" height="2.8" fill="#b5b5b5"/><rect x="387.5" y="824.5" width="2.8" height="2.8" fill="#8f8f8f"/><rect x="390.0" y="824.5" width="2.8" height="2.8" fill="#9c9c9c"/><rect x="392.5" y="824.5" width="2.8" height="2.8" fill="#898989"/><rect x="395.0" y="824.5" width="2.8" height="2.8" fill="#959595"/><rect x="397.5" y="824.5" width="2.8" height="2.8" fill="#a0a0a0"/><rect x="400.0" y="824.5" width="2.8" height="2.8" fill="#b5b5b5"/><rect x="402.5" y="824.5" width="2.8" height="2.8" fill="#b0b0b0"/><rect x="405.0" y="824.5" width="2.8" height="2.8" fill="#b3b3b3"/><rect x="407.5" y="824.5" width="2.8" height="2.8" fill="#b8b8b8"/><rect x="410.0" y="824.5" width="2.8" height="2.8" fill="#b2b2b2"/><rect x="412.5" y="824.5" width="2.8" height="2.8" fill="#c8c8c8"/><rect x="415.0" y="824.5" width="2.8" height="2.8" fill="#b0b0b0"/><rect x="417.5" y="824.5" width="2.8" height="2.8" fill="#bebebe"/><rect x="420.0" y="824.5" width="2.8" height="2.8" fill="#c6c6c6"/><rect x="360.0" y="827.0" width="2.8" height="2.8" fill="#f1f1f1"/><rect x="362.5" y="827.0" width="2.8" height="2.8" fill="#f9f9f9"/><rect x="365.0" y="827.0" width="2.8" height="2.8" fill="#f3f3f3"/><rect x="367.5" y="827.0" width="2.8" height="2.8" fill="#ededed"/><rect x="370.0" y="827.0" width="2.8" height="2.8" fill="#ececec"/><rect x="372.5" y="827.0" width="2.8" height="2.8" fill="#d1d1d1"/><rect x="375.0" y="827.0" width="2.8" height="2.8" fill="#e4e4e4"/><rect x="377.5" y="827.0" width="2.8" height="2.8" fill="#c9c9c9"/><rect x="380.0" y="827.0" width="2.8" height="2.8" fill="#d2d2d2"/><rect x="382.5" y="827.0" width="2.8" height="2.8" fill="#969696"/><rect x="385.0" y="827.0" width="2.8" height="2.8" fill="#b1b1b1"/><rect x="387.5" y="827.0" width="2.8" height="2.8" fill="#868686"/><rect x="390.0" y="827.0" width="2.8" height="2.8" fill="#9c9c9c"/><rect x="392.5" y="827.0" width="2.8" height="2.8" fill="#8f8f8f"/><rect x="395.0" y="827.0" width="2.8" height="2.8" fill="#969696"/><rect x="397.5" y="827.0" width="2.8" height="2.8" fill="#adadad"/><rect x="400.0" y="827.0" width="2.8" height="2.8" fill="#9d9d9d"/><rect x="402.5" y="827.0" width="2.8" height="2.8" fill="#b7b7b7"/><rect x="405.0" y="827.0" width="2.8" height="2.8" fill="#bcbcbc"/><rect x="407.5" y="827.0" width="2.8" height="2.8" fill="#b8b8b8"/><rect x="410.0" y="827.0" width="2.8" height="2.8" fill="#bababa"/><rect x="412.5" y="827.0" width="2.8" height="2.8" fill="#c5c5c5"/><rect x="415.0" y="827.0" width="2.8" height="2.8" fill="#b3b3b3"/><rect x="417.5" y="827.0" width="2.8" height="2.8" fill="#bcbcbc"/><rect x="420.0" y="827.0" width="2.8" height="2.8" fill="#bfbfbf"/><rect x="422.5" y="827.0" width="2.8" height="2.8" fill="#b6b6b6"/><rect x="360.0" y="829.5" width="2.8" height="2.8" fill="#fbfbfb"/><rect x="362.5" y="829.5" width="2.8" height="2.8" fill="#f3f3f3"/><rect x="365.0" y="829.5" width="2.8" height="2.8" fill="#f7f7f7"/><rect x="367.5" y="829.5" width="2.8" height="2.8" fill="#f6f6f6"/><rect x="370.0" y="829.5" width="2.8" height="2.8" fill="#f8f8f8"/><rect x="372.5" y="829.5" width="2.8" height="2.8" fill="#d7d7d7"/><rect x="375.0" y="829.5" width="2.8" height="2.8" fill="#dfdfdf"/><rect x="377.5" y="829.5" width="2.8" height="2.8" fill="#c5c5c5"/><rect x="380.0" y="829.5" width="2.8" height="2.8" fill="#c3c3c3"/><rect x="382.5" y="829.5" width="2.8" height="2.8" fill="#a7a7a7"/><rect x="385.0" y="829.5" width="2.8" height="2.8" fill="#a9a9a9"/><rect x="387.5" y="829.5" width="2.8" height="2.8" fill="#989898"/><rect x="390.0" y="829.5" width="2.8" height="2.8" fill="#9a9a9a"/><rect x="392.5" y="829.5" width="2.8" height="2.8" fill="#959595"/><rect x="395.0" y="829.5" width="2.8" height="2.8" fill="#9c9c9c"/><rect x="397.5" y="829.5" width="2.8" height="2.8" fill="#a1a1a1"/><rect x="400.0" y="829.5" width="2.8" height="2.8" fill="#a2a2a2"/><rect x="402.5" y="829.5" width="2.8" height="2.8" fill="#a8a8a8"/><rect x="405.0" y="829.5" width="2.8" height="2.8" fill="#bdbdbd"/><rect x="407.5" y="829.5" width="2.8" height="2.8" fill="#b7b7b7"/><rect x="410.0" y="829.5" width="2.8" height="2.8" fill="#b7b7b7"/><rect x="412.5" y="829.5" width="2.8" height="2.8" fill="#b8b8b8"/><rect x="415.0" y="829.5" width="2.8" height="2.8" fill="#bfbfbf"/><rect x="417.5" y="829.5" width="2.8" height="2.8" fill="#b1b1b1"/><rect x="420.0" y="829.5" width="2.8" height="2.8" fill="#b0b0b0"/><rect x="422.5" y="829.5" width="2.8" height="2.8" fill="#bfbfbf"/><rect x="360.0" y="832.0" width="2.8" height="2.8" fill="#f5f5f5"/><rect x="362.5" y="832.0" width="2.8" height="2.8" fill="#f9f9f9"/><rect x="365.0" y="832.0" width="2.8" height="2.8" fill="#fefefe"/><rect x="367.5" y="832.0" width="2.8" height="2.8" fill="#fdfdfd"/><rect x="370.0" y="832.0" width="2.8" height="2.8" fill="#fcfcfc"/><rect x="372.5" y="832.0" width="2.8" height="2.8" fill="#d1d1d1"/><rect x="375.0" y="832.0" width="2.8" height="2.8" fill="#dadada"/><rect x="377.5" y="832.0" width="2.8" height="2.8" fill="#cecece"/><rect x="380.0" y="832.0" width="2.8" height="2.8" fill="#d2d2d2"/><rect x="382.5" y="832.0" width="2.8" height="2.8" fill="#9f9f9f"/><rect x="385.0" y="832.0" width="2.8" height="2.8" fill="#a9a9a9"/><rect x="387.5" y="832.0" width="2.8" height="2.8" fill="#8c8c8c"/><rect x="390.0" y="832.0" width="2.8" height="2.8" fill="#949494"/><rect x="392.5" y="832.0" width="2.8" height="2.8" fill="#8f8f8f"/><rect x="395.0" y="832.0" width="2.8" height="2.8" fill="#a4a4a4"/><rect x="397.5" y="832.0" width="2.8" height="2.8" fill="#a3a3a3"/><rect x="400.0" y="832.0" width="2.8" height="2.8" fill="#a7a7a7"/><rect x="402.5" y="832.0" width="2.8" height="2.8" fill="#a6a6a6"/><rect x="405.0" y="832.0" width="2.8" height="2.8" fill="#b0b0b0"/><rect x="407.5" y="832.0" width="2.8" height="2.8" fill="#c1c1c1"/><rect x="410.0" y="832.0" width="2.8" height="2.8" fill="#bababa"/><rect x="412.5" y="832.0" width="2.8" height="2.8" fill="#b5b5b5"/><rect x="415.0" y="832.0" width="2.8" height="2.8" fill="#b6b6b6"/><rect x="417.5" y="832.0" width="2.8" height="2.8" fill="#bebebe"/><rect x="420.0" y="832.0" width="2.8" height="2.8" fill="#bdbdbd"/><rect x="422.5" y="832.0" width="2.8" height="2.8" fill="#aeaeae"/><rect x="362.5" y="834.5" width="2.8" height="2.8" fill="#fafafa"/><rect x="365.0" y="834.5" width="2.8" height="2.8" fill="#f3f3f3"/><rect x="367.5" y="834.5" width="2.8" height="2.8" fill="#f4f4f4"/><rect x="370.0" y="834.5" width="2.8" height="2.8" fill="#ededed"/><rect x="372.5" y="834.5" width="2.8" height="2.8" fill="#d9d9d9"/><rect x="375.0" y="834.5" width="2.8" height="2.8" fill="#d9d9d9"/><rect x="377.5" y="834.5" width="2.8" height="2.8" fill="#c5c5c5"/><rect x="380.0" y="834.5" width="2.8" height="2.8" fill="#c0c0c0"/><rect x="382.5" y="834.5" width="2.8" height="2.8" fill="#a4a4a4"/><rect x="385.0" y="834.5" width="2.8" height="2.8" fill="#b5b5b5"/><rect x="387.5" y="834.5" width="2.8" height="2.8" fill="#8b8b8b"/><rect x="390.0" y="834.5" width="2.8" height="2.8" fill="#989898"/><rect x="392.5" y="834.5" width="2.8" height="2.8" fill="#9a9a9a"/><rect x="395.0" y="834.5" width="2.8" height="2.8" fill="#999999"/><rect x="397.5" y="834.5" width="2.8" height="2.8" fill="#9f9f9f"/><rect x="400.0" y="834.5" width="2.8" height="2.8" fill="#a3a3a3"/><rect x="402.5" y="834.5" width="2.8" height="2.8" fill="#b8b8b8"/><rect x="405.0" y="834.5" width="2.8" height="2.8" fill="#a8a8a8"/><rect x="407.5" y="834.5" width="2.8" height="2.8" fill="#b8b8b8"/><rect x="410.0" y="834.5" width="2.8" height="2.8" fill="#bebebe"/><rect x="412.5" y="834.5" width="2.8" height="2.8" fill="#afafaf"/><rect x="415.0" y="834.5" width="2.8" height="2.8" fill="#b4b4b4"/><rect x="417.5" y="834.5" width="2.8" height="2.8" fill="#bdbdbd"/><rect x="365.0" y="837.0" width="2.8" height="2.8" fill="#f9f9f9"/><rect x="367.5" y="837.0" width="2.8" height="2.8" fill="#f1f1f1"/><rect x="370.0" y="837.0" width="2.8" height="2.8" fill="#e9e9e9"/><rect x="372.5" y="837.0" width="2.8" height="2.8" fill="#dbdbdb"/><rect x="375.0" y="837.0" width="2.8" height="2.8" fill="#dadada"/><rect x="377.5" y="837.0" width="2.8" height="2.8" fill="#cecece"/><rect x="380.0" y="837.0" width="2.8" height="2.8" fill="#c8c8c8"/><rect x="382.5" y="837.0" width="2.8" height="2.8" fill="#ababab"/><rect x="385.0" y="837.0" width="2.8" height="2.8" fill="#b9b9b9"/><rect x="387.5" y="837.0" width="2.8" height="2.8" fill="#a0a0a0"/><rect x="390.0" y="837.0" width="2.8" height="2.8" fill="#9e9e9e"/><rect x="392.5" y="837.0" width="2.8" height="2.8" fill="#949494"/><rect x="395.0" y="837.0" width="2.8" height="2.8" fill="#a2a2a2"/><rect x="397.5" y="837.0" width="2.8" height="2.8" fill="#afafaf"/><rect x="400.0" y="837.0" width="2.8" height="2.8" fill="#a2a2a2"/><rect x="402.5" y="837.0" width="2.8" height="2.8" fill="#bbbbbb"/><rect x="405.0" y="837.0" width="2.8" height="2.8" fill="#b7b7b7"/><rect x="407.5" y="837.0" width="2.8" height="2.8" fill="#b2b2b2"/><rect x="410.0" y="837.0" width="2.8" height="2.8" fill="#b9b9b9"/><rect x="412.5" y="837.0" width="2.8" height="2.8" fill="#b2b2b2"/><rect x="415.0" y="837.0" width="2.8" height="2.8" fill="#ababab"/><rect x="367.5" y="839.5" width="2.8" height="2.8" fill="#fafafa"/><rect x="370.0" y="839.5" width="2.8" height="2.8" fill="#f1f1f1"/><rect x="372.5" y="839.5" width="2.8" height="2.8" fill="#dedede"/><rect x="375.0" y="839.5" width="2.8" height="2.8" fill="#dedede"/><rect x="377.5" y="839.5" width="2.8" height="2.8" fill="#d4d4d4"/><rect x="380.0" y="839.5" width="2.8" height="2.8" fill="#d4d4d4"/><rect x="382.5" y="839.5" width="2.8" height="2.8" fill="#a4a4a4"/><rect x="385.0" y="839.5" width="2.8" height="2.8" fill="#b9b9b9"/><rect x="387.5" y="839.5" width="2.8" height="2.8" fill="#9a9a9a"/><rect x="390.0" y="839.5" width="2.8" height="2.8" fill="#a2a2a2"/><rect x="392.5" y="839.5" width="2.8" height="2.8" fill="#a1a1a1"/><rect x="395.0" y="839.5" width="2.8" height="2.8" fill="#9f9f9f"/><rect x="397.5" y="839.5" width="2.8" height="2.8" fill="#a5a5a5"/><rect x="400.0" y="839.5" width="2.8" height="2.8" fill="#b3b3b3"/><rect x="402.5" y="839.5" width="2.8" height="2.8" fill="#afafaf"/><rect x="405.0" y="839.5" width="2.8" height="2.8" fill="#b2b2b2"/><rect x="407.5" y="839.5" width="2.8" height="2.8" fill="#b5b5b5"/><rect x="410.0" y="839.5" width="2.8" height="2.8" fill="#bdbdbd"/><rect x="412.5" y="839.5" width="2.8" height="2.8" fill="#bababa"/><rect x="367.5" y="842.0" width="2.8" height="2.8" fill="#fafafa"/><rect x="370.0" y="842.0" width="2.8" height="2.8" fill="#f2f2f2"/><rect x="372.5" y="842.0" width="2.8" height="2.8" fill="#d2d2d2"/><rect x="375.0" y="842.0" width="2.8" height="2.8" fill="#e3e3e3"/><rect x="377.5" y="842.0" width="2.8" height="2.8" fill="#cdcdcd"/><rect x="380.0" y="842.0" width="2.8" height="2.8" fill="#d5d5d5"/><rect x="382.5" y="842.0" width="2.8" height="2.8" fill="#b8b8b8"/><rect x="385.0" y="842.0" width="2.8" height="2.8" fill="#afafaf"/><rect x="387.5" y="842.0" width="2.8" height="2.8" fill="#969696"/><rect x="390.0" y="842.0" width="2.8" height="2.8" fill="#9b9b9b"/><rect x="392.5" y="842.0" width="2.8" height="2.8" fill="#a2a2a2"/><rect x="395.0" y="842.0" width="2.8" height="2.8" fill="#989898"/><rect x="397.5" y="842.0" width="2.8" height="2.8" fill="#9c9c9c"/><rect x="370.0" y="844.5" width="2.8" height="2.8" fill="#fafafa"/><rect x="372.5" y="844.5" width="2.8" height="2.8" fill="#dfdfdf"/><rect x="375.0" y="844.5" width="2.8" height="2.8" fill="#d4d4d4"/><rect x="377.5" y="844.5" width="2.8" height="2.8" fill="#d1d1d1"/><rect x="380.0" y="844.5" width="2.8" height="2.8" fill="#d5d5d5"/><rect x="382.5" y="844.5" width="2.8" height="2.8" fill="#b2b2b2"/><rect x="385.0" y="844.5" width="2.8" height="2.8" fill="#aeaeae"/><rect x="387.5" y="844.5" width="2.8" height="2.8" fill="#a3a3a3"/><rect x="390.0" y="844.5" width="2.8" height="2.8" fill="#a4a4a4"/><rect x="380.0" y="847.0" width="2.8" height="2.8" fill="#d2d2d2"/></g>
<polygon points="389.4,683.4 402.5,691.3 410,705 417,722.8 416.4,741.2 419.6,757 413,775.4 406.5,791.1 405.1,814.8 414.3,822.6 423.5,830.5 414.3,838.4 398.6,841 381.5,846.3 372.3,843.7 363.1,833.2 357.8,817.4 356.5,791.1 357.8,767.5 361.3,743.8 361.8,733.3 369.7,717.5 378.9,696.5" fill="none" stroke="#111" stroke-width="1.1"/>
<defs><clipPath id="rgc"><polygon points="569.6,678.6 589.3,678.6 610.4,687.8 636.6,699.6 652.4,707.5 673.4,719.3 660.3,725.9 647.1,732.4 626.1,742.9 616.9,750.8 592,752.1 555.2,753.5 539.4,746.9 525,740.3 505.3,733.7 503.9,721.9 511.8,711.4 534.2,700.9 552.5,690.4"/></clipPath></defs>
<g clip-path="url(#rgc)"><rect x="563.2" y="677.0" width="3.9" height="3.9" fill="#ffffff"/><rect x="566.8" y="677.0" width="3.9" height="3.9" fill="#ffffff"/><rect x="570.4" y="677.0" width="3.9" height="3.9" fill="#fdfdfd"/><rect x="574.0" y="677.0" width="3.9" height="3.9" fill="#c4c4c4"/><rect x="577.6" y="677.0" width="3.9" height="3.9" fill="#9e9e9e"/><rect x="581.2" y="677.0" width="3.9" height="3.9" fill="#818181"/><rect x="584.8" y="677.0" width="3.9" height="3.9" fill="#8b8b8b"/><rect x="588.4" y="677.0" width="3.9" height="3.9" fill="#aaaaaa"/><rect x="592.0" y="677.0" width="3.9" height="3.9" fill="#a4a4a4"/><rect x="559.6" y="680.6" width="3.9" height="3.9" fill="#ffffff"/><rect x="563.2" y="680.6" width="3.9" height="3.9" fill="#f7f7f7"/><rect x="566.8" y="680.6" width="3.9" height="3.9" fill="#bdbdbd"/><rect x="570.4" y="680.6" width="3.9" height="3.9" fill="#9f9f9f"/><rect x="574.0" y="680.6" width="3.9" height="3.9" fill="#797979"/><rect x="577.6" y="680.6" width="3.9" height="3.9" fill="#646464"/><rect x="581.2" y="680.6" width="3.9" height="3.9" fill="#5e5e5e"/><rect x="584.8" y="680.6" width="3.9" height="3.9" fill="#858585"/><rect x="588.4" y="680.6" width="3.9" height="3.9" fill="#9e9e9e"/><rect x="592.0" y="680.6" width="3.9" height="3.9" fill="#c7c7c7"/><rect x="595.6" y="680.6" width="3.9" height="3.9" fill="#d8d8d8"/><rect x="599.2" y="680.6" width="3.9" height="3.9" fill="#d9d9d9"/><rect x="602.8" y="680.6" width="3.9" height="3.9" fill="#bdbdbd"/><rect x="552.4" y="684.2" width="3.9" height="3.9" fill="#e6e6e6"/><rect x="556.0" y="684.2" width="3.9" height="3.9" fill="#f5f5f5"/><rect x="559.6" y="684.2" width="3.9" height="3.9" fill="#e9e9e9"/><rect x="563.2" y="684.2" width="3.9" height="3.9" fill="#b2b2b2"/><rect x="566.8" y="684.2" width="3.9" height="3.9" fill="#888888"/><rect x="570.4" y="684.2" width="3.9" height="3.9" fill="#6e6e6e"/><rect x="574.0" y="684.2" width="3.9" height="3.9" fill="#656565"/><rect x="577.6" y="684.2" width="3.9" height="3.9" fill="#595959"/><rect x="581.2" y="684.2" width="3.9" height="3.9" fill="#666666"/><rect x="584.8" y="684.2" width="3.9" height="3.9" fill="#828282"/><rect x="588.4" y="684.2" width="3.9" height="3.9" fill="#a5a5a5"/><rect x="592.0" y="684.2" width="3.9" height="3.9" fill="#aeaeae"/><rect x="595.6" y="684.2" width="3.9" height="3.9" fill="#adadad"/><rect x="599.2" y="684.2" width="3.9" height="3.9" fill="#b8b8b8"/><rect x="602.8" y="684.2" width="3.9" height="3.9" fill="#b9b9b9"/><rect x="606.4" y="684.2" width="3.9" height="3.9" fill="#acacac"/><rect x="610.0" y="684.2" width="3.9" height="3.9" fill="#a8a8a8"/><rect x="548.8" y="687.8" width="3.9" height="3.9" fill="#cecece"/><rect x="552.4" y="687.8" width="3.9" height="3.9" fill="#d9d9d9"/><rect x="556.0" y="687.8" width="3.9" height="3.9" fill="#cdcdcd"/><rect x="559.6" y="687.8" width="3.9" height="3.9" fill="#9d9d9d"/><rect x="563.2" y="687.8" width="3.9" height="3.9" fill="#8e8e8e"/><rect x="566.8" y="687.8" width="3.9" height="3.9" fill="#828282"/><rect x="570.4" y="687.8" width="3.9" height="3.9" fill="#747474"/><rect x="574.0" y="687.8" width="3.9" height="3.9" fill="#666666"/><rect x="577.6" y="687.8" width="3.9" height="3.9" fill="#6b6b6b"/><rect x="581.2" y="687.8" width="3.9" height="3.9" fill="#565656"/><rect x="584.8" y="687.8" width="3.9" height="3.9" fill="#5f5f5f"/><rect x="588.4" y="687.8" width="3.9" height="3.9" fill="#707070"/><rect x="592.0" y="687.8" width="3.9" height="3.9" fill="#858585"/><rect x="595.6" y="687.8" width="3.9" height="3.9" fill="#989898"/><rect x="599.2" y="687.8" width="3.9" height="3.9" fill="#8f8f8f"/><rect x="602.8" y="687.8" width="3.9" height="3.9" fill="#a9a9a9"/><rect x="606.4" y="687.8" width="3.9" height="3.9" fill="#969696"/><rect x="610.0" y="687.8" width="3.9" height="3.9" fill="#a8a8a8"/><rect x="613.6" y="687.8" width="3.9" height="3.9" fill="#a2a2a2"/><rect x="617.2" y="687.8" width="3.9" height="3.9" fill="#bebebe"/><rect x="541.6" y="691.4" width="3.9" height="3.9" fill="#a2a2a2"/><rect x="545.2" y="691.4" width="3.9" height="3.9" fill="#bbbbbb"/><rect x="548.8" y="691.4" width="3.9" height="3.9" fill="#acacac"/><rect x="552.4" y="691.4" width="3.9" height="3.9" fill="#9e9e9e"/><rect x="556.0" y="691.4" width="3.9" height="3.9" fill="#8b8b8b"/><rect x="559.6" y="691.4" width="3.9" height="3.9" fill="#767676"/><rect x="563.2" y="691.4" width="3.9" height="3.9" fill="#727272"/><rect x="566.8" y="691.4" width="3.9" height="3.9" fill="#828282"/><rect x="570.4" y="691.4" width="3.9" height="3.9" fill="#6a6a6a"/><rect x="574.0" y="691.4" width="3.9" height="3.9" fill="#797979"/><rect x="577.6" y="691.4" width="3.9" height="3.9" fill="#5e5e5e"/><rect x="581.2" y="691.4" width="3.9" height="3.9" fill="#545454"/><rect x="584.8" y="691.4" width="3.9" height="3.9" fill="#4e4e4e"/><rect x="588.4" y="691.4" width="3.9" height="3.9" fill="#5e5e5e"/><rect x="592.0" y="691.4" width="3.9" height="3.9" fill="#636363"/><rect x="595.6" y="691.4" width="3.9" height="3.9" fill="#585858"/><rect x="599.2" y="691.4" width="3.9" height="3.9" fill="#8e8e8e"/><rect x="602.8" y="691.4" width="3.9" height="3.9" fill="#8c8c8c"/><rect x="606.4" y="691.4" width="3.9" height="3.9" fill="#a7a7a7"/><rect x="610.0" y="691.4" width="3.9" height="3.9" fill="#acacac"/><rect x="613.6" y="691.4" width="3.9" height="3.9" fill="#aaaaaa"/><rect x="617.2" y="691.4" width="3.9" height="3.9" fill="#b7b7b7"/><rect x="620.8" y="691.4" width="3.9" height="3.9" fill="#dedede"/><rect x="624.4" y="691.4" width="3.9" height="3.9" fill="#dedede"/><rect x="534.4" y="695.0" width="3.9" height="3.9" fill="#a0a0a0"/><rect x="538.0" y="695.0" width="3.9" height="3.9" fill="#989898"/><rect x="541.6" y="695.0" width="3.9" height="3.9" fill="#939393"/><rect x="545.2" y="695.0" width="3.9" height="3.9" fill="#8e8e8e"/><rect x="548.8" y="695.0" width="3.9" height="3.9" fill="#747474"/><rect x="552.4" y="695.0" width="3.9" height="3.9" fill="#6e6e6e"/><rect x="556.0" y="695.0" width="3.9" height="3.9" fill="#606060"/><rect x="559.6" y="695.0" width="3.9" height="3.9" fill="#787878"/><rect x="563.2" y="695.0" width="3.9" height="3.9" fill="#6a6a6a"/><rect x="566.8" y="695.0" width="3.9" height="3.9" fill="#7b7b7b"/><rect x="570.4" y="695.0" width="3.9" height="3.9" fill="#686868"/><rect x="574.0" y="695.0" width="3.9" height="3.9" fill="#797979"/><rect x="577.6" y="695.0" width="3.9" height="3.9" fill="#7a7a7a"/><rect x="581.2" y="695.0" width="3.9" height="3.9" fill="#666666"/><rect x="584.8" y="695.0" width="3.9" height="3.9" fill="#575757"/><rect x="588.4" y="695.0" width="3.9" height="3.9" fill="#5c5c5c"/><rect x="592.0" y="695.0" width="3.9" height="3.9" fill="#616161"/><rect x="595.6" y="695.0" width="3.9" height="3.9" fill="#565656"/><rect x="599.2" y="695.0" width="3.9" height="3.9" fill="#626262"/><rect x="602.8" y="695.0" width="3.9" height="3.9" fill="#5a5a5a"/><rect x="606.4" y="695.0" width="3.9" height="3.9" fill="#949494"/><rect x="610.0" y="695.0" width="3.9" height="3.9" fill="#a6a6a6"/><rect x="613.6" y="695.0" width="3.9" height="3.9" fill="#aaaaaa"/><rect x="617.2" y="695.0" width="3.9" height="3.9" fill="#bfbfbf"/><rect x="620.8" y="695.0" width="3.9" height="3.9" fill="#bfbfbf"/><rect x="624.4" y="695.0" width="3.9" height="3.9" fill="#e2e2e2"/><rect x="628.0" y="695.0" width="3.9" height="3.9" fill="#d5d5d5"/><rect x="631.6" y="695.0" width="3.9" height="3.9" fill="#e1e1e1"/><rect x="635.2" y="695.0" width="3.9" height="3.9" fill="#d1d1d1"/><rect x="527.2" y="698.6" width="3.9" height="3.9" fill="#a7a7a7"/><rect x="530.8" y="698.6" width="3.9" height="3.9" fill="#a1a1a1"/><rect x="534.4" y="698.6" width="3.9" height="3.9" fill="#9a9a9a"/><rect x="538.0" y="698.6" width="3.9" height="3.9" fill="#919191"/><rect x="541.6" y="698.6" width="3.9" height="3.9" fill="#8c8c8c"/><rect x="545.2" y="698.6" width="3.9" height="3.9" fill="#747474"/><rect x="548.8" y="698.6" width="3.9" height="3.9" fill="#747474"/><rect x="552.4" y="698.6" width="3.9" height="3.9" fill="#575757"/><rect x="556.0" y="698.6" width="3.9" height="3.9" fill="#5f5f5f"/><rect x="559.6" y="698.6" width="3.9" height="3.9" fill="#6a6a6a"/><rect x="563.2" y="698.6" width="3.9" height="3.9" fill="#646464"/><rect x="566.8" y="698.6" width="3.9" height="3.9" fill="#676767"/><rect x="570.4" y="698.6" width="3.9" height="3.9" fill="#5e5e5e"/><rect x="574.0" y="698.6" width="3.9" height="3.9" fill="#636363"/><rect x="577.6" y="698.6" width="3.9" height="3.9" fill="#696969"/><rect x="581.2" y="698.6" width="3.9" height="3.9" fill="#7b7b7b"/><rect x="584.8" y="698.6" width="3.9" height="3.9" fill="#797979"/><rect x="588.4" y="698.6" width="3.9" height="3.9" fill="#656565"/><rect x="592.0" y="698.6" width="3.9" height="3.9" fill="#767676"/><rect x="595.6" y="698.6" width="3.9" height="3.9" fill="#5a5a5a"/><rect x="599.2" y="698.6" width="3.9" height="3.9" fill="#696969"/><rect x="602.8" y="698.6" width="3.9" height="3.9" fill="#737373"/><rect x="606.4" y="698.6" width="3.9" height="3.9" fill="#646464"/><rect x="610.0" y="698.6" width="3.9" height="3.9" fill="#787878"/><rect x="613.6" y="698.6" width="3.9" height="3.9" fill="#757575"/><rect x="617.2" y="698.6" width="3.9" height="3.9" fill="#6c6c6c"/><rect x="620.8" y="698.6" width="3.9" height="3.9" fill="#7e7e7e"/><rect x="624.4" y="698.6" width="3.9" height="3.9" fill="#8e8e8e"/><rect x="628.0" y="698.6" width="3.9" height="3.9" fill="#8e8e8e"/><rect x="631.6" y="698.6" width="3.9" height="3.9" fill="#9a9a9a"/><rect x="635.2" y="698.6" width="3.9" height="3.9" fill="#888888"/><rect x="638.8" y="698.6" width="3.9" height="3.9" fill="#a3a3a3"/><rect x="642.4" y="698.6" width="3.9" height="3.9" fill="#b1b1b1"/><rect x="520.0" y="702.2" width="3.9" height="3.9" fill="#dfdfdf"/><rect x="523.6" y="702.2" width="3.9" height="3.9" fill="#f4f4f4"/><rect x="527.2" y="702.2" width="3.9" height="3.9" fill="#e9e9e9"/><rect x="530.8" y="702.2" width="3.9" height="3.9" fill="#f3f3f3"/><rect x="534.4" y="702.2" width="3.9" height="3.9" fill="#9a9a9a"/><rect x="538.0" y="702.2" width="3.9" height="3.9" fill="#8b8b8b"/><rect x="541.6" y="702.2" width="3.9" height="3.9" fill="#7d7d7d"/><rect x="545.2" y="702.2" width="3.9" height="3.9" fill="#676767"/><rect x="548.8" y="702.2" width="3.9" height="3.9" fill="#6c6c6c"/><rect x="552.4" y="702.2" width="3.9" height="3.9" fill="#575757"/><rect x="556.0" y="702.2" width="3.9" height="3.9" fill="#606060"/><rect x="559.6" y="702.2" width="3.9" height="3.9" fill="#4e4e4e"/><rect x="563.2" y="702.2" width="3.9" height="3.9" fill="#595959"/><rect x="566.8" y="702.2" width="3.9" height="3.9" fill="#565656"/><rect x="570.4" y="702.2" width="3.9" height="3.9" fill="#5c5c5c"/><rect x="574.0" y="702.2" width="3.9" height="3.9" fill="#6b6b6b"/><rect x="577.6" y="702.2" width="3.9" height="3.9" fill="#646464"/><rect x="581.2" y="702.2" width="3.9" height="3.9" fill="#6a6a6a"/><rect x="584.8" y="702.2" width="3.9" height="3.9" fill="#838383"/><rect x="588.4" y="702.2" width="3.9" height="3.9" fill="#747474"/><rect x="592.0" y="702.2" width="3.9" height="3.9" fill="#818181"/><rect x="595.6" y="702.2" width="3.9" height="3.9" fill="#7f7f7f"/><rect x="599.2" y="702.2" width="3.9" height="3.9" fill="#707070"/><rect x="602.8" y="702.2" width="3.9" height="3.9" fill="#626262"/><rect x="606.4" y="702.2" width="3.9" height="3.9" fill="#5d5d5d"/><rect x="610.0" y="702.2" width="3.9" height="3.9" fill="#717171"/><rect x="613.6" y="702.2" width="3.9" height="3.9" fill="#5c5c5c"/><rect x="617.2" y="702.2" width="3.9" height="3.9" fill="#686868"/><rect x="620.8" y="702.2" width="3.9" height="3.9" fill="#6d6d6d"/><rect x="624.4" y="702.2" width="3.9" height="3.9" fill="#6e6e6e"/><rect x="628.0" y="702.2" width="3.9" height="3.9" fill="#818181"/><rect x="631.6" y="702.2" width="3.9" height="3.9" fill="#808080"/><rect x="635.2" y="702.2" width="3.9" height="3.9" fill="#9a9a9a"/><rect x="638.8" y="702.2" width="3.9" height="3.9" fill="#bdbdbd"/><rect x="642.4" y="702.2" width="3.9" height="3.9" fill="#f3f3f3"/><rect x="646.0" y="702.2" width="3.9" height="3.9" fill="#ffffff"/><rect x="649.6" y="702.2" width="3.9" height="3.9" fill="#ffffff"/><rect x="512.8" y="705.8" width="3.9" height="3.9" fill="#8b8b8b"/><rect x="516.4" y="705.8" width="3.9" height="3.9" fill="#0a0a0a"/><rect x="520.0" y="705.8" width="3.9" height="3.9" fill="#202020"/><rect x="523.6" y="705.8" width="3.9" height="3.9" fill="#131313"/><rect x="527.2" y="705.8" width="3.9" height="3.9" fill="#212121"/><rect x="530.8" y="705.8" width="3.9" height="3.9" fill="#e4e4e4"/><rect x="534.4" y="705.8" width="3.9" height="3.9" fill="#dedede"/><rect x="538.0" y="705.8" width="3.9" height="3.9" fill="#878787"/><rect x="541.6" y="705.8" width="3.9" height="3.9" fill="#787878"/><rect x="545.2" y="705.8" width="3.9" height="3.9" fill="#808080"/><rect x="548.8" y="705.8" width="3.9" height="3.9" fill="#686868"/><rect x="552.4" y="705.8" width="3.9" height="3.9" fill="#616161"/><rect x="556.0" y="705.8" width="3.9" height="3.9" fill="#525252"/><rect x="559.6" y="705.8" width="3.9" height="3.9" fill="#555555"/><rect x="563.2" y="705.8" width="3.9" height="3.9" fill="#555555"/><rect x="566.8" y="705.8" width="3.9" height="3.9" fill="#4e4e4e"/><rect x="570.4" y="705.8" width="3.9" height="3.9" fill="#626262"/><rect x="574.0" y="705.8" width="3.9" height="3.9" fill="#535353"/><rect x="577.6" y="705.8" width="3.9" height="3.9" fill="#696969"/><rect x="581.2" y="705.8" width="3.9" height="3.9" fill="#696969"/><rect x="584.8" y="705.8" width="3.9" height="3.9" fill="#7b7b7b"/><rect x="588.4" y="705.8" width="3.9" height="3.9" fill="#868686"/><rect x="592.0" y="705.8" width="3.9" height="3.9" fill="#868686"/><rect x="595.6" y="705.8" width="3.9" height="3.9" fill="#737373"/><rect x="599.2" y="705.8" width="3.9" height="3.9" fill="#747474"/><rect x="602.8" y="705.8" width="3.9" height="3.9" fill="#787878"/><rect x="606.4" y="705.8" width="3.9" height="3.9" fill="#7b7b7b"/><rect x="610.0" y="705.8" width="3.9" height="3.9" fill="#5a5a5a"/><rect x="613.6" y="705.8" width="3.9" height="3.9" fill="#656565"/><rect x="617.2" y="705.8" width="3.9" height="3.9" fill="#646464"/><rect x="620.8" y="705.8" width="3.9" height="3.9" fill="#686868"/><rect x="624.4" y="705.8" width="3.9" height="3.9" fill="#646464"/><rect x="628.0" y="705.8" width="3.9" height="3.9" fill="#797979"/><rect x="631.6" y="705.8" width="3.9" height="3.9" fill="#797979"/><rect x="635.2" y="705.8" width="3.9" height="3.9" fill="#9f9f9f"/><rect x="638.8" y="705.8" width="3.9" height="3.9" fill="#b2b2b2"/><rect x="642.4" y="705.8" width="3.9" height="3.9" fill="#ffffff"/><rect x="646.0" y="705.8" width="3.9" height="3.9" fill="#ffffff"/><rect x="649.6" y="705.8" width="3.9" height="3.9" fill="#ffffff"/><rect x="653.2" y="705.8" width="3.9" height="3.9" fill="#fcfcfc"/><rect x="656.8" y="705.8" width="3.9" height="3.9" fill="#cbcbcb"/><rect x="509.2" y="709.4" width="3.9" height="3.9" fill="#bfbfbf"/><rect x="512.8" y="709.4" width="3.9" height="3.9" fill="#121212"/><rect x="516.4" y="709.4" width="3.9" height="3.9" fill="#0b0b0b"/><rect x="520.0" y="709.4" width="3.9" height="3.9" fill="#0b0b0b"/><rect x="523.6" y="709.4" width="3.9" height="3.9" fill="#222222"/><rect x="527.2" y="709.4" width="3.9" height="3.9" fill="#2b2b2b"/><rect x="530.8" y="709.4" width="3.9" height="3.9" fill="#181818"/><rect x="534.4" y="709.4" width="3.9" height="3.9" fill="#d8d8d8"/><rect x="538.0" y="709.4" width="3.9" height="3.9" fill="#dfdfdf"/><rect x="541.6" y="709.4" width="3.9" height="3.9" fill="#818181"/><rect x="545.2" y="709.4" width="3.9" height="3.9" fill="#7d7d7d"/><rect x="548.8" y="709.4" width="3.9" height="3.9" fill="#6c6c6c"/><rect x="552.4" y="709.4" width="3.9" height="3.9" fill="#717171"/><rect x="556.0" y="709.4" width="3.9" height="3.9" fill="#707070"/><rect x="559.6" y="709.4" width="3.9" height="3.9" fill="#676767"/><rect x="563.2" y="709.4" width="3.9" height="3.9" fill="#4e4e4e"/><rect x="566.8" y="709.4" width="3.9" height="3.9" fill="#5c5c5c"/><rect x="570.4" y="709.4" width="3.9" height="3.9" fill="#525252"/><rect x="574.0" y="709.4" width="3.9" height="3.9" fill="#515151"/><rect x="577.6" y="709.4" width="3.9" height="3.9" fill="#6e6e6e"/><rect x="581.2" y="709.4" width="3.9" height="3.9" fill="#6f6f6f"/><rect x="584.8" y="709.4" width="3.9" height="3.9" fill="#7a7a7a"/><rect x="588.4" y="709.4" width="3.9" height="3.9" fill="#717171"/><rect x="592.0" y="709.4" width="3.9" height="3.9" fill="#8a8a8a"/><rect x="595.6" y="709.4" width="3.9" height="3.9" fill="#909090"/><rect x="599.2" y="709.4" width="3.9" height="3.9" fill="#8d8d8d"/><rect x="602.8" y="709.4" width="3.9" height="3.9" fill="#848484"/><rect x="606.4" y="709.4" width="3.9" height="3.9" fill="#7e7e7e"/><rect x="610.0" y="709.4" width="3.9" height="3.9" fill="#747474"/><rect x="613.6" y="709.4" width="3.9" height="3.9" fill="#656565"/><rect x="617.2" y="709.4" width="3.9" height="3.9" fill="#5a5a5a"/><rect x="620.8" y="709.4" width="3.9" height="3.9" fill="#616161"/><rect x="624.4" y="709.4" width="3.9" height="3.9" fill="#646464"/><rect x="628.0" y="709.4" width="3.9" height="3.9" fill="#6e6e6e"/><rect x="631.6" y="709.4" width="3.9" height="3.9" fill="#6a6a6a"/><rect x="635.2" y="709.4" width="3.9" height="3.9" fill="#909090"/><rect x="638.8" y="709.4" width="3.9" height="3.9" fill="#a0a0a0"/><rect x="642.4" y="709.4" width="3.9" height="3.9" fill="#d5d5d5"/><rect x="646.0" y="709.4" width="3.9" height="3.9" fill="#d2d2d2"/><rect x="649.6" y="709.4" width="3.9" height="3.9" fill="#e3e3e3"/><rect x="653.2" y="709.4" width="3.9" height="3.9" fill="#c4c4c4"/><rect x="656.8" y="709.4" width="3.9" height="3.9" fill="#a0a0a0"/><rect x="660.4" y="709.4" width="3.9" height="3.9" fill="#b8b8b8"/><rect x="505.6" y="713.0" width="3.9" height="3.9" fill="#dadada"/><rect x="509.2" y="713.0" width="3.9" height="3.9" fill="#bebebe"/><rect x="512.8" y="713.0" width="3.9" height="3.9" fill="#101010"/><rect x="516.4" y="713.0" width="3.9" height="3.9" fill="#242424"/><rect x="520.0" y="713.0" width="3.9" height="3.9" fill="#222222"/><rect x="523.6" y="713.0" width="3.9" height="3.9" fill="#1e1e1e"/><rect x="527.2" y="713.0" width="3.9" height="3.9" fill="#232323"/><rect x="530.8" y="713.0" width="3.9" height="3.9" fill="#2a2a2a"/><rect x="534.4" y="713.0" width="3.9" height="3.9" fill="#c1c1c1"/><rect x="538.0" y="713.0" width="3.9" height="3.9" fill="#bbbbbb"/><rect x="541.6" y="713.0" width="3.9" height="3.9" fill="#737373"/><rect x="545.2" y="713.0" width="3.9" height="3.9" fill="#7b7b7b"/><rect x="548.8" y="713.0" width="3.9" height="3.9" fill="#6d6d6d"/><rect x="552.4" y="713.0" width="3.9" height="3.9" fill="#737373"/><rect x="556.0" y="713.0" width="3.9" height="3.9" fill="#777777"/><rect x="559.6" y="713.0" width="3.9" height="3.9" fill="#717171"/><rect x="563.2" y="713.0" width="3.9" height="3.9" fill="#565656"/><rect x="566.8" y="713.0" width="3.9" height="3.9" fill="#606060"/><rect x="570.4" y="713.0" width="3.9" height="3.9" fill="#505050"/><rect x="574.0" y="713.0" width="3.9" height="3.9" fill="#535353"/><rect x="577.6" y="713.0" width="3.9" height="3.9" fill="#696969"/><rect x="581.2" y="713.0" width="3.9" height="3.9" fill="#636363"/><rect x="584.8" y="713.0" width="3.9" height="3.9" fill="#6f6f6f"/><rect x="588.4" y="713.0" width="3.9" height="3.9" fill="#737373"/><rect x="592.0" y="713.0" width="3.9" height="3.9" fill="#767676"/><rect x="595.6" y="713.0" width="3.9" height="3.9" fill="#777777"/><rect x="599.2" y="713.0" width="3.9" height="3.9" fill="#7d7d7d"/><rect x="602.8" y="713.0" width="3.9" height="3.9" fill="#888888"/><rect x="606.4" y="713.0" width="3.9" height="3.9" fill="#7d7d7d"/><rect x="610.0" y="713.0" width="3.9" height="3.9" fill="#6c6c6c"/><rect x="613.6" y="713.0" width="3.9" height="3.9" fill="#5d5d5d"/><rect x="617.2" y="713.0" width="3.9" height="3.9" fill="#595959"/><rect x="620.8" y="713.0" width="3.9" height="3.9" fill="#5f5f5f"/><rect x="624.4" y="713.0" width="3.9" height="3.9" fill="#595959"/><rect x="628.0" y="713.0" width="3.9" height="3.9" fill="#676767"/><rect x="631.6" y="713.0" width="3.9" height="3.9" fill="#7a7a7a"/><rect x="635.2" y="713.0" width="3.9" height="3.9" fill="#7a7a7a"/><rect x="638.8" y="713.0" width="3.9" height="3.9" fill="#9b9b9b"/><rect x="642.4" y="713.0" width="3.9" height="3.9" fill="#959595"/><rect x="646.0" y="713.0" width="3.9" height="3.9" fill="#b0b0b0"/><rect x="649.6" y="713.0" width="3.9" height="3.9" fill="#a0a0a0"/><rect x="653.2" y="713.0" width="3.9" height="3.9" fill="#a6a6a6"/><rect x="656.8" y="713.0" width="3.9" height="3.9" fill="#d3d3d3"/><rect x="660.4" y="713.0" width="3.9" height="3.9" fill="#f5f5f5"/><rect x="664.0" y="713.0" width="3.9" height="3.9" fill="#ffffff"/><rect x="667.6" y="713.0" width="3.9" height="3.9" fill="#ffffff"/><rect x="502.0" y="716.6" width="3.9" height="3.9" fill="#fbfbfb"/><rect x="505.6" y="716.6" width="3.9" height="3.9" fill="#ececec"/><rect x="509.2" y="716.6" width="3.9" height="3.9" fill="#aaaaaa"/><rect x="512.8" y="716.6" width="3.9" height="3.9" fill="#8a8a8a"/><rect x="516.4" y="716.6" width="3.9" height="3.9" fill="#878787"/><rect x="520.0" y="716.6" width="3.9" height="3.9" fill="#262626"/><rect x="523.6" y="716.6" width="3.9" height="3.9" fill="#bfbfbf"/><rect x="527.2" y="716.6" width="3.9" height="3.9" fill="#cacaca"/><rect x="530.8" y="716.6" width="3.9" height="3.9" fill="#b2b2b2"/><rect x="534.4" y="716.6" width="3.9" height="3.9" fill="#bababa"/><rect x="538.0" y="716.6" width="3.9" height="3.9" fill="#515151"/><rect x="541.6" y="716.6" width="3.9" height="3.9" fill="#585858"/><rect x="545.2" y="716.6" width="3.9" height="3.9" fill="#727272"/><rect x="548.8" y="716.6" width="3.9" height="3.9" fill="#686868"/><rect x="552.4" y="716.6" width="3.9" height="3.9" fill="#767676"/><rect x="556.0" y="716.6" width="3.9" height="3.9" fill="#696969"/><rect x="559.6" y="716.6" width="3.9" height="3.9" fill="#6c6c6c"/><rect x="563.2" y="716.6" width="3.9" height="3.9" fill="#646464"/><rect x="566.8" y="716.6" width="3.9" height="3.9" fill="#6f6f6f"/><rect x="570.4" y="716.6" width="3.9" height="3.9" fill="#747474"/><rect x="574.0" y="716.6" width="3.9" height="3.9" fill="#686868"/><rect x="577.6" y="716.6" width="3.9" height="3.9" fill="#626262"/><rect x="581.2" y="716.6" width="3.9" height="3.9" fill="#727272"/><rect x="584.8" y="716.6" width="3.9" height="3.9" fill="#737373"/><rect x="588.4" y="716.6" width="3.9" height="3.9" fill="#707070"/><rect x="592.0" y="716.6" width="3.9" height="3.9" fill="#646464"/><rect x="595.6" y="716.6" width="3.9" height="3.9" fill="#787878"/><rect x="599.2" y="716.6" width="3.9" height="3.9" fill="#767676"/><rect x="602.8" y="716.6" width="3.9" height="3.9" fill="#868686"/><rect x="606.4" y="716.6" width="3.9" height="3.9" fill="#747474"/><rect x="610.0" y="716.6" width="3.9" height="3.9" fill="#797979"/><rect x="613.6" y="716.6" width="3.9" height="3.9" fill="#727272"/><rect x="617.2" y="716.6" width="3.9" height="3.9" fill="#646464"/><rect x="620.8" y="716.6" width="3.9" height="3.9" fill="#626262"/><rect x="624.4" y="716.6" width="3.9" height="3.9" fill="#686868"/><rect x="628.0" y="716.6" width="3.9" height="3.9" fill="#767676"/><rect x="631.6" y="716.6" width="3.9" height="3.9" fill="#757575"/><rect x="635.2" y="716.6" width="3.9" height="3.9" fill="#7a7a7a"/><rect x="638.8" y="716.6" width="3.9" height="3.9" fill="#939393"/><rect x="642.4" y="716.6" width="3.9" height="3.9" fill="#7f7f7f"/><rect x="646.0" y="716.6" width="3.9" height="3.9" fill="#9e9e9e"/><rect x="649.6" y="716.6" width="3.9" height="3.9" fill="#aaaaaa"/><rect x="653.2" y="716.6" width="3.9" height="3.9" fill="#c2c2c2"/><rect x="656.8" y="716.6" width="3.9" height="3.9" fill="#ececec"/><rect x="660.4" y="716.6" width="3.9" height="3.9" fill="#ffffff"/><rect x="664.0" y="716.6" width="3.9" height="3.9" fill="#ffffff"/><rect x="667.6" y="716.6" width="3.9" height="3.9" fill="#ffffff"/><rect x="671.2" y="716.6" width="3.9" height="3.9" fill="#ffffff"/><rect x="502.0" y="720.2" width="3.9" height="3.9" fill="#d8d8d8"/><rect x="505.6" y="720.2" width="3.9" height="3.9" fill="#a9a9a9"/><rect x="509.2" y="720.2" width="3.9" height="3.9" fill="#848484"/><rect x="512.8" y="720.2" width="3.9" height="3.9" fill="#919191"/><rect x="516.4" y="720.2" width="3.9" height="3.9" fill="#8d8d8d"/><rect x="520.0" y="720.2" width="3.9" height="3.9" fill="#cccccc"/><rect x="523.6" y="720.2" width="3.9" height="3.9" fill="#d1d1d1"/><rect x="527.2" y="720.2" width="3.9" height="3.9" fill="#6e6e6e"/><rect x="530.8" y="720.2" width="3.9" height="3.9" fill="#565656"/><rect x="534.4" y="720.2" width="3.9" height="3.9" fill="#595959"/><rect x="538.0" y="720.2" width="3.9" height="3.9" fill="#5f5f5f"/><rect x="541.6" y="720.2" width="3.9" height="3.9" fill="#5b5b5b"/><rect x="545.2" y="720.2" width="3.9" height="3.9" fill="#545454"/><rect x="548.8" y="720.2" width="3.9" height="3.9" fill="#666666"/><rect x="552.4" y="720.2" width="3.9" height="3.9" fill="#606060"/><rect x="556.0" y="720.2" width="3.9" height="3.9" fill="#6e6e6e"/><rect x="559.6" y="720.2" width="3.9" height="3.9" fill="#717171"/><rect x="563.2" y="720.2" width="3.9" height="3.9" fill="#848484"/><rect x="566.8" y="720.2" width="3.9" height="3.9" fill="#7d7d7d"/><rect x="570.4" y="720.2" width="3.9" height="3.9" fill="#808080"/><rect x="574.0" y="720.2" width="3.9" height="3.9" fill="#797979"/><rect x="577.6" y="720.2" width="3.9" height="3.9" fill="#6d6d6d"/><rect x="581.2" y="720.2" width="3.9" height="3.9" fill="#797979"/><rect x="584.8" y="720.2" width="3.9" height="3.9" fill="#6e6e6e"/><rect x="588.4" y="720.2" width="3.9" height="3.9" fill="#6c6c6c"/><rect x="592.0" y="720.2" width="3.9" height="3.9" fill="#606060"/><rect x="595.6" y="720.2" width="3.9" height="3.9" fill="#5e5e5e"/><rect x="599.2" y="720.2" width="3.9" height="3.9" fill="#6d6d6d"/><rect x="602.8" y="720.2" width="3.9" height="3.9" fill="#777777"/><rect x="606.4" y="720.2" width="3.9" height="3.9" fill="#787878"/><rect x="610.0" y="720.2" width="3.9" height="3.9" fill="#868686"/><rect x="613.6" y="720.2" width="3.9" height="3.9" fill="#7f7f7f"/><rect x="617.2" y="720.2" width="3.9" height="3.9" fill="#6e6e6e"/><rect x="620.8" y="720.2" width="3.9" height="3.9" fill="#767676"/><rect x="624.4" y="720.2" width="3.9" height="3.9" fill="#676767"/><rect x="628.0" y="720.2" width="3.9" height="3.9" fill="#7b7b7b"/><rect x="631.6" y="720.2" width="3.9" height="3.9" fill="#6e6e6e"/><rect x="635.2" y="720.2" width="3.9" height="3.9" fill="#727272"/><rect x="638.8" y="720.2" width="3.9" height="3.9" fill="#6d6d6d"/><rect x="642.4" y="720.2" width="3.9" height="3.9" fill="#7e7e7e"/><rect x="646.0" y="720.2" width="3.9" height="3.9" fill="#939393"/><rect x="649.6" y="720.2" width="3.9" height="3.9" fill="#cacaca"/><rect x="653.2" y="720.2" width="3.9" height="3.9" fill="#ffffff"/><rect x="656.8" y="720.2" width="3.9" height="3.9" fill="#ffffff"/><rect x="660.4" y="720.2" width="3.9" height="3.9" fill="#ffffff"/><rect x="664.0" y="720.2" width="3.9" height="3.9" fill="#ffffff"/><rect x="667.6" y="720.2" width="3.9" height="3.9" fill="#ffffff"/><rect x="671.2" y="720.2" width="3.9" height="3.9" fill="#e0e0e0"/><rect x="502.0" y="723.8" width="3.9" height="3.9" fill="#ababab"/><rect x="505.6" y="723.8" width="3.9" height="3.9" fill="#7b7b7b"/><rect x="509.2" y="723.8" width="3.9" height="3.9" fill="#767676"/><rect x="512.8" y="723.8" width="3.9" height="3.9" fill="#7d7d7d"/><rect x="516.4" y="723.8" width="3.9" height="3.9" fill="#7e7e7e"/><rect x="520.0" y="723.8" width="3.9" height="3.9" fill="#8c8c8c"/><rect x="523.6" y="723.8" width="3.9" height="3.9" fill="#737373"/><rect x="527.2" y="723.8" width="3.9" height="3.9" fill="#696969"/><rect x="530.8" y="723.8" width="3.9" height="3.9" fill="#747474"/><rect x="534.4" y="723.8" width="3.9" height="3.9" fill="#5e5e5e"/><rect x="538.0" y="723.8" width="3.9" height="3.9" fill="#626262"/><rect x="541.6" y="723.8" width="3.9" height="3.9" fill="#585858"/><rect x="545.2" y="723.8" width="3.9" height="3.9" fill="#5c5c5c"/><rect x="548.8" y="723.8" width="3.9" height="3.9" fill="#525252"/><rect x="552.4" y="723.8" width="3.9" height="3.9" fill="#545454"/><rect x="556.0" y="723.8" width="3.9" height="3.9" fill="#6e6e6e"/><rect x="559.6" y="723.8" width="3.9" height="3.9" fill="#6f6f6f"/><rect x="563.2" y="723.8" width="3.9" height="3.9" fill="#7a7a7a"/><rect x="566.8" y="723.8" width="3.9" height="3.9" fill="#828282"/><rect x="570.4" y="723.8" width="3.9" height="3.9" fill="#878787"/><rect x="574.0" y="723.8" width="3.9" height="3.9" fill="#797979"/><rect x="577.6" y="723.8" width="3.9" height="3.9" fill="#787878"/><rect x="581.2" y="723.8" width="3.9" height="3.9" fill="#818181"/><rect x="584.8" y="723.8" width="3.9" height="3.9" fill="#6f6f6f"/><rect x="588.4" y="723.8" width="3.9" height="3.9" fill="#616161"/><rect x="592.0" y="723.8" width="3.9" height="3.9" fill="#656565"/><rect x="595.6" y="723.8" width="3.9" height="3.9" fill="#585858"/><rect x="599.2" y="723.8" width="3.9" height="3.9" fill="#666666"/><rect x="602.8" y="723.8" width="3.9" height="3.9" fill="#6c6c6c"/><rect x="606.4" y="723.8" width="3.9" height="3.9" fill="#868686"/><rect x="610.0" y="723.8" width="3.9" height="3.9" fill="#838383"/><rect x="613.6" y="723.8" width="3.9" height="3.9" fill="#828282"/><rect x="617.2" y="723.8" width="3.9" height="3.9" fill="#959595"/><rect x="620.8" y="723.8" width="3.9" height="3.9" fill="#6c6c6c"/><rect x="624.4" y="723.8" width="3.9" height="3.9" fill="#737373"/><rect x="628.0" y="723.8" width="3.9" height="3.9" fill="#717171"/><rect x="631.6" y="723.8" width="3.9" height="3.9" fill="#7d7d7d"/><rect x="635.2" y="723.8" width="3.9" height="3.9" fill="#848484"/><rect x="638.8" y="723.8" width="3.9" height="3.9" fill="#888888"/><rect x="642.4" y="723.8" width="3.9" height="3.9" fill="#989898"/><rect x="646.0" y="723.8" width="3.9" height="3.9" fill="#cecece"/><rect x="649.6" y="723.8" width="3.9" height="3.9" fill="#f4f4f4"/><rect x="653.2" y="723.8" width="3.9" height="3.9" fill="#ffffff"/><rect x="656.8" y="723.8" width="3.9" height="3.9" fill="#ffffff"/><rect x="660.4" y="723.8" width="3.9" height="3.9" fill="#ffffff"/><rect x="664.0" y="723.8" width="3.9" height="3.9" fill="#ffffff"/><rect x="502.0" y="727.4" width="3.9" height="3.9" fill="#7c7c7c"/><rect x="505.6" y="727.4" width="3.9" height="3.9" fill="#747474"/><rect x="509.2" y="727.4" width="3.9" height="3.9" fill="#6f6f6f"/><rect x="512.8" y="727.4" width="3.9" height="3.9" fill="#858585"/><rect x="516.4" y="727.4" width="3.9" height="3.9" fill="#828282"/><rect x="520.0" y="727.4" width="3.9" height="3.9" fill="#767676"/><rect x="523.6" y="727.4" width="3.9" height="3.9" fill="#767676"/><rect x="527.2" y="727.4" width="3.9" height="3.9" fill="#7d7d7d"/><rect x="530.8" y="727.4" width="3.9" height="3.9" fill="#6a6a6a"/><rect x="534.4" y="727.4" width="3.9" height="3.9" fill="#5e5e5e"/><rect x="538.0" y="727.4" width="3.9" height="3.9" fill="#6a6a6a"/><rect x="541.6" y="727.4" width="3.9" height="3.9" fill="#5a5a5a"/><rect x="545.2" y="727.4" width="3.9" height="3.9" fill="#575757"/><rect x="548.8" y="727.4" width="3.9" height="3.9" fill="#5b5b5b"/><rect x="552.4" y="727.4" width="3.9" height="3.9" fill="#666666"/><rect x="556.0" y="727.4" width="3.9" height="3.9" fill="#575757"/><rect x="559.6" y="727.4" width="3.9" height="3.9" fill="#656565"/><rect x="563.2" y="727.4" width="3.9" height="3.9" fill="#676767"/><rect x="566.8" y="727.4" width="3.9" height="3.9" fill="#797979"/><rect x="570.4" y="727.4" width="3.9" height="3.9" fill="#818181"/><rect x="574.0" y="727.4" width="3.9" height="3.9" fill="#8d8d8d"/><rect x="577.6" y="727.4" width="3.9" height="3.9" fill="#878787"/><rect x="581.2" y="727.4" width="3.9" height="3.9" fill="#7f7f7f"/><rect x="584.8" y="727.4" width="3.9" height="3.9" fill="#727272"/><rect x="588.4" y="727.4" width="3.9" height="3.9" fill="#6e6e6e"/><rect x="592.0" y="727.4" width="3.9" height="3.9" fill="#5d5d5d"/><rect x="595.6" y="727.4" width="3.9" height="3.9" fill="#656565"/><rect x="599.2" y="727.4" width="3.9" height="3.9" fill="#5f5f5f"/><rect x="602.8" y="727.4" width="3.9" height="3.9" fill="#797979"/><rect x="606.4" y="727.4" width="3.9" height="3.9" fill="#686868"/><rect x="610.0" y="727.4" width="3.9" height="3.9" fill="#7c7c7c"/><rect x="613.6" y="727.4" width="3.9" height="3.9" fill="#858585"/><rect x="617.2" y="727.4" width="3.9" height="3.9" fill="#868686"/><rect x="620.8" y="727.4" width="3.9" height="3.9" fill="#989898"/><rect x="624.4" y="727.4" width="3.9" height="3.9" fill="#898989"/><rect x="628.0" y="727.4" width="3.9" height="3.9" fill="#8b8b8b"/><rect x="631.6" y="727.4" width="3.9" height="3.9" fill="#929292"/><rect x="635.2" y="727.4" width="3.9" height="3.9" fill="#9a9a9a"/><rect x="638.8" y="727.4" width="3.9" height="3.9" fill="#bdbdbd"/><rect x="642.4" y="727.4" width="3.9" height="3.9" fill="#d6d6d6"/><rect x="646.0" y="727.4" width="3.9" height="3.9" fill="#ffffff"/><rect x="649.6" y="727.4" width="3.9" height="3.9" fill="#ffffff"/><rect x="653.2" y="727.4" width="3.9" height="3.9" fill="#ffffff"/><rect x="656.8" y="727.4" width="3.9" height="3.9" fill="#ffffff"/><rect x="502.0" y="731.0" width="3.9" height="3.9" fill="#5d5d5d"/><rect x="505.6" y="731.0" width="3.9" height="3.9" fill="#767676"/><rect x="509.2" y="731.0" width="3.9" height="3.9" fill="#898989"/><rect x="512.8" y="731.0" width="3.9" height="3.9" fill="#7f7f7f"/><rect x="516.4" y="731.0" width="3.9" height="3.9" fill="#7c7c7c"/><rect x="520.0" y="731.0" width="3.9" height="3.9" fill="#767676"/><rect x="523.6" y="731.0" width="3.9" height="3.9" fill="#6d6d6d"/><rect x="527.2" y="731.0" width="3.9" height="3.9" fill="#787878"/><rect x="530.8" y="731.0" width="3.9" height="3.9" fill="#7e7e7e"/><rect x="534.4" y="731.0" width="3.9" height="3.9" fill="#767676"/><rect x="538.0" y="731.0" width="3.9" height="3.9" fill="#656565"/><rect x="541.6" y="731.0" width="3.9" height="3.9" fill="#6a6a6a"/><rect x="545.2" y="731.0" width="3.9" height="3.9" fill="#545454"/><rect x="548.8" y="731.0" width="3.9" height="3.9" fill="#676767"/><rect x="552.4" y="731.0" width="3.9" height="3.9" fill="#595959"/><rect x="556.0" y="731.0" width="3.9" height="3.9" fill="#525252"/><rect x="559.6" y="731.0" width="3.9" height="3.9" fill="#696969"/><rect x="563.2" y="731.0" width="3.9" height="3.9" fill="#626262"/><rect x="566.8" y="731.0" width="3.9" height="3.9" fill="#6d6d6d"/><rect x="570.4" y="731.0" width="3.9" height="3.9" fill="#6e6e6e"/><rect x="574.0" y="731.0" width="3.9" height="3.9" fill="#7e7e7e"/><rect x="577.6" y="731.0" width="3.9" height="3.9" fill="#828282"/><rect x="581.2" y="731.0" width="3.9" height="3.9" fill="#878787"/><rect x="584.8" y="731.0" width="3.9" height="3.9" fill="#6d6d6d"/><rect x="588.4" y="731.0" width="3.9" height="3.9" fill="#7b7b7b"/><rect x="592.0" y="731.0" width="3.9" height="3.9" fill="#5e5e5e"/><rect x="595.6" y="731.0" width="3.9" height="3.9" fill="#585858"/><rect x="599.2" y="731.0" width="3.9" height="3.9" fill="#5c5c5c"/><rect x="602.8" y="731.0" width="3.9" height="3.9" fill="#696969"/><rect x="606.4" y="731.0" width="3.9" height="3.9" fill="#686868"/><rect x="610.0" y="731.0" width="3.9" height="3.9" fill="#727272"/><rect x="613.6" y="731.0" width="3.9" height="3.9" fill="#6f6f6f"/><rect x="617.2" y="731.0" width="3.9" height="3.9" fill="#878787"/><rect x="620.8" y="731.0" width="3.9" height="3.9" fill="#818181"/><rect x="624.4" y="731.0" width="3.9" height="3.9" fill="#878787"/><rect x="628.0" y="731.0" width="3.9" height="3.9" fill="#959595"/><rect x="631.6" y="731.0" width="3.9" height="3.9" fill="#a7a7a7"/><rect x="635.2" y="731.0" width="3.9" height="3.9" fill="#c0c0c0"/><rect x="638.8" y="731.0" width="3.9" height="3.9" fill="#ffffff"/><rect x="642.4" y="731.0" width="3.9" height="3.9" fill="#ffffff"/><rect x="646.0" y="731.0" width="3.9" height="3.9" fill="#ffffff"/><rect x="649.6" y="731.0" width="3.9" height="3.9" fill="#ffffff"/><rect x="505.6" y="734.6" width="3.9" height="3.9" fill="#969696"/><rect x="509.2" y="734.6" width="3.9" height="3.9" fill="#b0b0b0"/><rect x="512.8" y="734.6" width="3.9" height="3.9" fill="#acacac"/><rect x="516.4" y="734.6" width="3.9" height="3.9" fill="#949494"/><rect x="520.0" y="734.6" width="3.9" height="3.9" fill="#7c7c7c"/><rect x="523.6" y="734.6" width="3.9" height="3.9" fill="#747474"/><rect x="527.2" y="734.6" width="3.9" height="3.9" fill="#717171"/><rect x="530.8" y="734.6" width="3.9" height="3.9" fill="#676767"/><rect x="534.4" y="734.6" width="3.9" height="3.9" fill="#7a7a7a"/><rect x="538.0" y="734.6" width="3.9" height="3.9" fill="#7e7e7e"/><rect x="541.6" y="734.6" width="3.9" height="3.9" fill="#787878"/><rect x="545.2" y="734.6" width="3.9" height="3.9" fill="#7a7a7a"/><rect x="548.8" y="734.6" width="3.9" height="3.9" fill="#666666"/><rect x="552.4" y="734.6" width="3.9" height="3.9" fill="#757575"/><rect x="556.0" y="734.6" width="3.9" height="3.9" fill="#5a5a5a"/><rect x="559.6" y="734.6" width="3.9" height="3.9" fill="#656565"/><rect x="563.2" y="734.6" width="3.9" height="3.9" fill="#5e5e5e"/><rect x="566.8" y="734.6" width="3.9" height="3.9" fill="#6a6a6a"/><rect x="570.4" y="734.6" width="3.9" height="3.9" fill="#757575"/><rect x="574.0" y="734.6" width="3.9" height="3.9" fill="#7a7a7a"/><rect x="577.6" y="734.6" width="3.9" height="3.9" fill="#767676"/><rect x="581.2" y="734.6" width="3.9" height="3.9" fill="#757575"/><rect x="584.8" y="734.6" width="3.9" height="3.9" fill="#6f6f6f"/><rect x="588.4" y="734.6" width="3.9" height="3.9" fill="#727272"/><rect x="592.0" y="734.6" width="3.9" height="3.9" fill="#686868"/><rect x="595.6" y="734.6" width="3.9" height="3.9" fill="#5f5f5f"/><rect x="599.2" y="734.6" width="3.9" height="3.9" fill="#676767"/><rect x="602.8" y="734.6" width="3.9" height="3.9" fill="#747474"/><rect x="606.4" y="734.6" width="3.9" height="3.9" fill="#6e6e6e"/><rect x="610.0" y="734.6" width="3.9" height="3.9" fill="#686868"/><rect x="613.6" y="734.6" width="3.9" height="3.9" fill="#797979"/><rect x="617.2" y="734.6" width="3.9" height="3.9" fill="#727272"/><rect x="620.8" y="734.6" width="3.9" height="3.9" fill="#7d7d7d"/><rect x="624.4" y="734.6" width="3.9" height="3.9" fill="#838383"/><rect x="628.0" y="734.6" width="3.9" height="3.9" fill="#aaaaaa"/><rect x="631.6" y="734.6" width="3.9" height="3.9" fill="#e3e3e3"/><rect x="635.2" y="734.6" width="3.9" height="3.9" fill="#ffffff"/><rect x="638.8" y="734.6" width="3.9" height="3.9" fill="#ffffff"/><rect x="642.4" y="734.6" width="3.9" height="3.9" fill="#ffffff"/><rect x="516.4" y="738.2" width="3.9" height="3.9" fill="#8c8c8c"/><rect x="520.0" y="738.2" width="3.9" height="3.9" fill="#757575"/><rect x="523.6" y="738.2" width="3.9" height="3.9" fill="#565656"/><rect x="527.2" y="738.2" width="3.9" height="3.9" fill="#585858"/><rect x="530.8" y="738.2" width="3.9" height="3.9" fill="#585858"/><rect x="534.4" y="738.2" width="3.9" height="3.9" fill="#797979"/><rect x="538.0" y="738.2" width="3.9" height="3.9" fill="#7d7d7d"/><rect x="541.6" y="738.2" width="3.9" height="3.9" fill="#7f7f7f"/><rect x="545.2" y="738.2" width="3.9" height="3.9" fill="#727272"/><rect x="548.8" y="738.2" width="3.9" height="3.9" fill="#747474"/><rect x="552.4" y="738.2" width="3.9" height="3.9" fill="#6b6b6b"/><rect x="556.0" y="738.2" width="3.9" height="3.9" fill="#747474"/><rect x="559.6" y="738.2" width="3.9" height="3.9" fill="#7a7a7a"/><rect x="563.2" y="738.2" width="3.9" height="3.9" fill="#636363"/><rect x="566.8" y="738.2" width="3.9" height="3.9" fill="#5a5a5a"/><rect x="570.4" y="738.2" width="3.9" height="3.9" fill="#5d5d5d"/><rect x="574.0" y="738.2" width="3.9" height="3.9" fill="#646464"/><rect x="577.6" y="738.2" width="3.9" height="3.9" fill="#757575"/><rect x="581.2" y="738.2" width="3.9" height="3.9" fill="#767676"/><rect x="584.8" y="738.2" width="3.9" height="3.9" fill="#6e6e6e"/><rect x="588.4" y="738.2" width="3.9" height="3.9" fill="#666666"/><rect x="592.0" y="738.2" width="3.9" height="3.9" fill="#656565"/><rect x="595.6" y="738.2" width="3.9" height="3.9" fill="#646464"/><rect x="599.2" y="738.2" width="3.9" height="3.9" fill="#727272"/><rect x="602.8" y="738.2" width="3.9" height="3.9" fill="#7e7e7e"/><rect x="606.4" y="738.2" width="3.9" height="3.9" fill="#888888"/><rect x="610.0" y="738.2" width="3.9" height="3.9" fill="#848484"/><rect x="613.6" y="738.2" width="3.9" height="3.9" fill="#808080"/><rect x="617.2" y="738.2" width="3.9" height="3.9" fill="#7b7b7b"/><rect x="620.8" y="738.2" width="3.9" height="3.9" fill="#939393"/><rect x="624.4" y="738.2" width="3.9" height="3.9" fill="#8c8c8c"/><rect x="628.0" y="738.2" width="3.9" height="3.9" fill="#bdbdbd"/><rect x="631.6" y="738.2" width="3.9" height="3.9" fill="#f8f8f8"/><rect x="635.2" y="738.2" width="3.9" height="3.9" fill="#ffffff"/><rect x="523.6" y="741.8" width="3.9" height="3.9" fill="#4c4c4c"/><rect x="527.2" y="741.8" width="3.9" height="3.9" fill="#525252"/><rect x="530.8" y="741.8" width="3.9" height="3.9" fill="#585858"/><rect x="534.4" y="741.8" width="3.9" height="3.9" fill="#818181"/><rect x="538.0" y="741.8" width="3.9" height="3.9" fill="#8c8c8c"/><rect x="541.6" y="741.8" width="3.9" height="3.9" fill="#a0a0a0"/><rect x="545.2" y="741.8" width="3.9" height="3.9" fill="#a5a5a5"/><rect x="548.8" y="741.8" width="3.9" height="3.9" fill="#8e8e8e"/><rect x="552.4" y="741.8" width="3.9" height="3.9" fill="#888888"/><rect x="556.0" y="741.8" width="3.9" height="3.9" fill="#787878"/><rect x="559.6" y="741.8" width="3.9" height="3.9" fill="#7e7e7e"/><rect x="563.2" y="741.8" width="3.9" height="3.9" fill="#787878"/><rect x="566.8" y="741.8" width="3.9" height="3.9" fill="#5d5d5d"/><rect x="570.4" y="741.8" width="3.9" height="3.9" fill="#545454"/><rect x="574.0" y="741.8" width="3.9" height="3.9" fill="#565656"/><rect x="577.6" y="741.8" width="3.9" height="3.9" fill="#616161"/><rect x="581.2" y="741.8" width="3.9" height="3.9" fill="#5f5f5f"/><rect x="584.8" y="741.8" width="3.9" height="3.9" fill="#5a5a5a"/><rect x="588.4" y="741.8" width="3.9" height="3.9" fill="#767676"/><rect x="592.0" y="741.8" width="3.9" height="3.9" fill="#797979"/><rect x="595.6" y="741.8" width="3.9" height="3.9" fill="#727272"/><rect x="599.2" y="741.8" width="3.9" height="3.9" fill="#666666"/><rect x="602.8" y="741.8" width="3.9" height="3.9" fill="#7c7c7c"/><rect x="606.4" y="741.8" width="3.9" height="3.9" fill="#898989"/><rect x="610.0" y="741.8" width="3.9" height="3.9" fill="#7a7a7a"/><rect x="613.6" y="741.8" width="3.9" height="3.9" fill="#808080"/><rect x="617.2" y="741.8" width="3.9" height="3.9" fill="#777777"/><rect x="620.8" y="741.8" width="3.9" height="3.9" fill="#949494"/><rect x="624.4" y="741.8" width="3.9" height="3.9" fill="#b0b0b0"/><rect x="628.0" y="741.8" width="3.9" height="3.9" fill="#cecece"/><rect x="534.4" y="745.4" width="3.9" height="3.9" fill="#7a7a7a"/><rect x="538.0" y="745.4" width="3.9" height="3.9" fill="#919191"/><rect x="541.6" y="745.4" width="3.9" height="3.9" fill="#b0b0b0"/><rect x="545.2" y="745.4" width="3.9" height="3.9" fill="#a3a3a3"/><rect x="548.8" y="745.4" width="3.9" height="3.9" fill="#929292"/><rect x="552.4" y="745.4" width="3.9" height="3.9" fill="#929292"/><rect x="556.0" y="745.4" width="3.9" height="3.9" fill="#7a7a7a"/><rect x="559.6" y="745.4" width="3.9" height="3.9" fill="#757575"/><rect x="563.2" y="745.4" width="3.9" height="3.9" fill="#787878"/><rect x="566.8" y="745.4" width="3.9" height="3.9" fill="#7f7f7f"/><rect x="570.4" y="745.4" width="3.9" height="3.9" fill="#888888"/><rect x="574.0" y="745.4" width="3.9" height="3.9" fill="#939393"/><rect x="577.6" y="745.4" width="3.9" height="3.9" fill="#909090"/><rect x="581.2" y="745.4" width="3.9" height="3.9" fill="#848484"/><rect x="584.8" y="745.4" width="3.9" height="3.9" fill="#8e8e8e"/><rect x="588.4" y="745.4" width="3.9" height="3.9" fill="#707070"/><rect x="592.0" y="745.4" width="3.9" height="3.9" fill="#737373"/><rect x="595.6" y="745.4" width="3.9" height="3.9" fill="#6e6e6e"/><rect x="599.2" y="745.4" width="3.9" height="3.9" fill="#787878"/><rect x="602.8" y="745.4" width="3.9" height="3.9" fill="#7e7e7e"/><rect x="606.4" y="745.4" width="3.9" height="3.9" fill="#767676"/><rect x="610.0" y="745.4" width="3.9" height="3.9" fill="#868686"/><rect x="613.6" y="745.4" width="3.9" height="3.9" fill="#8a8a8a"/><rect x="617.2" y="745.4" width="3.9" height="3.9" fill="#919191"/><rect x="620.8" y="745.4" width="3.9" height="3.9" fill="#979797"/><rect x="541.6" y="749.0" width="3.9" height="3.9" fill="#9f9f9f"/><rect x="545.2" y="749.0" width="3.9" height="3.9" fill="#939393"/><rect x="548.8" y="749.0" width="3.9" height="3.9" fill="#7a7a7a"/><rect x="552.4" y="749.0" width="3.9" height="3.9" fill="#797979"/><rect x="556.0" y="749.0" width="3.9" height="3.9" fill="#919191"/><rect x="559.6" y="749.0" width="3.9" height="3.9" fill="#8a8a8a"/><rect x="563.2" y="749.0" width="3.9" height="3.9" fill="#a8a8a8"/><rect x="566.8" y="749.0" width="3.9" height="3.9" fill="#cfcfcf"/><rect x="570.4" y="749.0" width="3.9" height="3.9" fill="#e4e4e4"/><rect x="574.0" y="749.0" width="3.9" height="3.9" fill="#e1e1e1"/><rect x="577.6" y="749.0" width="3.9" height="3.9" fill="#d1d1d1"/><rect x="581.2" y="749.0" width="3.9" height="3.9" fill="#9c9c9c"/><rect x="584.8" y="749.0" width="3.9" height="3.9" fill="#7a7a7a"/><rect x="588.4" y="749.0" width="3.9" height="3.9" fill="#787878"/><rect x="592.0" y="749.0" width="3.9" height="3.9" fill="#696969"/><rect x="595.6" y="749.0" width="3.9" height="3.9" fill="#595959"/><rect x="599.2" y="749.0" width="3.9" height="3.9" fill="#696969"/><rect x="602.8" y="749.0" width="3.9" height="3.9" fill="#7f7f7f"/><rect x="606.4" y="749.0" width="3.9" height="3.9" fill="#9f9f9f"/><rect x="610.0" y="749.0" width="3.9" height="3.9" fill="#949494"/><rect x="613.6" y="749.0" width="3.9" height="3.9" fill="#a6a6a6"/><rect x="617.2" y="749.0" width="3.9" height="3.9" fill="#b0b0b0"/><rect x="548.8" y="752.6" width="3.9" height="3.9" fill="#747474"/><rect x="552.4" y="752.6" width="3.9" height="3.9" fill="#8b8b8b"/><rect x="556.0" y="752.6" width="3.9" height="3.9" fill="#9a9a9a"/><rect x="559.6" y="752.6" width="3.9" height="3.9" fill="#c4c4c4"/><rect x="563.2" y="752.6" width="3.9" height="3.9" fill="#ebebeb"/><rect x="566.8" y="752.6" width="3.9" height="3.9" fill="#ffffff"/><rect x="570.4" y="752.6" width="3.9" height="3.9" fill="#ffffff"/><rect x="574.0" y="752.6" width="3.9" height="3.9" fill="#f9f9f9"/><rect x="577.6" y="752.6" width="3.9" height="3.9" fill="#bfbfbf"/><rect x="581.2" y="752.6" width="3.9" height="3.9" fill="#7e7e7e"/><rect x="584.8" y="752.6" width="3.9" height="3.9" fill="#6c6c6c"/><rect x="588.4" y="752.6" width="3.9" height="3.9" fill="#4e4e4e"/><rect x="592.0" y="752.6" width="3.9" height="3.9" fill="#606060"/><rect x="595.6" y="752.6" width="3.9" height="3.9" fill="#676767"/><rect x="599.2" y="752.6" width="3.9" height="3.9" fill="#8e8e8e"/><rect x="602.8" y="752.6" width="3.9" height="3.9" fill="#9f9f9f"/></g>
<polygon points="569.6,678.6 589.3,678.6 610.4,687.8 636.6,699.6 652.4,707.5 673.4,719.3 660.3,725.9 647.1,732.4 626.1,742.9 616.9,750.8 592,752.1 555.2,753.5 539.4,746.9 525,740.3 505.3,733.7 503.9,721.9 511.8,711.4 534.2,700.9 552.5,690.4" fill="none" stroke="#111" stroke-width="1.1"/>
<circle cx="377" cy="747.2" r="10.5" fill="none" stroke="#c8323a" stroke-width="2"/>
<line x1="384.5" y1="754.5" x2="424" y2="793.5" stroke="#c8323a" stroke-width="2"/>
<path d="M428.3,797.7 L417.5,792.5 L423.5,786.5 Z" fill="#c8323a"/>
<circle cx="613" cy="732.7" r="12.8" fill="none" stroke="#c8323a" stroke-width="2"/>
<line x1="614.5" y1="745.5" x2="618.5" y2="764" stroke="#c8323a" stroke-width="2"/>
<path d="M619.8,770.5 L614.3,761.5 L622.8,760.5 Z" fill="#c8323a"/>
<text x="430.1" y="812.0" font-size="20" fill="#c8323a" text-anchor="start" textLength="112.6" lengthAdjust="spacingAndGlyphs" >20.8±1.3 Ma</text>
<text x="561.2" y="788.8" font-size="20" fill="#c8323a" text-anchor="start" textLength="113.3" lengthAdjust="spacingAndGlyphs" >20.2±1.0 Ma</text>
<path d="M579.7,827.3 v6.2 M579.7,830.5 H670.5 M670.5,827.3 v6.2" stroke="#222" stroke-width="1.3" fill="none"/>
<text x="596.7" y="845.8" font-size="15" fill="#1a1a1a" text-anchor="start" textLength="56.1" lengthAdjust="spacingAndGlyphs" >100 µm</text>
</svg></body></html>
